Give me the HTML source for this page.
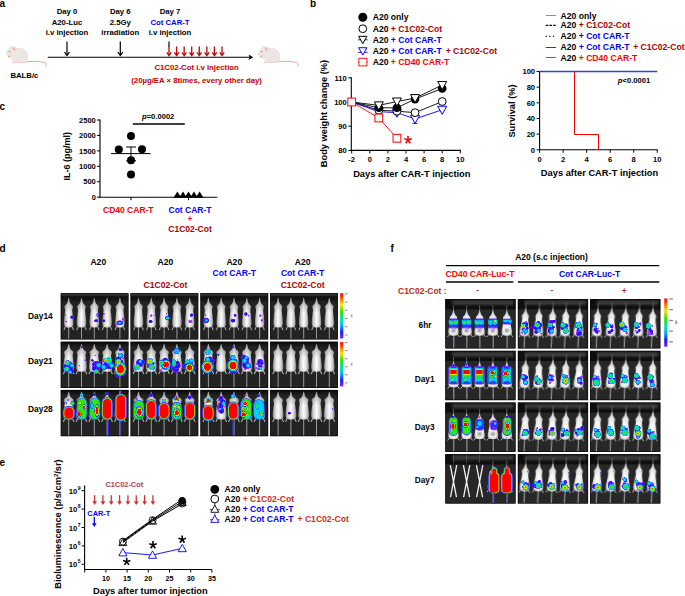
<!DOCTYPE html>
<html><head><meta charset="utf-8"><title>Figure</title>
<style>
html,body{margin:0;padding:0;background:#fff;}
body{width:685px;height:596px;overflow:hidden;font-family:"Liberation Sans",sans-serif;}
svg{display:block;}
text{font-family:"Liberation Sans",sans-serif;}
</style></head><body>
<svg width="685" height="596" viewBox="0 0 685 596">
<defs>
<filter id="fm" x="-20%" y="-10%" width="140%" height="120%"><feGaussianBlur stdDeviation="0.45"/></filter>
<filter id="fb" x="-30%" y="-30%" width="160%" height="160%"><feGaussianBlur stdDeviation="0.5"/></filter>
<filter id="fs" x="-10%" y="-30%" width="120%" height="160%"><feGaussianBlur stdDeviation="0.8"/></filter>
<linearGradient id="mg" x1="0" x2="1" y1="0" y2="0"><stop offset="0" stop-color="#7a7a7a"/><stop offset="0.2" stop-color="#cfcfcf"/><stop offset="0.5" stop-color="#fdfdfd"/><stop offset="0.8" stop-color="#cfcfcf"/><stop offset="1" stop-color="#7a7a7a"/></linearGradient>
<linearGradient id="mgf" x1="0" x2="1" y1="0" y2="0"><stop offset="0" stop-color="#a8a8a8"/><stop offset="0.18" stop-color="#e6e6e6"/><stop offset="0.5" stop-color="#ffffff"/><stop offset="0.82" stop-color="#e6e6e6"/><stop offset="1" stop-color="#a8a8a8"/></linearGradient>
<linearGradient id="mvf" x1="0" x2="0" y1="0" y2="1"><stop offset="0" stop-color="#000" stop-opacity="0.3"/><stop offset="0.25" stop-color="#000" stop-opacity="0.08"/><stop offset="0.5" stop-color="#000" stop-opacity="0"/><stop offset="0.9" stop-color="#000" stop-opacity="0"/><stop offset="1" stop-color="#000" stop-opacity="0.15"/></linearGradient>
<linearGradient id="mv" x1="0" x2="0" y1="0" y2="1"><stop offset="0" stop-color="#000" stop-opacity="0.42"/><stop offset="0.3" stop-color="#000" stop-opacity="0.12"/><stop offset="0.5" stop-color="#000" stop-opacity="0"/><stop offset="0.9" stop-color="#000" stop-opacity="0.0"/><stop offset="1" stop-color="#000" stop-opacity="0.1"/></linearGradient>
<radialGradient id="belly"><stop offset="0" stop-color="#777" stop-opacity="0.75"/><stop offset="0.6" stop-color="#888" stop-opacity="0.5"/><stop offset="1" stop-color="#999" stop-opacity="0"/></radialGradient>
<radialGradient id="gG2"><stop offset="0" stop-color="#40f000"/><stop offset="0.42" stop-color="#19e620"/><stop offset="0.6" stop-color="#00e0ff"/><stop offset="0.82" stop-color="#00b8ff"/><stop offset="0.95" stop-color="#1535ff"/><stop offset="1" stop-color="#1535ff" stop-opacity="0"/></radialGradient>
<radialGradient id="gC2"><stop offset="0" stop-color="#00f0ff"/><stop offset="0.6" stop-color="#00c0ff"/><stop offset="0.9" stop-color="#1535ff"/><stop offset="1" stop-color="#1535ff" stop-opacity="0"/></radialGradient>
<radialGradient id="gY2"><stop offset="0" stop-color="#ff1000"/><stop offset="0.22" stop-color="#ff8000"/><stop offset="0.4" stop-color="#f0f000"/><stop offset="0.6" stop-color="#30e800"/><stop offset="0.8" stop-color="#00e0ff"/><stop offset="0.95" stop-color="#1535ff"/><stop offset="1" stop-color="#1535ff" stop-opacity="0"/></radialGradient>
<linearGradient id="vD1" x1="0" x2="0" y1="0" y2="1"><stop offset="0" stop-color="#7a20ff"/><stop offset="0.06" stop-color="#1535ff"/><stop offset="0.12" stop-color="#00d0ff"/><stop offset="0.16" stop-color="#30e800"/><stop offset="0.19" stop-color="#ffe000"/><stop offset="0.23" stop-color="#ff0000"/><stop offset="0.42" stop-color="#ff0000"/><stop offset="0.46" stop-color="#ffe000"/><stop offset="0.5" stop-color="#30e800"/><stop offset="0.66" stop-color="#20e040"/><stop offset="0.74" stop-color="#00d8ff"/><stop offset="0.84" stop-color="#00a0ff"/><stop offset="0.9" stop-color="#1535ff"/><stop offset="1" stop-color="#7a20ff"/></linearGradient>
<linearGradient id="hRim" x1="0" x2="1" y1="0" y2="0"><stop offset="0" stop-color="#7a20ff"/><stop offset="0.06" stop-color="#1535ff"/><stop offset="0.13" stop-color="#00c8ff" stop-opacity="0.9"/><stop offset="0.2" stop-color="#30e800" stop-opacity="0.5"/><stop offset="0.27" stop-color="#ffe000" stop-opacity="0"/><stop offset="0.73" stop-color="#ffe000" stop-opacity="0"/><stop offset="0.8" stop-color="#30e800" stop-opacity="0.5"/><stop offset="0.87" stop-color="#00c8ff" stop-opacity="0.9"/><stop offset="0.94" stop-color="#1535ff"/><stop offset="1" stop-color="#7a20ff"/></linearGradient>
<linearGradient id="vD0" x1="0" x2="0" y1="0" y2="1"><stop offset="0" stop-color="#7020ff"/><stop offset="0.08" stop-color="#1535ff"/><stop offset="0.2" stop-color="#00c0ff"/><stop offset="0.5" stop-color="#00a8ff"/><stop offset="0.62" stop-color="#1535ff"/><stop offset="0.85" stop-color="#4a28ff"/><stop offset="1" stop-color="#8a30ff" stop-opacity="0.7"/></linearGradient>
<linearGradient id="vD1b" x1="0" x2="0" y1="0" y2="1"><stop offset="0" stop-color="#7a20ff"/><stop offset="0.08" stop-color="#1535ff"/><stop offset="0.2" stop-color="#00b0ff"/><stop offset="0.3" stop-color="#20e060"/><stop offset="0.6" stop-color="#30e800"/><stop offset="0.72" stop-color="#00d8ff"/><stop offset="0.84" stop-color="#00a0ff"/><stop offset="0.9" stop-color="#1535ff"/><stop offset="1" stop-color="#7a20ff"/></linearGradient>
<radialGradient id="gH"><stop offset="0" stop-color="#ff0000"/><stop offset="0.5" stop-color="#ff0000"/><stop offset="0.6" stop-color="#ffe600"/><stop offset="0.7" stop-color="#19e600"/><stop offset="0.8" stop-color="#00e0ff"/><stop offset="0.9" stop-color="#0a20ff"/><stop offset="0.97" stop-color="#8a20ff"/><stop offset="1" stop-color="#8a20ff" stop-opacity="0"/></radialGradient>
<radialGradient id="gR"><stop offset="0" stop-color="#ff0000"/><stop offset="0.72" stop-color="#ff0000"/><stop offset="0.8" stop-color="#ffe600"/><stop offset="0.86" stop-color="#19e600"/><stop offset="0.91" stop-color="#00e0ff"/><stop offset="0.96" stop-color="#0a20ff"/><stop offset="1" stop-color="#8a20ff" stop-opacity="0.2"/></radialGradient>
<radialGradient id="gY"><stop offset="0" stop-color="#ff2a00"/><stop offset="0.2" stop-color="#ffb000"/><stop offset="0.38" stop-color="#d8f000"/><stop offset="0.55" stop-color="#19e600"/><stop offset="0.7" stop-color="#00e0ff"/><stop offset="0.86" stop-color="#0a20ff"/><stop offset="0.96" stop-color="#8a20ff"/><stop offset="1" stop-color="#8a20ff" stop-opacity="0"/></radialGradient>
<radialGradient id="gG"><stop offset="0" stop-color="#30f000"/><stop offset="0.3" stop-color="#19e640"/><stop offset="0.5" stop-color="#00e0ff"/><stop offset="0.75" stop-color="#0a20ff"/><stop offset="0.95" stop-color="#8a20ff"/><stop offset="1" stop-color="#8a20ff" stop-opacity="0"/></radialGradient>
<radialGradient id="gC"><stop offset="0" stop-color="#00f0ff"/><stop offset="0.3" stop-color="#00b0ff"/><stop offset="0.6" stop-color="#0a20ff"/><stop offset="0.92" stop-color="#8a20ff"/><stop offset="1" stop-color="#8a20ff" stop-opacity="0"/></radialGradient>
<radialGradient id="gB"><stop offset="0" stop-color="#0020ff"/><stop offset="0.55" stop-color="#2010ff"/><stop offset="0.9" stop-color="#9020ff"/><stop offset="1" stop-color="#9020ff" stop-opacity="0"/></radialGradient>
<radialGradient id="gP"><stop offset="0" stop-color="#8a20ff"/><stop offset="0.7" stop-color="#a040ff" stop-opacity="0.9"/><stop offset="1" stop-color="#b060ff" stop-opacity="0"/></radialGradient>
<linearGradient id="cb" x1="0" x2="0" y1="0" y2="1"><stop offset="0" stop-color="#ff0000"/><stop offset="0.1" stop-color="#ff5000"/><stop offset="0.25" stop-color="#ffe000"/><stop offset="0.42" stop-color="#30e000"/><stop offset="0.6" stop-color="#00e0c0"/><stop offset="0.72" stop-color="#00b0ff"/><stop offset="0.86" stop-color="#1020ff"/><stop offset="1" stop-color="#8a20e0"/></linearGradient>
<g id="md" filter="url(#fm)">
 <line x1="0" y1="28" x2="0" y2="52" stroke="#b0b0b0" stroke-width="0.85"/>
 <path d="M-3.4 28.4 L-4.9 32.2 M3.4 28.4 L4.9 32.2" stroke="#b4b4b4" stroke-width="1.0" fill="none"/>
 <path id="mdp" d="M0 -0.3 L0.6 1.5 L0.9 3.5 L1.5 5.2 L2.4 6.4 L3.4 7.2 L4.4 8.3 L4.5 9.4 L3.9 10.8 L3.7 12.5 L4.0 15 L4.5 19 L4.9 23 L4.9 26 L4.3 28.2 L2.8 29.4 L0 29.7 L-2.8 29.4 L-4.3 28.2 L-4.9 26 L-4.9 23 L-4.5 19 L-4.0 15 L-3.7 12.5 L-3.9 10.8 L-4.5 9.4 L-4.4 8.3 L-3.4 7.2 L-2.4 6.4 L-1.5 5.2 L-0.9 3.5 L-0.6 1.5 Z" fill="url(#mg)"/>
 <path d="M0 -0.3 L0.6 1.5 L0.9 3.5 L1.5 5.2 L2.4 6.4 L3.4 7.2 L4.4 8.3 L4.5 9.4 L3.9 10.8 L3.7 12.5 L4.0 15 L4.5 19 L4.9 23 L4.9 26 L4.3 28.2 L2.8 29.4 L0 29.7 L-2.8 29.4 L-4.3 28.2 L-4.9 26 L-4.9 23 L-4.5 19 L-4.0 15 L-3.7 12.5 L-3.9 10.8 L-4.5 9.4 L-4.4 8.3 L-3.4 7.2 L-2.4 6.4 L-1.5 5.2 L-0.9 3.5 L-0.6 1.5 Z" fill="url(#mv)"/>
</g>
<g id="mf" filter="url(#fm)">
 <line x1="0.3" y1="27" x2="0.3" y2="48" stroke="#bcbcbc" stroke-width="0.95"/>
 <line x1="0" y1="-5" x2="0" y2="0" stroke="#6a6a6a" stroke-width="0.9"/>
 <path d="M-3.6 26.8 L-6.2 30.6 M3.8 26.8 L6.2 30.6" stroke="#c0c0c0" stroke-width="1.0" fill="none"/>
 <path d="M0 -0.3 L0.6 1.6 L1.0 3.6 L1.8 5.4 L2.9 6.8 L3.9 8.0 L3.8 9.8 L3.4 12 L3.8 15 L4.6 19 L5.4 23 L5.5 26 L4.6 28 L2.8 28.9 L0 29.1 L-2.8 28.9 L-4.6 28 L-5.5 26 L-5.4 23 L-4.6 19 L-3.8 15 L-3.4 12 L-3.8 9.8 L-3.9 8.0 L-2.9 6.8 L-1.8 5.4 L-1.0 3.6 L-0.6 1.6 Z" fill="url(#mgf)"/>
 <path d="M0 -0.3 L0.6 1.6 L1.0 3.6 L1.8 5.4 L2.9 6.8 L3.9 8.0 L3.8 9.8 L3.4 12 L3.8 15 L4.6 19 L5.4 23 L5.5 26 L4.6 28 L2.8 28.9 L0 29.1 L-2.8 28.9 L-4.6 28 L-5.5 26 L-5.4 23 L-4.6 19 L-3.8 15 L-3.4 12 L-3.8 9.8 L-3.9 8.0 L-2.9 6.8 L-1.8 5.4 L-1.0 3.6 L-0.6 1.6 Z" fill="url(#mvf)"/>
</g>
<g id="mfb"><ellipse cx="0" cy="23.4" rx="3.1" ry="3.6" fill="url(#belly)"/></g>
</defs>
<text x="-0.60" y="6.88" font-size="10" font-weight="bold" fill="#000" text-anchor="start" >a</text>
<text x="67.00" y="14.27" font-size="7.75" font-weight="bold" fill="#000" text-anchor="middle" >Day 0</text>
<text x="67.00" y="25.27" font-size="7.75" font-weight="bold" fill="#000" text-anchor="middle" >A20-Luc</text>
<text x="67.00" y="34.97" font-size="7.75" font-weight="bold" fill="#000" text-anchor="middle" >i.v injection</text>
<text x="120.30" y="14.27" font-size="7.75" font-weight="bold" fill="#000" text-anchor="middle" >Day 6</text>
<text x="120.30" y="25.27" font-size="7.75" font-weight="bold" fill="#000" text-anchor="middle" >2.5Gy</text>
<text x="120.30" y="34.97" font-size="7.75" font-weight="bold" fill="#000" text-anchor="middle" >irradiation</text>
<text x="170.00" y="14.27" font-size="7.75" font-weight="bold" fill="#000" text-anchor="middle" >Day 7</text>
<text x="170.00" y="25.27" font-size="7.75" font-weight="bold" fill="#0000ff" text-anchor="middle" >Cot CAR-T</text>
<text x="170.00" y="34.97" font-size="7.75" font-weight="bold" fill="#000" text-anchor="middle" >i.v injection</text>
<line x1="47.70" y1="57.30" x2="250.00" y2="57.30" stroke="#000" stroke-width="1.1" />
<path d="M248.5 54.6 L253.3 57.3 L248.5 60 L249.6 57.3 Z" fill="#000"/>
<line x1="67.00" y1="41.50" x2="67.00" y2="54.90" stroke="#000" stroke-width="1.2" />
<path d="M64.50 52.00 L67.00 55.40 L69.50 52.00" fill="none" stroke="#000" stroke-width="1.2" stroke-linejoin="miter"/>
<line x1="120.30" y1="41.50" x2="120.30" y2="54.90" stroke="#000" stroke-width="1.2" />
<path d="M117.80 52.00 L120.30 55.40 L122.80 52.00" fill="none" stroke="#000" stroke-width="1.2" stroke-linejoin="miter"/>
<line x1="169.00" y1="41.50" x2="169.00" y2="47.00" stroke="#000" stroke-width="1.2" />
<line x1="169.00" y1="46.50" x2="169.00" y2="55.10" stroke="#c40000" stroke-width="1.3" />
<path d="M166.80 52.40 L169.00 55.60 L171.20 52.40" fill="none" stroke="#c40000" stroke-width="1.3" stroke-linejoin="miter"/>
<line x1="176.57" y1="46.50" x2="176.57" y2="55.10" stroke="#c40000" stroke-width="1.3" />
<path d="M174.37 52.40 L176.57 55.60 L178.77 52.40" fill="none" stroke="#c40000" stroke-width="1.3" stroke-linejoin="miter"/>
<line x1="184.14" y1="46.50" x2="184.14" y2="55.10" stroke="#c40000" stroke-width="1.3" />
<path d="M181.94 52.40 L184.14 55.60 L186.34 52.40" fill="none" stroke="#c40000" stroke-width="1.3" stroke-linejoin="miter"/>
<line x1="191.71" y1="46.50" x2="191.71" y2="55.10" stroke="#c40000" stroke-width="1.3" />
<path d="M189.51 52.40 L191.71 55.60 L193.91 52.40" fill="none" stroke="#c40000" stroke-width="1.3" stroke-linejoin="miter"/>
<line x1="199.28" y1="46.50" x2="199.28" y2="55.10" stroke="#c40000" stroke-width="1.3" />
<path d="M197.08 52.40 L199.28 55.60 L201.48 52.40" fill="none" stroke="#c40000" stroke-width="1.3" stroke-linejoin="miter"/>
<line x1="206.85" y1="46.50" x2="206.85" y2="55.10" stroke="#c40000" stroke-width="1.3" />
<path d="M204.65 52.40 L206.85 55.60 L209.05 52.40" fill="none" stroke="#c40000" stroke-width="1.3" stroke-linejoin="miter"/>
<line x1="214.42" y1="46.50" x2="214.42" y2="55.10" stroke="#c40000" stroke-width="1.3" />
<path d="M212.22 52.40 L214.42 55.60 L216.62 52.40" fill="none" stroke="#c40000" stroke-width="1.3" stroke-linejoin="miter"/>
<line x1="221.99" y1="46.50" x2="221.99" y2="55.10" stroke="#c40000" stroke-width="1.3" />
<path d="M219.79 52.40 L221.99 55.60 L224.19 52.40" fill="none" stroke="#c40000" stroke-width="1.3" stroke-linejoin="miter"/>
<text x="196.60" y="70.17" font-size="7.75" font-weight="bold" fill="#c00000" text-anchor="middle" >C1C02-Cot i.v injection</text>
<text x="196.60" y="83.17" font-size="7.75" font-weight="bold" fill="#c00000" text-anchor="middle" >(20µg/EA × 8times, every other day)</text>
<text x="24.40" y="78.47" font-size="7.75" font-weight="bold" fill="#000" text-anchor="middle" >BALB/c</text>
<g transform="translate(0 0)"><path d="M25 61.7 C31 61.4 40 61 44.8 62.7 C46.3 63.4 46.4 65.2 45.6 66.4" fill="none" stroke="#ec9a94" stroke-width="0.9" stroke-linecap="round"/><path d="M11.8 62.6 L25.2 62.4" fill="none" stroke="#f0a8a0" stroke-width="0.7"/><path d="M6.1 53.6 C6.8 51 8.2 48.8 10.2 47.3 C11.5 46.2 13 46.3 14.5 47.4 C16 48 17.5 48 19.5 48.1 C23.5 48.3 27 51 27.8 55 C28.4 58.5 27 61.5 25.2 62.3 L14.2 62.4 C12.8 61.5 12 60 11.8 58.5 C10.5 58.6 9 58 8.3 57 C7.6 56.4 7.4 55.8 7.6 55.2 C6.8 54.9 6.2 54.3 6.1 53.6 Z" fill="#ece7e4" stroke="#ddd5d0" stroke-width="0.35"/><path d="M16.5 62.2 C16.6 57.5 20.5 55 24.8 56.6" fill="none" stroke="#d9d1cc" stroke-width="0.45"/><ellipse cx="11.2" cy="47.2" rx="1.2" ry="1.5" fill="#efe6e2"/><ellipse cx="14.1" cy="48.8" rx="1.7" ry="2.1" transform="rotate(-25 14.1 48.8)" fill="#f0dcd8" stroke="#e2cfca" stroke-width="0.3"/><ellipse cx="14.2" cy="49" rx="1.0" ry="1.4" transform="rotate(-25 14.2 49)" fill="#f2aaa6"/><circle cx="9.5" cy="51.5" r="0.6" fill="#c63a32"/><circle cx="6.4" cy="53.7" r="0.5" fill="#f0b0aa"/><ellipse cx="9.2" cy="56.4" rx="1.3" ry="0.85" fill="#f4aaa4"/><path d="M10.5 53.5 L12.2 54.2 M10.6 54.6 L12 55.4" stroke="#d8cfca" stroke-width="0.3"/></g>
<g transform="translate(252.1 0)"><path d="M25 61.7 C31 61.4 40 61 44.8 62.7 C46.3 63.4 46.4 65.2 45.6 66.4" fill="none" stroke="#ec9a94" stroke-width="0.9" stroke-linecap="round"/><path d="M11.8 62.6 L25.2 62.4" fill="none" stroke="#f0a8a0" stroke-width="0.7"/><path d="M6.1 53.6 C6.8 51 8.2 48.8 10.2 47.3 C11.5 46.2 13 46.3 14.5 47.4 C16 48 17.5 48 19.5 48.1 C23.5 48.3 27 51 27.8 55 C28.4 58.5 27 61.5 25.2 62.3 L14.2 62.4 C12.8 61.5 12 60 11.8 58.5 C10.5 58.6 9 58 8.3 57 C7.6 56.4 7.4 55.8 7.6 55.2 C6.8 54.9 6.2 54.3 6.1 53.6 Z" fill="#ece7e4" stroke="#ddd5d0" stroke-width="0.35"/><path d="M16.5 62.2 C16.6 57.5 20.5 55 24.8 56.6" fill="none" stroke="#d9d1cc" stroke-width="0.45"/><ellipse cx="11.2" cy="47.2" rx="1.2" ry="1.5" fill="#efe6e2"/><ellipse cx="14.1" cy="48.8" rx="1.7" ry="2.1" transform="rotate(-25 14.1 48.8)" fill="#f0dcd8" stroke="#e2cfca" stroke-width="0.3"/><ellipse cx="14.2" cy="49" rx="1.0" ry="1.4" transform="rotate(-25 14.2 49)" fill="#f2aaa6"/><circle cx="9.5" cy="51.5" r="0.6" fill="#c63a32"/><circle cx="6.4" cy="53.7" r="0.5" fill="#f0b0aa"/><ellipse cx="9.2" cy="56.4" rx="1.3" ry="0.85" fill="#f4aaa4"/><path d="M10.5 53.5 L12.2 54.2 M10.6 54.6 L12 55.4" stroke="#d8cfca" stroke-width="0.3"/></g>
<text x="310.00" y="7.18" font-size="10" font-weight="bold" fill="#000" text-anchor="start" >b</text>
<circle cx="362.8" cy="17.2" r="4.5" fill="#000"/>
<circle cx="362.8" cy="28.7" r="3.9" fill="#fff" stroke="#000" stroke-width="1.0"/>
<line x1="357.90" y1="39.80" x2="367.70" y2="39.80" stroke="#000" stroke-width="0.8" />
<path d="M358.70 36.32 L366.90 36.32 L362.80 43.70 Z" fill="#fff" stroke="#000" stroke-width="1.0"/>
<line x1="357.90" y1="52.40" x2="367.70" y2="52.40" stroke="#0000ff" stroke-width="0.8" />
<path d="M358.70 47.72 L366.90 47.72 L362.80 55.09 Z" fill="#fff" stroke="#0000ff" stroke-width="1.0"/>
<rect x="358.90000000000003" y="58.300000000000004" width="8.0" height="7.6" fill="#fff" stroke="#ff0000" stroke-width="0.9"/>
<line x1="357.90" y1="62.20" x2="358.90" y2="62.20" stroke="#ff0000" stroke-width="0.8" />
<line x1="366.90" y1="62.20" x2="367.90" y2="62.20" stroke="#ff0000" stroke-width="0.8" />
<text x="372.70" y="20.08" font-size="8.6" font-weight="bold" text-anchor="start" xml:space="preserve"><tspan fill="#000">A20 only</tspan></text>
<text x="372.70" y="31.58" font-size="8.6" font-weight="bold" text-anchor="start" xml:space="preserve"><tspan fill="#000">A20 </tspan><tspan fill="#aa0000">+ C1C02-Cot</tspan></text>
<text x="372.70" y="42.68" font-size="8.6" font-weight="bold" text-anchor="start" xml:space="preserve"><tspan fill="#000">A20 </tspan><tspan fill="#0000ff">+ Cot CAR-T</tspan></text>
<text x="372.70" y="54.08" font-size="8.6" font-weight="bold" text-anchor="start" xml:space="preserve"><tspan fill="#000">A20 </tspan><tspan fill="#0000ff">+ Cot CAR-T </tspan><tspan fill="#aa0000" dx="1.6">+ C1C02-Cot</tspan></text>
<text x="372.70" y="65.28" font-size="8.6" font-weight="bold" text-anchor="start" xml:space="preserve"><tspan fill="#000">A20 </tspan><tspan fill="#ff0000">+ CD40 CAR-T</tspan></text>
<line x1="351.30" y1="77.30" x2="351.30" y2="150.90" stroke="#000" stroke-width="1.1" />
<line x1="350.80" y1="150.40" x2="460.80" y2="150.40" stroke="#000" stroke-width="1.1" />
<line x1="348.30" y1="150.40" x2="351.30" y2="150.40" stroke="#000" stroke-width="1.0" />
<text x="346.80" y="153.12" font-size="7.6" font-weight="bold" fill="#000" text-anchor="end" >80</text>
<line x1="348.30" y1="126.20" x2="351.30" y2="126.20" stroke="#000" stroke-width="1.0" />
<text x="346.80" y="128.92" font-size="7.6" font-weight="bold" fill="#000" text-anchor="end" >90</text>
<line x1="348.30" y1="102.00" x2="351.30" y2="102.00" stroke="#000" stroke-width="1.0" />
<text x="346.80" y="104.72" font-size="7.6" font-weight="bold" fill="#000" text-anchor="end" >100</text>
<line x1="348.30" y1="77.80" x2="351.30" y2="77.80" stroke="#000" stroke-width="1.0" />
<text x="346.80" y="80.52" font-size="7.6" font-weight="bold" fill="#000" text-anchor="end" >110</text>
<line x1="351.70" y1="150.40" x2="351.70" y2="153.40" stroke="#000" stroke-width="1.0" />
<text x="351.70" y="162.32" font-size="7.6" font-weight="bold" fill="#000" text-anchor="middle" >-2</text>
<line x1="369.80" y1="150.40" x2="369.80" y2="153.40" stroke="#000" stroke-width="1.0" />
<text x="369.80" y="162.32" font-size="7.6" font-weight="bold" fill="#000" text-anchor="middle" >0</text>
<line x1="387.90" y1="150.40" x2="387.90" y2="153.40" stroke="#000" stroke-width="1.0" />
<text x="387.90" y="162.32" font-size="7.6" font-weight="bold" fill="#000" text-anchor="middle" >2</text>
<line x1="406.00" y1="150.40" x2="406.00" y2="153.40" stroke="#000" stroke-width="1.0" />
<text x="406.00" y="162.32" font-size="7.6" font-weight="bold" fill="#000" text-anchor="middle" >4</text>
<line x1="424.10" y1="150.40" x2="424.10" y2="153.40" stroke="#000" stroke-width="1.0" />
<text x="424.10" y="162.32" font-size="7.6" font-weight="bold" fill="#000" text-anchor="middle" >6</text>
<line x1="442.20" y1="150.40" x2="442.20" y2="153.40" stroke="#000" stroke-width="1.0" />
<text x="442.20" y="162.32" font-size="7.6" font-weight="bold" fill="#000" text-anchor="middle" >8</text>
<line x1="460.30" y1="150.40" x2="460.30" y2="153.40" stroke="#000" stroke-width="1.0" />
<text x="460.30" y="162.32" font-size="7.6" font-weight="bold" fill="#000" text-anchor="middle" >10</text>
<text x="411.80" y="176.53" font-size="9.3" font-weight="bold" fill="#000" text-anchor="middle" >Days after CAR-T injection</text>
<text x="324.00" y="116.83" font-size="9.3" font-weight="bold" fill="#000" text-anchor="middle" transform="rotate(-90 324 113.5)" >Body weight change (%)</text>
<polyline points="351.70,102.00 378.85,107.81 396.95,107.81 415.05,99.10 442.20,88.45" fill="none" stroke="#000" stroke-width="0.9"/>
<polyline points="351.70,102.00 378.85,110.23 396.95,111.20 415.05,112.65 442.20,101.52" fill="none" stroke="#000" stroke-width="0.9"/>
<polyline points="351.70,102.00 378.85,105.39 396.95,101.52 415.05,98.13 442.20,85.06" fill="none" stroke="#000" stroke-width="0.9"/>
<polyline points="351.70,102.00 378.85,111.68 396.95,112.65 415.05,118.94 442.20,109.74" fill="none" stroke="#0000ff" stroke-width="0.9"/>
<polyline points="351.70,102.00 378.85,117.97 396.95,138.30" fill="none" stroke="#ff0000" stroke-width="0.9"/>
<line x1="415.05" y1="114.94" x2="415.05" y2="123.54" stroke="#0000ff" stroke-width="0.8" />
<line x1="412.45" y1="123.54" x2="417.65" y2="123.54" stroke="#0000ff" stroke-width="0.8" />
<path d="M374.35 108.16 L383.35 108.16 L378.85 116.26 Z" fill="#fff" stroke="#0000ff" stroke-width="1.0"/>
<path d="M392.45 109.12 L401.45 109.12 L396.95 117.22 Z" fill="#fff" stroke="#0000ff" stroke-width="1.0"/>
<path d="M410.55 115.41 L419.55 115.41 L415.05 123.52 Z" fill="#fff" stroke="#0000ff" stroke-width="1.0"/>
<path d="M437.70 106.22 L446.70 106.22 L442.20 114.32 Z" fill="#fff" stroke="#0000ff" stroke-width="1.0"/>
<circle cx="378.85" cy="110.23" r="3.9" fill="#fff" stroke="#000" stroke-width="1.0"/>
<circle cx="396.95" cy="111.20" r="3.9" fill="#fff" stroke="#000" stroke-width="1.0"/>
<circle cx="415.05" cy="112.65" r="3.9" fill="#fff" stroke="#000" stroke-width="1.0"/>
<circle cx="442.20" cy="101.52" r="3.9" fill="#fff" stroke="#000" stroke-width="1.0"/>
<circle cx="378.85" cy="107.81" r="4.3" fill="#000"/>
<circle cx="396.95" cy="107.81" r="4.3" fill="#000"/>
<circle cx="415.05" cy="99.10" r="4.3" fill="#000"/>
<circle cx="442.20" cy="88.45" r="4.3" fill="#000"/>
<path d="M374.35 101.86 L383.35 101.86 L378.85 109.96 Z" fill="#fff" stroke="#000" stroke-width="1.0"/>
<path d="M392.45 97.99 L401.45 97.99 L396.95 106.09 Z" fill="#fff" stroke="#000" stroke-width="1.0"/>
<path d="M410.55 94.60 L419.55 94.60 L415.05 102.70 Z" fill="#fff" stroke="#000" stroke-width="1.0"/>
<path d="M437.70 81.53 L446.70 81.53 L442.20 89.64 Z" fill="#fff" stroke="#000" stroke-width="1.0"/>
<rect x="347.80" y="98.10" width="7.8" height="7.8" fill="#fff" stroke="#ff0000" stroke-width="1.0"/>
<rect x="374.95" y="114.07" width="7.8" height="7.8" fill="#fff" stroke="#ff0000" stroke-width="1.0"/>
<rect x="393.05" y="134.40" width="7.8" height="7.8" fill="#fff" stroke="#ff0000" stroke-width="1.0"/>
<line x1="408.00" y1="140.00" x2="408.00" y2="136.10" stroke="#ff0000" stroke-width="1.6" stroke-linecap="butt"/>
<line x1="408.00" y1="140.00" x2="411.71" y2="138.79" stroke="#ff0000" stroke-width="1.6" stroke-linecap="butt"/>
<line x1="408.00" y1="140.00" x2="410.29" y2="143.16" stroke="#ff0000" stroke-width="1.6" stroke-linecap="butt"/>
<line x1="408.00" y1="140.00" x2="405.71" y2="143.16" stroke="#ff0000" stroke-width="1.6" stroke-linecap="butt"/>
<line x1="408.00" y1="140.00" x2="404.29" y2="138.79" stroke="#ff0000" stroke-width="1.6" stroke-linecap="butt"/>
<line x1="545.70" y1="15.50" x2="556.00" y2="15.50" stroke="#8c8c8c" stroke-width="1.0" />
<line x1="545.70" y1="25.30" x2="556.00" y2="25.30" stroke="#000" stroke-width="1.2" stroke-dasharray="2.6 1.1"/>
<line x1="545.70" y1="36.40" x2="556.00" y2="36.40" stroke="#000" stroke-width="1.2" stroke-dasharray="1.2 2.4"/>
<line x1="545.70" y1="47.50" x2="556.00" y2="47.50" stroke="#1414ff" stroke-width="0.9" />
<line x1="545.70" y1="57.50" x2="556.00" y2="57.50" stroke="#ff3028" stroke-width="1.0" />
<text x="560.60" y="18.58" font-size="8.6" font-weight="bold" text-anchor="start" xml:space="preserve"><tspan fill="#000">A20 only</tspan></text>
<text x="560.60" y="28.38" font-size="8.6" font-weight="bold" text-anchor="start" xml:space="preserve"><tspan fill="#000">A20 </tspan><tspan fill="#aa0000">+ C1C02-Cot</tspan></text>
<text x="560.60" y="39.48" font-size="8.6" font-weight="bold" text-anchor="start" xml:space="preserve"><tspan fill="#000">A20 </tspan><tspan fill="#0000ff">+ Cot CAR-T</tspan></text>
<text x="560.60" y="50.28" font-size="8.6" font-weight="bold" text-anchor="start" xml:space="preserve"><tspan fill="#000">A20 </tspan><tspan fill="#0000ff">+ Cot CAR-T </tspan><tspan fill="#aa0000" dx="1.2">+ C1C02-Cot</tspan></text>
<text x="560.60" y="60.68" font-size="8.6" font-weight="bold" text-anchor="start" xml:space="preserve"><tspan fill="#000">A20 </tspan><tspan fill="#ff0000">+ CD40 CAR-T</tspan></text>
<line x1="539.60" y1="71.00" x2="539.60" y2="150.30" stroke="#000" stroke-width="1.1" />
<line x1="539.10" y1="149.80" x2="657.75" y2="149.80" stroke="#000" stroke-width="1.1" />
<line x1="536.60" y1="149.80" x2="539.60" y2="149.80" stroke="#000" stroke-width="1.0" />
<text x="535.10" y="152.52" font-size="7.6" font-weight="bold" fill="#000" text-anchor="end" >0</text>
<line x1="536.60" y1="134.14" x2="539.60" y2="134.14" stroke="#000" stroke-width="1.0" />
<text x="535.10" y="136.86" font-size="7.6" font-weight="bold" fill="#000" text-anchor="end" >20</text>
<line x1="536.60" y1="118.48" x2="539.60" y2="118.48" stroke="#000" stroke-width="1.0" />
<text x="535.10" y="121.20" font-size="7.6" font-weight="bold" fill="#000" text-anchor="end" >40</text>
<line x1="536.60" y1="102.82" x2="539.60" y2="102.82" stroke="#000" stroke-width="1.0" />
<text x="535.10" y="105.54" font-size="7.6" font-weight="bold" fill="#000" text-anchor="end" >60</text>
<line x1="536.60" y1="87.16" x2="539.60" y2="87.16" stroke="#000" stroke-width="1.0" />
<text x="535.10" y="89.88" font-size="7.6" font-weight="bold" fill="#000" text-anchor="end" >80</text>
<line x1="536.60" y1="71.50" x2="539.60" y2="71.50" stroke="#000" stroke-width="1.0" />
<text x="535.10" y="74.22" font-size="7.6" font-weight="bold" fill="#000" text-anchor="end" >100</text>
<line x1="539.60" y1="149.80" x2="539.60" y2="152.80" stroke="#000" stroke-width="1.0" />
<text x="539.60" y="162.32" font-size="7.6" font-weight="bold" fill="#000" text-anchor="middle" >0</text>
<line x1="563.13" y1="149.80" x2="563.13" y2="152.80" stroke="#000" stroke-width="1.0" />
<text x="563.13" y="162.32" font-size="7.6" font-weight="bold" fill="#000" text-anchor="middle" >2</text>
<line x1="586.66" y1="149.80" x2="586.66" y2="152.80" stroke="#000" stroke-width="1.0" />
<text x="586.66" y="162.32" font-size="7.6" font-weight="bold" fill="#000" text-anchor="middle" >4</text>
<line x1="610.19" y1="149.80" x2="610.19" y2="152.80" stroke="#000" stroke-width="1.0" />
<text x="610.19" y="162.32" font-size="7.6" font-weight="bold" fill="#000" text-anchor="middle" >6</text>
<line x1="633.72" y1="149.80" x2="633.72" y2="152.80" stroke="#000" stroke-width="1.0" />
<text x="633.72" y="162.32" font-size="7.6" font-weight="bold" fill="#000" text-anchor="middle" >8</text>
<line x1="657.25" y1="149.80" x2="657.25" y2="152.80" stroke="#000" stroke-width="1.0" />
<text x="657.25" y="162.32" font-size="7.6" font-weight="bold" fill="#000" text-anchor="middle" >10</text>
<text x="599.50" y="176.13" font-size="9.3" font-weight="bold" fill="#000" text-anchor="middle" >Days after CAR-T injection</text>
<text x="511.80" y="114.33" font-size="9.3" font-weight="bold" fill="#000" text-anchor="middle" transform="rotate(-90 511.8 111)" >Survival (%)</text>
<polyline points="539.60,71.50 574.5,71.50 574.5,134.5 598.5,134.5 598.5,149.80" fill="none" stroke="#ff0000" stroke-width="1.0"/>
<line x1="539.60" y1="71.50" x2="657.25" y2="71.50" stroke="#3a3ae0" stroke-width="1.3" />
<text x="634" y="83.32" font-size="7.6" font-weight="bold" text-anchor="middle"><tspan font-style="italic">p</tspan>&lt;0.0001</text>
<text x="-0.60" y="109.68" font-size="10" font-weight="bold" fill="#000" text-anchor="start" >c</text>
<line x1="100.00" y1="119.50" x2="100.00" y2="197.70" stroke="#000" stroke-width="1.1" />
<line x1="99.50" y1="197.20" x2="217.40" y2="197.20" stroke="#000" stroke-width="1.1" />
<line x1="97.00" y1="197.20" x2="100.00" y2="197.20" stroke="#000" stroke-width="1.0" />
<text x="95.80" y="199.88" font-size="7.5" font-weight="bold" fill="#000" text-anchor="end" >0</text>
<line x1="97.00" y1="181.76" x2="100.00" y2="181.76" stroke="#000" stroke-width="1.0" />
<text x="95.80" y="184.44" font-size="7.5" font-weight="bold" fill="#000" text-anchor="end" >500</text>
<line x1="97.00" y1="166.32" x2="100.00" y2="166.32" stroke="#000" stroke-width="1.0" />
<text x="95.80" y="169.00" font-size="7.5" font-weight="bold" fill="#000" text-anchor="end" >1000</text>
<line x1="97.00" y1="150.88" x2="100.00" y2="150.88" stroke="#000" stroke-width="1.0" />
<text x="95.80" y="153.56" font-size="7.5" font-weight="bold" fill="#000" text-anchor="end" >1500</text>
<line x1="97.00" y1="135.44" x2="100.00" y2="135.44" stroke="#000" stroke-width="1.0" />
<text x="95.80" y="138.12" font-size="7.5" font-weight="bold" fill="#000" text-anchor="end" >2000</text>
<line x1="97.00" y1="120.00" x2="100.00" y2="120.00" stroke="#000" stroke-width="1.0" />
<text x="95.80" y="122.68" font-size="7.5" font-weight="bold" fill="#000" text-anchor="end" >2500</text>
<line x1="131.00" y1="197.20" x2="131.00" y2="200.20" stroke="#000" stroke-width="1.0" />
<line x1="188.50" y1="197.20" x2="188.50" y2="200.20" stroke="#000" stroke-width="1.0" />
<text x="66.90" y="159.42" font-size="9.0" font-weight="bold" fill="#000" text-anchor="middle" transform="rotate(-90 66.9 156.2)" >IL-6 (pg/ml)</text>
<text x="158.2" y="119.02" font-size="7.6" font-weight="bold" text-anchor="middle"><tspan font-style="italic">p</tspan>=0.0002</text>
<line x1="132.80" y1="124.00" x2="184.80" y2="124.00" stroke="#000" stroke-width="1.3" />
<line x1="111.00" y1="153.60" x2="150.60" y2="153.60" stroke="#000" stroke-width="1.0" />
<line x1="131.00" y1="147.00" x2="131.00" y2="160.70" stroke="#000" stroke-width="1.0" />
<line x1="126.20" y1="147.00" x2="136.00" y2="147.00" stroke="#000" stroke-width="1.0" />
<line x1="126.20" y1="160.70" x2="136.00" y2="160.70" stroke="#000" stroke-width="1.0" />
<circle cx="131" cy="136" r="4.0" fill="#000"/>
<circle cx="118.8" cy="149.6" r="4.0" fill="#000"/>
<circle cx="142" cy="149.2" r="4.0" fill="#000"/>
<circle cx="131" cy="160.3" r="4.0" fill="#000"/>
<circle cx="131" cy="174.6" r="4.0" fill="#000"/>
<path d="M173.50 197.80 L181.30 197.80 L177.40 191.40 Z" fill="#000"/>
<path d="M179.10 197.80 L186.90 197.80 L183.00 191.40 Z" fill="#000"/>
<path d="M184.60 197.80 L192.40 197.80 L188.50 191.40 Z" fill="#000"/>
<path d="M190.10 197.80 L197.90 197.80 L194.00 191.40 Z" fill="#000"/>
<path d="M195.70 197.80 L203.50 197.80 L199.60 191.40 Z" fill="#000"/>
<text x="128.30" y="212.64" font-size="8.5" font-weight="bold" fill="#ff0000" text-anchor="middle" >CD40 CAR-T</text>
<text x="190.00" y="212.64" font-size="8.5" font-weight="bold" fill="#0000ff" text-anchor="middle" >Cot CAR-T</text>
<text x="190.00" y="222.24" font-size="8.5" font-weight="bold" fill="#e02010" text-anchor="middle" >+</text>
<text x="190.00" y="231.74" font-size="8.5" font-weight="bold" fill="#aa0000" text-anchor="middle" >C1C02-Cot</text>
<text x="-0.60" y="466.08" font-size="10" font-weight="bold" fill="#000" text-anchor="start" >e</text>
<line x1="84.60" y1="485.50" x2="84.60" y2="570.00" stroke="#000" stroke-width="1.1" />
<line x1="84.10" y1="569.50" x2="211.80" y2="569.50" stroke="#000" stroke-width="1.1" />
<line x1="81.60" y1="564.30" x2="84.60" y2="564.30" stroke="#000" stroke-width="1.0" />
<text x="77.20" y="567.48" font-size="7.7" font-weight="bold" text-anchor="end">10</text>
<text x="80.60" y="563.40" font-size="5" font-weight="bold" text-anchor="end">5</text>
<line x1="81.60" y1="545.90" x2="84.60" y2="545.90" stroke="#000" stroke-width="1.0" />
<text x="77.20" y="549.08" font-size="7.7" font-weight="bold" text-anchor="end">10</text>
<text x="80.60" y="545.00" font-size="5" font-weight="bold" text-anchor="end">6</text>
<line x1="81.60" y1="527.50" x2="84.60" y2="527.50" stroke="#000" stroke-width="1.0" />
<text x="77.20" y="530.68" font-size="7.7" font-weight="bold" text-anchor="end">10</text>
<text x="80.60" y="526.60" font-size="5" font-weight="bold" text-anchor="end">7</text>
<line x1="81.60" y1="509.10" x2="84.60" y2="509.10" stroke="#000" stroke-width="1.0" />
<text x="77.20" y="512.28" font-size="7.7" font-weight="bold" text-anchor="end">10</text>
<text x="80.60" y="508.20" font-size="5" font-weight="bold" text-anchor="end">8</text>
<line x1="81.60" y1="490.70" x2="84.60" y2="490.70" stroke="#000" stroke-width="1.0" />
<text x="77.20" y="493.88" font-size="7.7" font-weight="bold" text-anchor="end">10</text>
<text x="80.60" y="489.80" font-size="5" font-weight="bold" text-anchor="end">9</text>
<line x1="84.70" y1="569.50" x2="84.70" y2="572.50" stroke="#000" stroke-width="1.0" />
<line x1="105.90" y1="569.50" x2="105.90" y2="572.50" stroke="#000" stroke-width="1.0" />
<text x="105.90" y="581.38" font-size="7.2" font-weight="bold" fill="#000" text-anchor="middle" >10</text>
<line x1="127.10" y1="569.50" x2="127.10" y2="572.50" stroke="#000" stroke-width="1.0" />
<text x="127.10" y="581.38" font-size="7.2" font-weight="bold" fill="#000" text-anchor="middle" >15</text>
<line x1="148.30" y1="569.50" x2="148.30" y2="572.50" stroke="#000" stroke-width="1.0" />
<text x="148.30" y="581.38" font-size="7.2" font-weight="bold" fill="#000" text-anchor="middle" >20</text>
<line x1="169.50" y1="569.50" x2="169.50" y2="572.50" stroke="#000" stroke-width="1.0" />
<text x="169.50" y="581.38" font-size="7.2" font-weight="bold" fill="#000" text-anchor="middle" >25</text>
<line x1="190.70" y1="569.50" x2="190.70" y2="572.50" stroke="#000" stroke-width="1.0" />
<text x="190.70" y="581.38" font-size="7.2" font-weight="bold" fill="#000" text-anchor="middle" >30</text>
<line x1="211.90" y1="569.50" x2="211.90" y2="572.50" stroke="#000" stroke-width="1.0" />
<text x="211.90" y="581.38" font-size="7.2" font-weight="bold" fill="#000" text-anchor="middle" >35</text>
<text x="150.40" y="593.93" font-size="9.3" font-weight="bold" fill="#000" text-anchor="middle" >Days after tumor injection</text>
<text x="57.8" y="524" font-size="9.3" font-weight="bold" text-anchor="middle" transform="rotate(-90 57.8 524)" dy="3.3">Bioluminescence (p/s/cm<tspan font-size="6" dy="-3.2">2</tspan><tspan dy="3.2">/sr)</tspan></text>
<text x="124.30" y="487.35" font-size="7.4" font-weight="bold" fill="#b23a55" text-anchor="middle" >C1C02-Cot</text>
<line x1="94.60" y1="495.20" x2="94.60" y2="501.70" stroke="#d23030" stroke-width="1.3" />
<path d="M92.30 501.20 L96.90 501.20 L94.60 505.00 Z" fill="#d23030"/>
<line x1="102.93" y1="495.20" x2="102.93" y2="501.70" stroke="#d23030" stroke-width="1.3" />
<path d="M100.63 501.20 L105.23 501.20 L102.93 505.00 Z" fill="#d23030"/>
<line x1="111.26" y1="495.20" x2="111.26" y2="501.70" stroke="#d23030" stroke-width="1.3" />
<path d="M108.96 501.20 L113.56 501.20 L111.26 505.00 Z" fill="#d23030"/>
<line x1="119.59" y1="495.20" x2="119.59" y2="501.70" stroke="#d23030" stroke-width="1.3" />
<path d="M117.29 501.20 L121.89 501.20 L119.59 505.00 Z" fill="#d23030"/>
<line x1="127.92" y1="495.20" x2="127.92" y2="501.70" stroke="#d23030" stroke-width="1.3" />
<path d="M125.62 501.20 L130.22 501.20 L127.92 505.00 Z" fill="#d23030"/>
<line x1="136.25" y1="495.20" x2="136.25" y2="501.70" stroke="#d23030" stroke-width="1.3" />
<path d="M133.95 501.20 L138.55 501.20 L136.25 505.00 Z" fill="#d23030"/>
<line x1="144.58" y1="495.20" x2="144.58" y2="501.70" stroke="#d23030" stroke-width="1.3" />
<path d="M142.28 501.20 L146.88 501.20 L144.58 505.00 Z" fill="#d23030"/>
<line x1="152.91" y1="495.20" x2="152.91" y2="501.70" stroke="#d23030" stroke-width="1.3" />
<path d="M150.61 501.20 L155.21 501.20 L152.91 505.00 Z" fill="#d23030"/>
<text x="98.80" y="515.65" font-size="7.4" font-weight="bold" fill="#0000ff" text-anchor="middle" >CAR-T</text>
<line x1="94.30" y1="517.00" x2="94.30" y2="523.70" stroke="#0000ff" stroke-width="1.3" />
<path d="M92.00 523.20 L96.60 523.20 L94.30 527.00 Z" fill="#0000ff"/>
<polyline points="122.86,540.70 152.54,519.30 182.22,499.35" fill="none" stroke="#000" stroke-width="1.0"/>
<polyline points="122.86,541.60 152.54,520.20 182.22,501.60" fill="none" stroke="#000" stroke-width="1.0"/>
<polyline points="122.86,542.50 152.54,521.10 182.22,503.85" fill="none" stroke="#000" stroke-width="1.0"/>
<polyline points="122.86,552.60 152.54,555.00 182.22,548.40" fill="none" stroke="#0000ff" stroke-width="0.9"/>
<path d="M118.86 545.60 L126.86 545.60 L122.86 538.40 Z" fill="none" stroke="#000" stroke-width="0.9"/>
<circle cx="122.86" cy="541.60" r="3.5" fill="none" stroke="#000" stroke-width="0.9"/>
<path d="M148.54 524.20 L156.54 524.20 L152.54 517.00 Z" fill="none" stroke="#000" stroke-width="0.9"/>
<circle cx="152.54" cy="520.20" r="3.5" fill="none" stroke="#000" stroke-width="0.9"/>
<path d="M178.22 505.60 L186.22 505.60 L182.22 498.40 Z" fill="none" stroke="#000" stroke-width="0.9"/>
<circle cx="182.22" cy="501.60" r="3.5" fill="none" stroke="#000" stroke-width="0.9"/>
<circle cx="182.22" cy="500.6" r="3.6" fill="#000"/>
<circle cx="182.22" cy="503.6" r="3.4" fill="none" stroke="#000" stroke-width="0.9"/>
<path d="M118.76 555.88 L126.96 555.88 L122.86 548.50 Z" fill="#fff" stroke="#0000ff" stroke-width="0.9"/>
<path d="M148.44 558.28 L156.64 558.28 L152.54 550.90 Z" fill="#fff" stroke="#0000ff" stroke-width="0.9"/>
<path d="M178.12 551.68 L186.32 551.68 L182.22 544.30 Z" fill="#fff" stroke="#0000ff" stroke-width="0.9"/>
<line x1="126.70" y1="561.70" x2="126.70" y2="557.80" stroke="#000" stroke-width="1.6" stroke-linecap="butt"/>
<line x1="126.70" y1="561.70" x2="130.41" y2="560.49" stroke="#000" stroke-width="1.6" stroke-linecap="butt"/>
<line x1="126.70" y1="561.70" x2="128.99" y2="564.86" stroke="#000" stroke-width="1.6" stroke-linecap="butt"/>
<line x1="126.70" y1="561.70" x2="124.41" y2="564.86" stroke="#000" stroke-width="1.6" stroke-linecap="butt"/>
<line x1="126.70" y1="561.70" x2="122.99" y2="560.49" stroke="#000" stroke-width="1.6" stroke-linecap="butt"/>
<line x1="153.00" y1="545.00" x2="153.00" y2="541.10" stroke="#000" stroke-width="1.6" stroke-linecap="butt"/>
<line x1="153.00" y1="545.00" x2="156.71" y2="543.79" stroke="#000" stroke-width="1.6" stroke-linecap="butt"/>
<line x1="153.00" y1="545.00" x2="155.29" y2="548.16" stroke="#000" stroke-width="1.6" stroke-linecap="butt"/>
<line x1="153.00" y1="545.00" x2="150.71" y2="548.16" stroke="#000" stroke-width="1.6" stroke-linecap="butt"/>
<line x1="153.00" y1="545.00" x2="149.29" y2="543.79" stroke="#000" stroke-width="1.6" stroke-linecap="butt"/>
<line x1="182.20" y1="539.50" x2="182.20" y2="535.60" stroke="#000" stroke-width="1.6" stroke-linecap="butt"/>
<line x1="182.20" y1="539.50" x2="185.91" y2="538.29" stroke="#000" stroke-width="1.6" stroke-linecap="butt"/>
<line x1="182.20" y1="539.50" x2="184.49" y2="542.66" stroke="#000" stroke-width="1.6" stroke-linecap="butt"/>
<line x1="182.20" y1="539.50" x2="179.91" y2="542.66" stroke="#000" stroke-width="1.6" stroke-linecap="butt"/>
<line x1="182.20" y1="539.50" x2="178.49" y2="538.29" stroke="#000" stroke-width="1.6" stroke-linecap="butt"/>
<circle cx="214.8" cy="489.3" r="4.4" fill="#000"/>
<circle cx="214.8" cy="499" r="3.9" fill="#fff" stroke="#000" stroke-width="1.0"/>
<line x1="209.90" y1="509.70" x2="219.70" y2="509.70" stroke="#000" stroke-width="0.8" />
<line x1="214.80" y1="502.70" x2="214.80" y2="505.90" stroke="#000" stroke-width="0.8" />
<path d="M210.80 512.30 L218.80 512.30 L214.80 505.10 Z" fill="#fff" stroke="#000" stroke-width="0.9"/>
<line x1="209.90" y1="519.80" x2="219.70" y2="519.80" stroke="#0000ff" stroke-width="0.8" />
<line x1="214.80" y1="513.40" x2="214.80" y2="516.00" stroke="#0000ff" stroke-width="0.8" />
<path d="M210.80 522.40 L218.80 522.40 L214.80 515.20 Z" fill="#fff" stroke="#0000ff" stroke-width="0.9"/>
<text x="224.50" y="492.38" font-size="8.6" font-weight="bold" text-anchor="start" xml:space="preserve"><tspan fill="#000">A20 only</tspan></text>
<text x="224.50" y="502.08" font-size="8.6" font-weight="bold" text-anchor="start" xml:space="preserve"><tspan fill="#000">A20 </tspan><tspan fill="#cf2e26">+ C1C02-Cot</tspan></text>
<text x="224.50" y="511.98" font-size="8.6" font-weight="bold" text-anchor="start" xml:space="preserve"><tspan fill="#000">A20 </tspan><tspan fill="#0000ff">+ Cot CAR-T</tspan></text>
<text x="224.50" y="522.08" font-size="8.6" font-weight="bold" text-anchor="start" xml:space="preserve"><tspan fill="#000">A20 </tspan><tspan fill="#0000ff">+ Cot CAR-T </tspan><tspan fill="#cf2e26" dx="1.6">+ C1C02-Cot</tspan></text>
<text x="-0.60" y="252.38" font-size="10" font-weight="bold" fill="#000" text-anchor="start" >d</text>
<text x="390.60" y="251.98" font-size="10" font-weight="bold" fill="#000" text-anchor="start" >f</text>
<text x="98.30" y="265.18" font-size="8.6" font-weight="bold" fill="#000" text-anchor="middle" >A20</text>
<text x="165.50" y="265.18" font-size="8.6" font-weight="bold" fill="#000" text-anchor="middle" >A20</text>
<text x="234.30" y="265.18" font-size="8.6" font-weight="bold" fill="#000" text-anchor="middle" >A20</text>
<text x="302.60" y="265.18" font-size="8.6" font-weight="bold" fill="#000" text-anchor="middle" >A20</text>
<text x="165.50" y="288.18" font-size="8.6" font-weight="bold" fill="#aa0000" text-anchor="middle" >C1C02-Cot</text>
<text x="234.30" y="276.48" font-size="8.6" font-weight="bold" fill="#0000ff" text-anchor="middle" >Cot CAR-T</text>
<text x="302.60" y="276.48" font-size="8.6" font-weight="bold" fill="#0000ff" text-anchor="middle" >Cot CAR-T</text>
<text x="302.60" y="288.18" font-size="8.6" font-weight="bold" fill="#aa0000" text-anchor="middle" >C1C02-Cot</text>
<text x="40.40" y="318.51" font-size="8.4" font-weight="bold" fill="#000" text-anchor="middle" >Day14</text>
<text x="40.40" y="364.11" font-size="8.4" font-weight="bold" fill="#000" text-anchor="middle" >Day21</text>
<text x="40.40" y="412.11" font-size="8.4" font-weight="bold" fill="#000" text-anchor="middle" >Day28</text>
<g clip-path="url(#cd00)">
<clipPath id="cd00"><rect x="60.70" y="293.20" width="67.8" height="46.3"/></clipPath>
<rect x="60.70" y="293.20" width="67.80" height="46.30" fill="#232323"/>
<rect x="60.70" y="293.20" width="67.80" height="3.4" fill="#343434"/>
<rect x="60.70" y="296.40" width="67.80" height="3.6" fill="#0b0b0b" filter="url(#fs)"/>
<use href="#md" transform="translate(68.70 297.90) scale(0.97 1.0)"/>
<use href="#md" transform="translate(81.50 297.90) scale(0.97 1.0)"/>
<use href="#md" transform="translate(94.30 297.90) scale(0.97 1.0)"/>
<use href="#md" transform="translate(107.10 297.90) scale(0.97 1.0)"/>
<use href="#md" transform="translate(119.90 297.90) scale(0.97 1.0)"/>
</g>
<g clip-path="url(#cd01)">
<clipPath id="cd01"><rect x="130.50" y="293.20" width="67.8" height="46.3"/></clipPath>
<rect x="130.50" y="293.20" width="67.80" height="46.30" fill="#232323"/>
<rect x="130.50" y="293.20" width="67.80" height="3.4" fill="#343434"/>
<rect x="130.50" y="296.40" width="67.80" height="3.6" fill="#0b0b0b" filter="url(#fs)"/>
<use href="#md" transform="translate(138.50 297.90) scale(0.97 1.0)"/>
<use href="#md" transform="translate(151.30 297.90) scale(0.97 1.0)"/>
<use href="#md" transform="translate(164.10 297.90) scale(0.97 1.0)"/>
<use href="#md" transform="translate(176.90 297.90) scale(0.97 1.0)"/>
<use href="#md" transform="translate(189.70 297.90) scale(0.97 1.0)"/>
</g>
<g clip-path="url(#cd02)">
<clipPath id="cd02"><rect x="200.40" y="293.20" width="67.8" height="46.3"/></clipPath>
<rect x="200.40" y="293.20" width="67.80" height="46.30" fill="#232323"/>
<rect x="200.40" y="293.20" width="67.80" height="3.4" fill="#343434"/>
<rect x="200.40" y="296.40" width="67.80" height="3.6" fill="#0b0b0b" filter="url(#fs)"/>
<use href="#md" transform="translate(208.40 297.90) scale(0.97 1.0)"/>
<use href="#md" transform="translate(221.20 297.90) scale(0.97 1.0)"/>
<use href="#md" transform="translate(234.00 297.90) scale(0.97 1.0)"/>
<use href="#md" transform="translate(246.80 297.90) scale(0.97 1.0)"/>
<use href="#md" transform="translate(259.60 297.90) scale(0.97 1.0)"/>
</g>
<g clip-path="url(#cd03)">
<clipPath id="cd03"><rect x="270.10" y="293.20" width="67.8" height="46.3"/></clipPath>
<rect x="270.10" y="293.20" width="67.80" height="46.30" fill="#232323"/>
<rect x="270.10" y="293.20" width="67.80" height="3.4" fill="#343434"/>
<rect x="270.10" y="296.40" width="67.80" height="3.6" fill="#0b0b0b" filter="url(#fs)"/>
<use href="#md" transform="translate(278.10 297.90) scale(0.97 1.0)"/>
<use href="#md" transform="translate(290.90 297.90) scale(0.97 1.0)"/>
<use href="#md" transform="translate(303.70 297.90) scale(0.97 1.0)"/>
<use href="#md" transform="translate(316.50 297.90) scale(0.97 1.0)"/>
<use href="#md" transform="translate(329.30 297.90) scale(0.97 1.0)"/>
</g>
<g clip-path="url(#cd10)">
<clipPath id="cd10"><rect x="60.70" y="341.70" width="67.8" height="46.3"/></clipPath>
<rect x="60.70" y="341.70" width="67.80" height="46.30" fill="#232323"/>
<rect x="60.70" y="340.70" width="67.80" height="4.4" fill="#0b0b0b" filter="url(#fs)"/>
<use href="#md" transform="translate(68.70 344.10) scale(1.08 0.93)"/>
<use href="#md" transform="translate(81.50 344.10) scale(1.08 0.93)"/>
<use href="#md" transform="translate(94.30 344.10) scale(1.08 0.93)"/>
<use href="#md" transform="translate(107.10 344.10) scale(1.08 0.93)"/>
<use href="#md" transform="translate(119.90 344.10) scale(1.08 0.93)"/>
</g>
<g clip-path="url(#cd11)">
<clipPath id="cd11"><rect x="130.50" y="341.70" width="67.8" height="46.3"/></clipPath>
<rect x="130.50" y="341.70" width="67.80" height="46.30" fill="#232323"/>
<rect x="130.50" y="340.70" width="67.80" height="4.4" fill="#0b0b0b" filter="url(#fs)"/>
<use href="#md" transform="translate(138.50 344.10) scale(1.08 0.93)"/>
<use href="#md" transform="translate(151.30 344.10) scale(1.08 0.93)"/>
<use href="#md" transform="translate(164.10 344.10) scale(1.08 0.93)"/>
<use href="#md" transform="translate(176.90 344.10) scale(1.08 0.93)"/>
<use href="#md" transform="translate(189.70 344.10) scale(1.08 0.93)"/>
</g>
<g clip-path="url(#cd12)">
<clipPath id="cd12"><rect x="200.40" y="341.70" width="67.8" height="46.3"/></clipPath>
<rect x="200.40" y="341.70" width="67.80" height="46.30" fill="#232323"/>
<rect x="200.40" y="340.70" width="67.80" height="4.4" fill="#0b0b0b" filter="url(#fs)"/>
<use href="#md" transform="translate(208.40 344.10) scale(1.08 0.93)"/>
<use href="#md" transform="translate(221.20 344.10) scale(1.08 0.93)"/>
<use href="#md" transform="translate(234.00 344.10) scale(1.08 0.93)"/>
<use href="#md" transform="translate(246.80 344.10) scale(1.08 0.93)"/>
<use href="#md" transform="translate(259.60 344.10) scale(1.08 0.93)"/>
</g>
<g clip-path="url(#cd13)">
<clipPath id="cd13"><rect x="270.10" y="341.70" width="67.8" height="46.3"/></clipPath>
<rect x="270.10" y="341.70" width="67.80" height="46.30" fill="#232323"/>
<rect x="270.10" y="340.70" width="67.80" height="4.4" fill="#0b0b0b" filter="url(#fs)"/>
<use href="#md" transform="translate(278.10 344.10) scale(1.08 0.93)"/>
<use href="#md" transform="translate(290.90 344.10) scale(1.08 0.93)"/>
<use href="#md" transform="translate(303.70 344.10) scale(1.08 0.93)"/>
<use href="#md" transform="translate(316.50 344.10) scale(1.08 0.93)"/>
<use href="#md" transform="translate(329.30 344.10) scale(1.08 0.93)"/>
</g>
<g clip-path="url(#cd20)">
<clipPath id="cd20"><rect x="60.70" y="389.90" width="67.8" height="46.3"/></clipPath>
<rect x="60.70" y="389.90" width="67.80" height="46.30" fill="#232323"/>
<rect x="60.70" y="388.90" width="67.80" height="4.4" fill="#0b0b0b" filter="url(#fs)"/>
<use href="#md" transform="translate(68.70 391.90) scale(1.1 0.93)"/>
<use href="#md" transform="translate(81.50 391.90) scale(1.1 0.93)"/>
<use href="#md" transform="translate(94.30 391.90) scale(1.1 0.93)"/>
<use href="#md" transform="translate(107.10 391.90) scale(1.1 0.93)"/>
<use href="#md" transform="translate(119.90 391.90) scale(1.1 0.93)"/>
</g>
<g clip-path="url(#cd21)">
<clipPath id="cd21"><rect x="130.50" y="389.90" width="67.8" height="46.3"/></clipPath>
<rect x="130.50" y="389.90" width="67.80" height="46.30" fill="#232323"/>
<rect x="130.50" y="388.90" width="67.80" height="4.4" fill="#0b0b0b" filter="url(#fs)"/>
<use href="#md" transform="translate(138.50 391.90) scale(1.1 0.93)"/>
<use href="#md" transform="translate(151.30 391.90) scale(1.1 0.93)"/>
<use href="#md" transform="translate(164.10 391.90) scale(1.1 0.93)"/>
<use href="#md" transform="translate(176.90 391.90) scale(1.1 0.93)"/>
<use href="#md" transform="translate(189.70 391.90) scale(1.1 0.93)"/>
</g>
<g clip-path="url(#cd22)">
<clipPath id="cd22"><rect x="200.40" y="389.90" width="67.8" height="46.3"/></clipPath>
<rect x="200.40" y="389.90" width="67.80" height="46.30" fill="#232323"/>
<rect x="200.40" y="388.90" width="67.80" height="4.4" fill="#0b0b0b" filter="url(#fs)"/>
<use href="#md" transform="translate(208.40 391.90) scale(1.1 0.93)"/>
<use href="#md" transform="translate(221.20 391.90) scale(1.1 0.93)"/>
<use href="#md" transform="translate(234.00 391.90) scale(1.1 0.93)"/>
<use href="#md" transform="translate(246.80 391.90) scale(1.1 0.93)"/>
<use href="#md" transform="translate(259.60 391.90) scale(1.1 0.93)"/>
</g>
<g clip-path="url(#cd23)">
<clipPath id="cd23"><rect x="270.10" y="389.90" width="67.8" height="46.3"/></clipPath>
<rect x="270.10" y="389.90" width="67.80" height="46.30" fill="#232323"/>
<rect x="270.10" y="388.90" width="67.80" height="4.4" fill="#0b0b0b" filter="url(#fs)"/>
<use href="#md" transform="translate(278.10 391.90) scale(1.1 0.93)"/>
<use href="#md" transform="translate(290.90 391.90) scale(1.1 0.93)"/>
<use href="#md" transform="translate(303.70 391.90) scale(1.1 0.93)"/>
<use href="#md" transform="translate(316.50 391.90) scale(1.1 0.93)"/>
<use href="#md" transform="translate(329.30 391.90) scale(1.1 0.93)"/>
</g>
<g filter="url(#fb)">
<ellipse cx="72.01" cy="317.21" rx="1.92" ry="1.92" fill="url(#gB)"/>
<ellipse cx="66.11" cy="321.51" rx="1.22" ry="1.22" fill="url(#gP)"/>
<ellipse cx="65.57" cy="315.07" rx="0.87" ry="0.87" fill="url(#gP)"/>
<ellipse cx="97.79" cy="315.07" rx="1.57" ry="2.09" fill="url(#gC)"/>
<ellipse cx="96.17" cy="320.70" rx="2.27" ry="1.74" fill="url(#gB)"/>
<ellipse cx="103.69" cy="313.99" rx="1.22" ry="1.74" fill="url(#gP)"/>
<ellipse cx="103.69" cy="320.70" rx="1.92" ry="1.57" fill="url(#gB)"/>
<ellipse cx="119.80" cy="322.85" rx="3.49" ry="2.62" fill="url(#gC)"/>
<ellipse cx="123.02" cy="319.36" rx="1.74" ry="1.74" fill="url(#gP)"/>
<ellipse cx="117.11" cy="324.19" rx="1.74" ry="1.74" fill="url(#gP)"/>
<ellipse cx="151.21" cy="315.60" rx="1.57" ry="1.57" fill="url(#gP)"/>
<ellipse cx="150.67" cy="321.51" rx="2.27" ry="1.74" fill="url(#gB)"/>
<ellipse cx="154.16" cy="315.07" rx="0.87" ry="0.87" fill="url(#gP)"/>
<ellipse cx="167.32" cy="318.02" rx="2.44" ry="2.44" fill="url(#gG)"/>
<ellipse cx="166.51" cy="313.46" rx="0.87" ry="0.87" fill="url(#gP)"/>
<ellipse cx="181.54" cy="320.17" rx="1.22" ry="1.22" fill="url(#gP)"/>
<ellipse cx="191.48" cy="315.07" rx="1.92" ry="1.92" fill="url(#gB)"/>
<ellipse cx="190.40" cy="321.51" rx="2.62" ry="2.09" fill="url(#gP)"/>
<ellipse cx="206.38" cy="320.44" rx="2.97" ry="2.97" fill="url(#gC)"/>
<ellipse cx="205.57" cy="315.07" rx="1.05" ry="1.05" fill="url(#gP)"/>
<ellipse cx="232.95" cy="320.70" rx="2.62" ry="2.09" fill="url(#gB)"/>
<ellipse cx="235.10" cy="315.34" rx="1.57" ry="1.57" fill="url(#gB)"/>
<ellipse cx="245.84" cy="313.99" rx="1.92" ry="1.92" fill="url(#gB)"/>
<ellipse cx="248.52" cy="315.60" rx="1.22" ry="1.22" fill="url(#gP)"/>
<ellipse cx="260.34" cy="315.60" rx="1.57" ry="1.57" fill="url(#gP)"/>
<ellipse cx="261.95" cy="320.44" rx="1.57" ry="1.57" fill="url(#gP)"/>
<ellipse cx="69.47" cy="362.25" rx="1.58" ry="1.58" fill="url(#gP)"/>
<ellipse cx="72.34" cy="366.62" rx="1.34" ry="1.34" fill="url(#gP)"/>
<ellipse cx="66.40" cy="362.68" rx="1.04" ry="1.04" fill="url(#gP)"/>
<ellipse cx="70.40" cy="362.53" rx="1.59" ry="1.59" fill="url(#gP)"/>
<ellipse cx="65.19" cy="362.22" rx="0.88" ry="0.88" fill="url(#gP)"/>
<ellipse cx="71.05" cy="365.00" rx="1.19" ry="1.19" fill="url(#gP)"/>
<ellipse cx="67.33" cy="369.35" rx="1.13" ry="1.13" fill="url(#gP)"/>
<ellipse cx="66.35" cy="366.03" rx="1.05" ry="1.05" fill="url(#gP)"/>
<ellipse cx="71.29" cy="371.32" rx="3.06" ry="3.04" fill="url(#gB)"/>
<ellipse cx="70.08" cy="364.79" rx="2.66" ry="2.72" fill="url(#gB)"/>
<ellipse cx="66.65" cy="370.08" rx="2.16" ry="2.77" fill="url(#gB)"/>
<ellipse cx="67.22" cy="366.45" rx="2.18" ry="3.09" fill="url(#gB)"/>
<ellipse cx="71.04" cy="367.41" rx="2.35" ry="2.19" fill="url(#gB)"/>
<ellipse cx="69.06" cy="368.32" rx="2.35" ry="3.07" fill="url(#gB)"/>
<ellipse cx="68.57" cy="363.87" rx="3.02" ry="2.79" fill="url(#gB)"/>
<ellipse cx="65.23" cy="367.22" rx="2.57" ry="3.32" fill="url(#gB)"/>
<ellipse cx="67.83" cy="362.21" rx="2.16" ry="2.26" fill="url(#gB)"/>
<ellipse cx="67.45" cy="362.85" rx="2.82" ry="2.82" fill="url(#gG2)"/>
<ellipse cx="66.64" cy="369.03" rx="2.82" ry="2.82" fill="url(#gG2)"/>
<ellipse cx="72.01" cy="365.54" rx="2.44" ry="2.44" fill="url(#gC2)"/>
<ellipse cx="70.40" cy="372.25" rx="1.88" ry="1.88" fill="url(#gC2)"/>
<ellipse cx="81.68" cy="347.28" rx="1.21" ry="1.21" fill="url(#gB)"/>
<ellipse cx="85.17" cy="360.17" rx="1.21" ry="1.21" fill="url(#gP)"/>
<ellipse cx="79.53" cy="365.54" rx="0.81" ry="0.81" fill="url(#gP)"/>
<ellipse cx="93.68" cy="368.31" rx="0.94" ry="0.94" fill="url(#gP)"/>
<ellipse cx="97.68" cy="368.21" rx="1.11" ry="1.11" fill="url(#gP)"/>
<ellipse cx="97.01" cy="367.70" rx="0.84" ry="0.84" fill="url(#gP)"/>
<ellipse cx="96.39" cy="368.36" rx="1.22" ry="1.22" fill="url(#gP)"/>
<ellipse cx="98.86" cy="369.79" rx="1.11" ry="1.11" fill="url(#gP)"/>
<ellipse cx="94.24" cy="362.29" rx="1.46" ry="1.46" fill="url(#gP)"/>
<ellipse cx="97.52" cy="368.23" rx="1.16" ry="1.16" fill="url(#gP)"/>
<ellipse cx="95.13" cy="366.87" rx="2.86" ry="2.34" fill="url(#gB)"/>
<ellipse cx="94.67" cy="364.27" rx="3.05" ry="2.48" fill="url(#gB)"/>
<ellipse cx="97.29" cy="368.20" rx="3.07" ry="2.83" fill="url(#gB)"/>
<ellipse cx="96.15" cy="364.03" rx="2.68" ry="3.37" fill="url(#gB)"/>
<ellipse cx="96.68" cy="368.47" rx="2.94" ry="3.00" fill="url(#gB)"/>
<ellipse cx="94.45" cy="368.28" rx="2.74" ry="3.05" fill="url(#gB)"/>
<ellipse cx="98.29" cy="363.66" rx="3.01" ry="2.78" fill="url(#gB)"/>
<ellipse cx="98.59" cy="365.00" rx="2.82" ry="2.82" fill="url(#gC2)"/>
<ellipse cx="96.17" cy="371.44" rx="2.44" ry="2.44" fill="url(#gG2)"/>
<ellipse cx="92.42" cy="360.44" rx="1.48" ry="1.48" fill="url(#gB)"/>
<ellipse cx="95.10" cy="355.34" rx="0.94" ry="0.94" fill="url(#gP)"/>
<ellipse cx="111.23" cy="363.98" rx="1.38" ry="1.38" fill="url(#gP)"/>
<ellipse cx="109.03" cy="361.29" rx="0.87" ry="0.87" fill="url(#gP)"/>
<ellipse cx="107.84" cy="360.26" rx="1.11" ry="1.11" fill="url(#gP)"/>
<ellipse cx="110.43" cy="368.60" rx="0.90" ry="0.90" fill="url(#gP)"/>
<ellipse cx="103.14" cy="361.38" rx="1.47" ry="1.47" fill="url(#gP)"/>
<ellipse cx="102.63" cy="361.41" rx="0.89" ry="0.89" fill="url(#gP)"/>
<ellipse cx="103.55" cy="364.72" rx="0.95" ry="0.95" fill="url(#gP)"/>
<ellipse cx="104.34" cy="366.58" rx="3.12" ry="2.70" fill="url(#gB)"/>
<ellipse cx="107.46" cy="361.39" rx="3.26" ry="2.48" fill="url(#gB)"/>
<ellipse cx="105.23" cy="366.80" rx="3.42" ry="2.98" fill="url(#gB)"/>
<ellipse cx="105.50" cy="364.75" rx="2.53" ry="2.44" fill="url(#gB)"/>
<ellipse cx="110.82" cy="364.03" rx="3.35" ry="2.86" fill="url(#gB)"/>
<ellipse cx="106.51" cy="362.51" rx="2.79" ry="2.34" fill="url(#gB)"/>
<ellipse cx="105.66" cy="365.35" rx="2.28" ry="3.38" fill="url(#gB)"/>
<ellipse cx="109.74" cy="366.99" rx="3.09" ry="2.27" fill="url(#gB)"/>
<ellipse cx="108.79" cy="360.70" rx="3.57" ry="3.57" fill="url(#gG2)"/>
<ellipse cx="105.84" cy="360.17" rx="2.63" ry="2.63" fill="url(#gY2)"/>
<ellipse cx="103.69" cy="367.15" rx="2.82" ry="2.82" fill="url(#gC2)"/>
<ellipse cx="111.48" cy="365.54" rx="2.44" ry="2.44" fill="url(#gG2)"/>
<ellipse cx="123.60" cy="371.43" rx="1.39" ry="1.39" fill="url(#gP)"/>
<ellipse cx="118.41" cy="362.07" rx="1.38" ry="1.38" fill="url(#gP)"/>
<ellipse cx="122.51" cy="356.64" rx="0.94" ry="0.94" fill="url(#gP)"/>
<ellipse cx="123.14" cy="358.40" rx="1.33" ry="1.33" fill="url(#gP)"/>
<ellipse cx="119.13" cy="367.52" rx="1.50" ry="1.50" fill="url(#gP)"/>
<ellipse cx="120.91" cy="363.12" rx="1.06" ry="1.06" fill="url(#gP)"/>
<ellipse cx="121.20" cy="367.22" rx="1.14" ry="1.14" fill="url(#gP)"/>
<ellipse cx="118.55" cy="365.98" rx="2.49" ry="2.39" fill="url(#gB)"/>
<ellipse cx="119.72" cy="364.28" rx="2.95" ry="3.22" fill="url(#gB)"/>
<ellipse cx="120.87" cy="362.47" rx="2.70" ry="3.39" fill="url(#gB)"/>
<ellipse cx="117.66" cy="374.40" rx="2.42" ry="3.28" fill="url(#gB)"/>
<ellipse cx="122.45" cy="366.42" rx="3.23" ry="2.88" fill="url(#gB)"/>
<ellipse cx="118.14" cy="358.84" rx="3.48" ry="2.39" fill="url(#gB)"/>
<ellipse cx="119.92" cy="364.85" rx="2.66" ry="2.34" fill="url(#gB)"/>
<ellipse cx="121.44" cy="369.45" rx="2.26" ry="2.35" fill="url(#gB)"/>
<ellipse cx="120.34" cy="369.03" rx="6.39" ry="7.89" fill="url(#gH)"/>
<ellipse cx="118.46" cy="362.05" rx="3.38" ry="3.38" fill="url(#gY2)"/>
<ellipse cx="120.34" cy="355.34" rx="2.82" ry="2.82" fill="url(#gC2)"/>
<ellipse cx="120.34" cy="349.43" rx="2.01" ry="2.01" fill="url(#gB)"/>
<ellipse cx="140.51" cy="364.05" rx="1.44" ry="1.44" fill="url(#gP)"/>
<ellipse cx="140.94" cy="363.68" rx="1.42" ry="1.42" fill="url(#gP)"/>
<ellipse cx="137.36" cy="362.22" rx="1.09" ry="1.09" fill="url(#gP)"/>
<ellipse cx="139.78" cy="362.06" rx="1.34" ry="1.34" fill="url(#gP)"/>
<ellipse cx="137.46" cy="362.27" rx="1.15" ry="1.15" fill="url(#gP)"/>
<ellipse cx="137.66" cy="365.15" rx="1.51" ry="1.51" fill="url(#gP)"/>
<ellipse cx="139.08" cy="364.80" rx="3.47" ry="2.97" fill="url(#gB)"/>
<ellipse cx="140.48" cy="364.55" rx="2.85" ry="2.48" fill="url(#gB)"/>
<ellipse cx="142.42" cy="362.07" rx="2.99" ry="2.30" fill="url(#gB)"/>
<ellipse cx="139.23" cy="362.26" rx="3.33" ry="3.46" fill="url(#gB)"/>
<ellipse cx="137.25" cy="367.15" rx="3.19" ry="3.19" fill="url(#gG2)"/>
<ellipse cx="140.20" cy="361.51" rx="2.07" ry="2.07" fill="url(#gC2)"/>
<ellipse cx="152.70" cy="368.94" rx="0.82" ry="0.82" fill="url(#gP)"/>
<ellipse cx="154.34" cy="368.10" rx="0.85" ry="0.85" fill="url(#gP)"/>
<ellipse cx="153.38" cy="367.93" rx="0.96" ry="0.96" fill="url(#gP)"/>
<ellipse cx="154.55" cy="363.30" rx="1.17" ry="1.17" fill="url(#gP)"/>
<ellipse cx="152.30" cy="366.73" rx="1.41" ry="1.41" fill="url(#gP)"/>
<ellipse cx="149.64" cy="364.56" rx="0.92" ry="0.92" fill="url(#gP)"/>
<ellipse cx="150.94" cy="367.35" rx="2.25" ry="2.62" fill="url(#gB)"/>
<ellipse cx="151.58" cy="363.42" rx="2.73" ry="2.20" fill="url(#gB)"/>
<ellipse cx="151.15" cy="363.69" rx="2.39" ry="3.15" fill="url(#gB)"/>
<ellipse cx="149.46" cy="365.76" rx="2.97" ry="2.81" fill="url(#gB)"/>
<ellipse cx="150.45" cy="365.33" rx="2.34" ry="2.42" fill="url(#gB)"/>
<ellipse cx="151.25" cy="366.74" rx="3.34" ry="2.43" fill="url(#gB)"/>
<ellipse cx="149.87" cy="361.51" rx="3.57" ry="3.57" fill="url(#gY2)"/>
<ellipse cx="151.74" cy="367.15" rx="3.19" ry="3.19" fill="url(#gG2)"/>
<ellipse cx="162.34" cy="365.85" rx="1.59" ry="1.59" fill="url(#gP)"/>
<ellipse cx="166.05" cy="364.82" rx="1.05" ry="1.05" fill="url(#gP)"/>
<ellipse cx="161.36" cy="370.24" rx="1.41" ry="1.41" fill="url(#gP)"/>
<ellipse cx="162.38" cy="365.99" rx="1.38" ry="1.38" fill="url(#gP)"/>
<ellipse cx="168.30" cy="362.69" rx="1.06" ry="1.06" fill="url(#gP)"/>
<ellipse cx="161.81" cy="365.94" rx="1.55" ry="1.55" fill="url(#gP)"/>
<ellipse cx="164.53" cy="363.75" rx="2.65" ry="2.25" fill="url(#gB)"/>
<ellipse cx="165.79" cy="367.25" rx="2.35" ry="2.51" fill="url(#gB)"/>
<ellipse cx="164.72" cy="367.39" rx="3.30" ry="2.46" fill="url(#gB)"/>
<ellipse cx="163.19" cy="363.50" rx="2.54" ry="2.55" fill="url(#gB)"/>
<ellipse cx="165.28" cy="360.68" rx="3.13" ry="3.34" fill="url(#gB)"/>
<ellipse cx="164.42" cy="363.10" rx="2.46" ry="2.91" fill="url(#gB)"/>
<ellipse cx="162.08" cy="362.47" rx="3.36" ry="3.22" fill="url(#gB)"/>
<ellipse cx="167.41" cy="364.49" rx="3.06" ry="3.22" fill="url(#gB)"/>
<ellipse cx="165.97" cy="364.46" rx="5.26" ry="4.89" fill="url(#gH)"/>
<ellipse cx="161.41" cy="362.85" rx="2.82" ry="2.82" fill="url(#gG2)"/>
<ellipse cx="168.12" cy="368.22" rx="2.26" ry="2.26" fill="url(#gC2)"/>
<ellipse cx="176.71" cy="351.04" rx="3.19" ry="3.19" fill="url(#gC2)"/>
<ellipse cx="176.71" cy="351.04" rx="0.94" ry="0.94" fill="url(#gP)"/>
<ellipse cx="173.50" cy="368.95" rx="1.51" ry="1.51" fill="url(#gP)"/>
<ellipse cx="174.97" cy="361.29" rx="0.96" ry="0.96" fill="url(#gP)"/>
<ellipse cx="173.21" cy="360.41" rx="0.97" ry="0.97" fill="url(#gP)"/>
<ellipse cx="177.69" cy="360.07" rx="0.96" ry="0.96" fill="url(#gP)"/>
<ellipse cx="178.12" cy="370.39" rx="0.89" ry="0.89" fill="url(#gP)"/>
<ellipse cx="174.61" cy="371.40" rx="1.12" ry="1.12" fill="url(#gP)"/>
<ellipse cx="176.38" cy="367.18" rx="1.33" ry="1.33" fill="url(#gP)"/>
<ellipse cx="177.46" cy="366.15" rx="3.24" ry="2.75" fill="url(#gB)"/>
<ellipse cx="174.54" cy="368.54" rx="3.48" ry="3.41" fill="url(#gB)"/>
<ellipse cx="176.25" cy="369.43" rx="2.81" ry="3.47" fill="url(#gB)"/>
<ellipse cx="177.00" cy="363.81" rx="3.36" ry="3.34" fill="url(#gB)"/>
<ellipse cx="176.58" cy="366.49" rx="3.42" ry="2.46" fill="url(#gB)"/>
<ellipse cx="174.03" cy="362.85" rx="2.07" ry="4.51" fill="url(#gG2)"/>
<ellipse cx="179.13" cy="365.54" rx="1.74" ry="1.74" fill="url(#gB)"/>
<ellipse cx="181.54" cy="368.76" rx="1.07" ry="1.07" fill="url(#gP)"/>
<ellipse cx="187.89" cy="365.03" rx="1.25" ry="1.25" fill="url(#gP)"/>
<ellipse cx="186.52" cy="365.56" rx="1.58" ry="1.58" fill="url(#gP)"/>
<ellipse cx="190.08" cy="365.77" rx="1.44" ry="1.44" fill="url(#gP)"/>
<ellipse cx="189.22" cy="362.76" rx="1.48" ry="1.48" fill="url(#gP)"/>
<ellipse cx="187.02" cy="370.34" rx="1.52" ry="1.52" fill="url(#gP)"/>
<ellipse cx="189.97" cy="365.74" rx="0.86" ry="0.86" fill="url(#gP)"/>
<ellipse cx="190.88" cy="369.63" rx="3.13" ry="2.98" fill="url(#gB)"/>
<ellipse cx="191.28" cy="368.81" rx="3.48" ry="3.32" fill="url(#gB)"/>
<ellipse cx="188.71" cy="363.02" rx="2.72" ry="2.35" fill="url(#gB)"/>
<ellipse cx="193.68" cy="367.33" rx="2.68" ry="2.67" fill="url(#gB)"/>
<ellipse cx="185.02" cy="366.30" rx="3.37" ry="3.07" fill="url(#gB)"/>
<ellipse cx="190.01" cy="362.33" rx="3.02" ry="3.22" fill="url(#gB)"/>
<ellipse cx="189.34" cy="364.81" rx="2.77" ry="2.93" fill="url(#gB)"/>
<ellipse cx="189.60" cy="367.68" rx="4.89" ry="4.89" fill="url(#gH)"/>
<ellipse cx="191.21" cy="360.70" rx="2.44" ry="2.44" fill="url(#gC2)"/>
<ellipse cx="187.45" cy="361.51" rx="2.26" ry="2.26" fill="url(#gC2)"/>
<ellipse cx="208.26" cy="352.11" rx="3.19" ry="3.19" fill="url(#gG2)"/>
<ellipse cx="208.26" cy="352.11" rx="0.94" ry="0.94" fill="url(#gP)"/>
<ellipse cx="211.08" cy="363.88" rx="1.47" ry="1.47" fill="url(#gP)"/>
<ellipse cx="205.77" cy="365.27" rx="1.03" ry="1.03" fill="url(#gP)"/>
<ellipse cx="208.04" cy="359.24" rx="1.14" ry="1.14" fill="url(#gP)"/>
<ellipse cx="206.30" cy="358.72" rx="1.46" ry="1.46" fill="url(#gP)"/>
<ellipse cx="210.91" cy="360.36" rx="1.31" ry="1.31" fill="url(#gP)"/>
<ellipse cx="207.94" cy="364.43" rx="1.28" ry="1.28" fill="url(#gP)"/>
<ellipse cx="207.03" cy="363.33" rx="2.63" ry="2.83" fill="url(#gB)"/>
<ellipse cx="211.44" cy="365.24" rx="3.19" ry="2.76" fill="url(#gB)"/>
<ellipse cx="211.48" cy="360.68" rx="3.33" ry="2.41" fill="url(#gB)"/>
<ellipse cx="206.74" cy="366.77" rx="2.75" ry="3.29" fill="url(#gB)"/>
<ellipse cx="206.28" cy="365.63" rx="2.37" ry="2.34" fill="url(#gB)"/>
<ellipse cx="209.47" cy="358.42" rx="3.34" ry="2.15" fill="url(#gB)"/>
<ellipse cx="207.62" cy="367.30" rx="2.77" ry="2.42" fill="url(#gB)"/>
<ellipse cx="205.96" cy="365.82" rx="3.00" ry="2.84" fill="url(#gB)"/>
<ellipse cx="207.45" cy="366.88" rx="6.39" ry="7.14" fill="url(#gH)"/>
<ellipse cx="207.72" cy="359.63" rx="2.82" ry="2.82" fill="url(#gC2)"/>
<ellipse cx="218.46" cy="354.80" rx="1.21" ry="1.21" fill="url(#gB)"/>
<ellipse cx="232.95" cy="347.28" rx="1.21" ry="1.21" fill="url(#gB)"/>
<ellipse cx="235.75" cy="359.94" rx="1.56" ry="1.56" fill="url(#gP)"/>
<ellipse cx="233.17" cy="362.68" rx="1.30" ry="1.30" fill="url(#gP)"/>
<ellipse cx="230.67" cy="359.65" rx="1.14" ry="1.14" fill="url(#gP)"/>
<ellipse cx="231.13" cy="366.72" rx="1.14" ry="1.14" fill="url(#gP)"/>
<ellipse cx="232.32" cy="360.90" rx="0.98" ry="0.98" fill="url(#gP)"/>
<ellipse cx="234.89" cy="370.16" rx="1.09" ry="1.09" fill="url(#gP)"/>
<ellipse cx="233.69" cy="361.56" rx="3.17" ry="2.47" fill="url(#gB)"/>
<ellipse cx="231.72" cy="362.82" rx="3.32" ry="3.17" fill="url(#gB)"/>
<ellipse cx="233.80" cy="365.12" rx="2.77" ry="2.44" fill="url(#gB)"/>
<ellipse cx="233.52" cy="372.09" rx="3.41" ry="2.17" fill="url(#gB)"/>
<ellipse cx="235.46" cy="364.82" rx="3.42" ry="3.34" fill="url(#gB)"/>
<ellipse cx="232.29" cy="359.25" rx="2.80" ry="2.81" fill="url(#gB)"/>
<ellipse cx="233.70" cy="362.99" rx="3.06" ry="3.11" fill="url(#gB)"/>
<ellipse cx="234.76" cy="368.78" rx="2.37" ry="3.45" fill="url(#gB)"/>
<ellipse cx="232.95" cy="365.54" rx="6.39" ry="6.77" fill="url(#gH)"/>
<ellipse cx="232.95" cy="357.48" rx="2.82" ry="2.82" fill="url(#gC2)"/>
<ellipse cx="246.21" cy="365.11" rx="1.30" ry="1.30" fill="url(#gP)"/>
<ellipse cx="248.17" cy="368.32" rx="1.41" ry="1.41" fill="url(#gP)"/>
<ellipse cx="243.33" cy="359.06" rx="1.17" ry="1.17" fill="url(#gP)"/>
<ellipse cx="245.38" cy="369.14" rx="1.39" ry="1.39" fill="url(#gP)"/>
<ellipse cx="246.09" cy="360.84" rx="0.99" ry="0.99" fill="url(#gP)"/>
<ellipse cx="247.30" cy="368.61" rx="0.94" ry="0.94" fill="url(#gP)"/>
<ellipse cx="245.95" cy="360.74" rx="1.30" ry="1.30" fill="url(#gP)"/>
<ellipse cx="246.36" cy="363.94" rx="3.06" ry="2.56" fill="url(#gB)"/>
<ellipse cx="243.91" cy="357.71" rx="2.93" ry="3.37" fill="url(#gB)"/>
<ellipse cx="246.60" cy="361.84" rx="2.48" ry="3.04" fill="url(#gB)"/>
<ellipse cx="246.19" cy="362.89" rx="3.25" ry="3.02" fill="url(#gB)"/>
<ellipse cx="244.28" cy="364.28" rx="2.38" ry="2.89" fill="url(#gB)"/>
<ellipse cx="248.12" cy="366.25" rx="3.41" ry="2.44" fill="url(#gB)"/>
<ellipse cx="246.14" cy="366.70" rx="3.32" ry="2.37" fill="url(#gB)"/>
<ellipse cx="244.39" cy="365.39" rx="2.37" ry="2.24" fill="url(#gB)"/>
<ellipse cx="246.34" cy="358.73" rx="2.93" ry="2.88" fill="url(#gB)"/>
<ellipse cx="248.09" cy="364.89" rx="2.80" ry="2.84" fill="url(#gB)"/>
<ellipse cx="244.50" cy="360.70" rx="2.82" ry="2.82" fill="url(#gC2)"/>
<ellipse cx="248.26" cy="365.54" rx="2.82" ry="2.82" fill="url(#gC2)"/>
<ellipse cx="246.38" cy="357.48" rx="1.88" ry="1.88" fill="url(#gC2)"/>
<ellipse cx="256.24" cy="367.93" rx="1.39" ry="1.39" fill="url(#gP)"/>
<ellipse cx="256.16" cy="364.01" rx="1.00" ry="1.00" fill="url(#gP)"/>
<ellipse cx="261.72" cy="367.76" rx="1.05" ry="1.05" fill="url(#gP)"/>
<ellipse cx="259.90" cy="363.33" rx="1.03" ry="1.03" fill="url(#gP)"/>
<ellipse cx="258.83" cy="362.09" rx="1.18" ry="1.18" fill="url(#gP)"/>
<ellipse cx="262.17" cy="366.24" rx="0.84" ry="0.84" fill="url(#gP)"/>
<ellipse cx="258.31" cy="369.17" rx="1.42" ry="1.42" fill="url(#gP)"/>
<ellipse cx="259.95" cy="365.20" rx="1.36" ry="1.36" fill="url(#gP)"/>
<ellipse cx="259.96" cy="365.74" rx="2.52" ry="2.41" fill="url(#gB)"/>
<ellipse cx="259.13" cy="362.72" rx="2.39" ry="3.10" fill="url(#gB)"/>
<ellipse cx="260.16" cy="361.98" rx="3.29" ry="3.27" fill="url(#gB)"/>
<ellipse cx="261.95" cy="363.12" rx="1.88" ry="1.88" fill="url(#gB)"/>
<ellipse cx="260.34" cy="368.22" rx="2.07" ry="2.07" fill="url(#gC2)"/>
<rect x="62.75" y="405.81" width="12.35" height="14.50" rx="6.17" fill="#7020ff"/>
<rect x="63.06" y="406.11" width="11.73" height="13.88" rx="5.87" fill="#1535ff"/>
<rect x="63.37" y="406.42" width="11.11" height="13.26" rx="5.56" fill="#00d0ff"/>
<rect x="63.68" y="406.73" width="10.50" height="12.64" rx="5.25" fill="#30e800"/>
<rect x="63.99" y="407.04" width="9.88" height="12.03" rx="4.94" fill="#ffe000"/>
<rect x="64.30" y="407.35" width="9.26" height="11.41" rx="4.63" fill="#ff0000"/>
<ellipse cx="72.55" cy="403.39" rx="2.28" ry="2.28" fill="url(#gG2)"/>
<ellipse cx="68.26" cy="399.90" rx="1.34" ry="1.34" fill="url(#gP)"/>
<ellipse cx="65.57" cy="403.12" rx="1.34" ry="1.34" fill="url(#gC2)"/>
<rect x="76.71" y="397.75" width="10.47" height="22.01" rx="5.23" fill="#7020ff"/>
<rect x="77.02" y="398.06" width="9.85" height="21.40" rx="4.93" fill="#1535ff"/>
<rect x="77.33" y="398.37" width="9.23" height="20.78" rx="4.62" fill="#00d0ff"/>
<rect x="77.64" y="398.68" width="8.62" height="20.16" rx="4.31" fill="#30e800"/>
<ellipse cx="78.99" cy="413.86" rx="2.95" ry="3.49" fill="url(#gH)"/>
<ellipse cx="84.09" cy="407.15" rx="2.42" ry="2.95" fill="url(#gH)"/>
<ellipse cx="81.68" cy="394.80" rx="2.01" ry="2.01" fill="url(#gC2)"/>
<ellipse cx="81.68" cy="394.80" rx="0.81" ry="0.81" fill="url(#gP)"/>
<ellipse cx="80.07" cy="403.12" rx="1.61" ry="1.61" fill="url(#gY2)"/>
<rect x="89.33" y="397.75" width="11.01" height="22.01" rx="5.50" fill="#7020ff"/>
<rect x="89.64" y="398.06" width="10.39" height="21.40" rx="5.19" fill="#1535ff"/>
<rect x="89.95" y="398.37" width="9.77" height="20.78" rx="4.89" fill="#00d0ff"/>
<rect x="90.26" y="398.68" width="9.15" height="20.16" rx="4.58" fill="#30e800"/>
<ellipse cx="96.98" cy="410.64" rx="2.68" ry="6.71" fill="url(#gH)"/>
<ellipse cx="91.88" cy="405.81" rx="1.88" ry="3.76" fill="url(#gC2)"/>
<ellipse cx="94.30" cy="394.53" rx="1.74" ry="1.74" fill="url(#gB)"/>
<rect x="101.41" y="397.21" width="11.54" height="23.09" rx="5.77" fill="#7020ff"/>
<rect x="101.72" y="397.52" width="10.93" height="22.47" rx="5.46" fill="#1535ff"/>
<rect x="102.03" y="397.83" width="10.31" height="21.85" rx="5.15" fill="#00d0ff"/>
<rect x="102.34" y="398.14" width="9.69" height="21.23" rx="4.85" fill="#30e800"/>
<rect x="102.64" y="398.45" width="9.07" height="20.62" rx="4.54" fill="#ffe000"/>
<rect x="102.95" y="398.76" width="8.46" height="20.00" rx="4.23" fill="#ff0000"/>
<ellipse cx="106.91" cy="393.46" rx="2.01" ry="2.01" fill="url(#gB)"/>
<rect x="107.99" y="420.30" width="1.07" height="15.57" fill="#2a20e0"/>
<rect x="114.83" y="393.46" width="12.08" height="27.92" rx="6.04" fill="#7020ff"/>
<rect x="115.14" y="393.77" width="11.46" height="27.30" rx="5.73" fill="#1535ff"/>
<rect x="115.45" y="394.07" width="10.85" height="26.68" rx="5.42" fill="#00d0ff"/>
<rect x="115.76" y="394.38" width="10.23" height="26.07" rx="5.11" fill="#30e800"/>
<rect x="116.07" y="394.69" width="9.61" height="25.45" rx="4.81" fill="#ffe000"/>
<rect x="116.38" y="395.00" width="8.99" height="24.83" rx="4.50" fill="#ff0000"/>
<ellipse cx="120.34" cy="391.58" rx="1.48" ry="1.48" fill="url(#gP)"/>
<rect x="120.34" y="421.38" width="0.81" height="14.50" fill="#5a40c0"/>
<rect x="133.09" y="399.90" width="11.28" height="19.87" rx="5.64" fill="#7020ff"/>
<rect x="133.40" y="400.21" width="10.66" height="19.25" rx="5.33" fill="#1535ff"/>
<rect x="133.70" y="400.52" width="10.04" height="18.63" rx="5.02" fill="#00d0ff"/>
<rect x="134.01" y="400.83" width="9.42" height="18.01" rx="4.71" fill="#30e800"/>
<ellipse cx="139.40" cy="412.25" rx="4.03" ry="6.17" fill="url(#gH)"/>
<ellipse cx="136.44" cy="398.83" rx="1.74" ry="1.74" fill="url(#gP)"/>
<ellipse cx="135.91" cy="405.81" rx="1.61" ry="2.68" fill="url(#gC2)"/>
<rect x="145.44" y="399.36" width="11.54" height="20.40" rx="5.77" fill="#7020ff"/>
<rect x="145.74" y="399.67" width="10.93" height="19.79" rx="5.46" fill="#1535ff"/>
<rect x="146.05" y="399.98" width="10.31" height="19.17" rx="5.15" fill="#00d0ff"/>
<rect x="146.36" y="400.29" width="9.69" height="18.55" rx="4.85" fill="#30e800"/>
<rect x="146.67" y="400.60" width="9.07" height="17.93" rx="4.54" fill="#ffe000"/>
<rect x="146.98" y="400.91" width="8.46" height="17.32" rx="4.23" fill="#ff0000"/>
<ellipse cx="151.21" cy="395.07" rx="2.01" ry="2.01" fill="url(#gB)"/>
<rect x="158.05" y="402.05" width="12.08" height="17.72" rx="6.04" fill="#7020ff"/>
<rect x="158.36" y="402.36" width="11.46" height="17.10" rx="5.73" fill="#1535ff"/>
<rect x="158.67" y="402.66" width="10.85" height="16.48" rx="5.42" fill="#00d0ff"/>
<rect x="158.98" y="402.97" width="10.23" height="15.87" rx="5.11" fill="#30e800"/>
<rect x="159.29" y="403.28" width="9.61" height="15.25" rx="4.81" fill="#ffe000"/>
<rect x="159.60" y="403.59" width="8.99" height="14.63" rx="4.50" fill="#ff0000"/>
<ellipse cx="164.09" cy="400.44" rx="2.28" ry="1.61" fill="url(#gG2)"/>
<rect x="171.74" y="402.05" width="10.20" height="17.72" rx="5.10" fill="#7020ff"/>
<rect x="172.05" y="402.36" width="9.58" height="17.10" rx="4.79" fill="#1535ff"/>
<rect x="172.36" y="402.66" width="8.97" height="16.48" rx="4.48" fill="#00d0ff"/>
<rect x="172.67" y="402.97" width="8.35" height="15.87" rx="4.17" fill="#30e800"/>
<ellipse cx="176.71" cy="412.79" rx="3.76" ry="4.56" fill="url(#gH)"/>
<ellipse cx="176.71" cy="398.83" rx="2.68" ry="2.68" fill="url(#gH)"/>
<ellipse cx="175.10" cy="405.81" rx="2.15" ry="2.15" fill="url(#gY2)"/>
<ellipse cx="178.86" cy="407.15" rx="1.88" ry="1.88" fill="url(#gY2)"/>
<rect x="184.09" y="401.51" width="11.54" height="18.79" rx="5.77" fill="#7020ff"/>
<rect x="184.40" y="401.82" width="10.93" height="18.17" rx="5.46" fill="#1535ff"/>
<rect x="184.71" y="402.13" width="10.31" height="17.56" rx="5.15" fill="#00d0ff"/>
<rect x="185.02" y="402.44" width="9.69" height="16.94" rx="4.85" fill="#30e800"/>
<rect x="185.33" y="402.74" width="9.07" height="16.32" rx="4.54" fill="#ffe000"/>
<rect x="185.64" y="403.05" width="8.46" height="15.70" rx="4.23" fill="#ff0000"/>
<ellipse cx="189.60" cy="397.48" rx="2.28" ry="2.28" fill="url(#gB)"/>
<rect x="202.21" y="404.73" width="12.08" height="16.64" rx="6.04" fill="#7020ff"/>
<rect x="202.52" y="405.04" width="11.46" height="16.03" rx="5.73" fill="#1535ff"/>
<rect x="202.83" y="405.35" width="10.85" height="15.41" rx="5.42" fill="#00d0ff"/>
<rect x="203.14" y="405.66" width="10.23" height="14.79" rx="5.11" fill="#30e800"/>
<rect x="203.45" y="405.97" width="9.61" height="14.17" rx="4.81" fill="#ffe000"/>
<rect x="203.76" y="406.28" width="8.99" height="13.56" rx="4.50" fill="#ff0000"/>
<ellipse cx="208.26" cy="400.70" rx="2.68" ry="2.68" fill="url(#gH)"/>
<ellipse cx="219.04" cy="400.26" rx="1.34" ry="1.34" fill="url(#gP)"/>
<ellipse cx="219.05" cy="406.11" rx="0.93" ry="0.93" fill="url(#gP)"/>
<ellipse cx="224.28" cy="406.67" rx="1.04" ry="1.04" fill="url(#gP)"/>
<ellipse cx="217.78" cy="408.48" rx="1.53" ry="1.53" fill="url(#gP)"/>
<ellipse cx="219.72" cy="400.36" rx="1.59" ry="1.59" fill="url(#gP)"/>
<ellipse cx="223.67" cy="404.31" rx="0.89" ry="0.89" fill="url(#gP)"/>
<ellipse cx="220.91" cy="398.31" rx="2.55" ry="2.64" fill="url(#gB)"/>
<ellipse cx="222.54" cy="401.78" rx="3.38" ry="2.98" fill="url(#gB)"/>
<ellipse cx="221.31" cy="410.62" rx="3.23" ry="3.31" fill="url(#gB)"/>
<ellipse cx="220.24" cy="406.50" rx="3.46" ry="3.39" fill="url(#gB)"/>
<ellipse cx="221.36" cy="405.30" rx="2.33" ry="3.04" fill="url(#gB)"/>
<ellipse cx="220.87" cy="406.19" rx="2.84" ry="3.44" fill="url(#gB)"/>
<ellipse cx="220.27" cy="404.86" rx="2.34" ry="2.55" fill="url(#gB)"/>
<ellipse cx="218.46" cy="402.05" rx="1.74" ry="1.74" fill="url(#gY2)"/>
<ellipse cx="223.56" cy="403.39" rx="1.48" ry="2.68" fill="url(#gG2)"/>
<ellipse cx="220.07" cy="409.03" rx="1.61" ry="1.61" fill="url(#gC2)"/>
<rect x="227.45" y="401.51" width="11.81" height="18.79" rx="5.91" fill="#7020ff"/>
<rect x="227.76" y="401.82" width="11.19" height="18.17" rx="5.60" fill="#1535ff"/>
<rect x="228.07" y="402.13" width="10.58" height="17.56" rx="5.29" fill="#00d0ff"/>
<rect x="228.38" y="402.44" width="9.96" height="16.94" rx="4.98" fill="#30e800"/>
<rect x="228.68" y="402.74" width="9.34" height="16.32" rx="4.67" fill="#ffe000"/>
<rect x="228.99" y="403.05" width="8.72" height="15.70" rx="4.36" fill="#ff0000"/>
<ellipse cx="232.95" cy="396.14" rx="2.28" ry="2.28" fill="url(#gC2)"/>
<rect x="232.42" y="420.30" width="1.07" height="15.57" fill="#2038ff"/>
<rect x="240.34" y="398.29" width="11.54" height="21.48" rx="5.77" fill="#7020ff"/>
<rect x="240.64" y="398.60" width="10.93" height="20.86" rx="5.46" fill="#1535ff"/>
<rect x="240.95" y="398.91" width="10.31" height="20.24" rx="5.15" fill="#00d0ff"/>
<rect x="241.26" y="399.21" width="9.69" height="19.62" rx="4.85" fill="#30e800"/>
<ellipse cx="245.03" cy="403.66" rx="3.22" ry="3.22" fill="url(#gH)"/>
<ellipse cx="243.69" cy="414.40" rx="3.49" ry="3.49" fill="url(#gH)"/>
<ellipse cx="248.52" cy="409.03" rx="2.42" ry="2.42" fill="url(#gY2)"/>
<ellipse cx="247.45" cy="415.20" rx="2.15" ry="2.15" fill="url(#gY2)"/>
<ellipse cx="243.15" cy="408.49" rx="2.15" ry="2.15" fill="url(#gY2)"/>
<ellipse cx="245.57" cy="395.07" rx="1.34" ry="1.34" fill="url(#gP)"/>
<rect x="253.22" y="399.36" width="11.28" height="20.40" rx="5.64" fill="#7020ff"/>
<rect x="253.53" y="399.67" width="10.66" height="19.79" rx="5.33" fill="#1535ff"/>
<rect x="253.84" y="399.98" width="10.04" height="19.17" rx="5.02" fill="#00d0ff"/>
<ellipse cx="257.11" cy="405.81" rx="2.01" ry="4.03" fill="url(#gG2)"/>
<ellipse cx="261.41" cy="412.79" rx="2.42" ry="2.42" fill="url(#gG2)"/>
<ellipse cx="260.87" cy="414.66" rx="1.48" ry="1.48" fill="url(#gY2)"/>
<ellipse cx="258.46" cy="395.60" rx="1.74" ry="1.74" fill="url(#gB)"/>
<ellipse cx="289.33" cy="413.32" rx="1.74" ry="1.48" fill="url(#gB)"/>
<ellipse cx="332.82" cy="409.03" rx="0.94" ry="1.34" fill="url(#gP)"/>
</g>
<rect x="61.05" y="293.55" width="67.10" height="45.60" fill="none" stroke="#050505" stroke-width="0.7"/>
<rect x="130.85" y="293.55" width="67.10" height="45.60" fill="none" stroke="#050505" stroke-width="0.7"/>
<rect x="200.75" y="293.55" width="67.10" height="45.60" fill="none" stroke="#050505" stroke-width="0.7"/>
<rect x="270.45" y="293.55" width="67.10" height="45.60" fill="none" stroke="#050505" stroke-width="0.7"/>
<rect x="61.05" y="342.05" width="67.10" height="45.60" fill="none" stroke="#050505" stroke-width="0.7"/>
<rect x="130.85" y="342.05" width="67.10" height="45.60" fill="none" stroke="#050505" stroke-width="0.7"/>
<rect x="200.75" y="342.05" width="67.10" height="45.60" fill="none" stroke="#050505" stroke-width="0.7"/>
<rect x="270.45" y="342.05" width="67.10" height="45.60" fill="none" stroke="#050505" stroke-width="0.7"/>
<rect x="61.05" y="390.25" width="67.10" height="45.60" fill="none" stroke="#050505" stroke-width="0.7"/>
<rect x="130.85" y="390.25" width="67.10" height="45.60" fill="none" stroke="#050505" stroke-width="0.7"/>
<rect x="200.75" y="390.25" width="67.10" height="45.60" fill="none" stroke="#050505" stroke-width="0.7"/>
<rect x="270.45" y="390.25" width="67.10" height="45.60" fill="none" stroke="#050505" stroke-width="0.7"/>
<rect x="340.1" y="293.3" width="3.2" height="45.20" fill="url(#cb)"/>
<line x1="343.30" y1="293.80" x2="344.30" y2="293.80" stroke="#999" stroke-width="0.4" />
<rect x="345" y="293.30" width="2.6" height="1" fill="#8a8a8a"/>
<line x1="343.30" y1="302.04" x2="344.30" y2="302.04" stroke="#999" stroke-width="0.4" />
<rect x="345" y="301.54" width="2.6" height="1" fill="#8a8a8a"/>
<line x1="343.30" y1="310.28" x2="344.30" y2="310.28" stroke="#999" stroke-width="0.4" />
<rect x="345" y="309.78" width="2.6" height="1" fill="#8a8a8a"/>
<line x1="343.30" y1="318.52" x2="344.30" y2="318.52" stroke="#999" stroke-width="0.4" />
<rect x="345" y="318.02" width="2.6" height="1" fill="#8a8a8a"/>
<line x1="343.30" y1="326.76" x2="344.30" y2="326.76" stroke="#999" stroke-width="0.4" />
<rect x="345" y="326.26" width="2.6" height="1" fill="#8a8a8a"/>
<line x1="343.30" y1="335.00" x2="344.30" y2="335.00" stroke="#999" stroke-width="0.4" />
<rect x="345" y="334.50" width="2.6" height="1" fill="#8a8a8a"/>
<rect x="350.8" y="314.40" width="1.6" height="3" fill="#aaa"/>
<rect x="340.1" y="342.1" width="3.2" height="44.30" fill="url(#cb)"/>
<line x1="343.30" y1="342.60" x2="344.30" y2="342.60" stroke="#999" stroke-width="0.4" />
<rect x="345" y="342.10" width="2.6" height="1" fill="#8a8a8a"/>
<line x1="343.30" y1="350.66" x2="344.30" y2="350.66" stroke="#999" stroke-width="0.4" />
<rect x="345" y="350.16" width="2.6" height="1" fill="#8a8a8a"/>
<line x1="343.30" y1="358.72" x2="344.30" y2="358.72" stroke="#999" stroke-width="0.4" />
<rect x="345" y="358.22" width="2.6" height="1" fill="#8a8a8a"/>
<line x1="343.30" y1="366.78" x2="344.30" y2="366.78" stroke="#999" stroke-width="0.4" />
<rect x="345" y="366.28" width="2.6" height="1" fill="#8a8a8a"/>
<line x1="343.30" y1="374.84" x2="344.30" y2="374.84" stroke="#999" stroke-width="0.4" />
<rect x="345" y="374.34" width="2.6" height="1" fill="#8a8a8a"/>
<line x1="343.30" y1="382.90" x2="344.30" y2="382.90" stroke="#999" stroke-width="0.4" />
<rect x="345" y="382.40" width="2.6" height="1" fill="#8a8a8a"/>
<rect x="350.8" y="362.75" width="1.6" height="3" fill="#aaa"/>
<text x="551.50" y="260.04" font-size="8.5" font-weight="bold" fill="#000" text-anchor="middle" >A20 (s.c injection)</text>
<line x1="446.00" y1="265.60" x2="659.30" y2="265.60" stroke="#000" stroke-width="1.3" />
<text x="480.00" y="277.26" font-size="8.55" font-weight="bold" fill="#ff0000" text-anchor="middle" >CD40 CAR-Luc-T</text>
<text x="589.50" y="277.26" font-size="8.55" font-weight="bold" fill="#0000ff" text-anchor="middle" >Cot CAR-Luc-T</text>
<line x1="446.00" y1="282.00" x2="513.40" y2="282.00" stroke="#000" stroke-width="1.3" />
<line x1="518.00" y1="282.00" x2="659.30" y2="282.00" stroke="#000" stroke-width="1.3" />
<text x="398.00" y="293.54" font-size="8.5" font-weight="bold" fill="#c8281e" text-anchor="start" >C1C02-Cot :</text>
<text x="477.60" y="293.34" font-size="8.5" font-weight="bold" fill="#c8281e" text-anchor="middle" >-</text>
<text x="552.00" y="293.34" font-size="8.5" font-weight="bold" fill="#c8281e" text-anchor="middle" >-</text>
<text x="624.30" y="293.64" font-size="8.5" font-weight="bold" fill="#c8281e" text-anchor="middle" >+</text>
<text x="425.00" y="327.97" font-size="8.3" font-weight="bold" fill="#000" text-anchor="middle" >6hr</text>
<text x="424.70" y="382.27" font-size="8.3" font-weight="bold" fill="#000" text-anchor="middle" >Day1</text>
<text x="424.70" y="429.77" font-size="8.3" font-weight="bold" fill="#000" text-anchor="middle" >Day3</text>
<text x="424.70" y="483.17" font-size="8.3" font-weight="bold" fill="#000" text-anchor="middle" >Day7</text>
<clipPath id="cf00"><rect x="445.30" y="299.10" width="70.3" height="49.4"/></clipPath>
<g clip-path="url(#cf00)">
<rect x="445.30" y="299.10" width="70.30" height="49.40" fill="#272727"/>
<rect x="445.30" y="299.10" width="70.30" height="10.2" fill="#0e0e0e"/>
<rect x="452.30" y="300.30" width="61.30" height="4.6" fill="#3a3a3a" filter="url(#fs)"/>
<use href="#mf" transform="translate(453.50 309.90) scale(0.95 0.885)"/>
<use href="#mfb" transform="translate(453.50 309.90) scale(0.95 0.885)"/>
<use href="#mf" transform="translate(466.60 309.90) scale(0.95 0.885)"/>
<use href="#mfb" transform="translate(466.60 309.90) scale(0.95 0.885)"/>
<use href="#mf" transform="translate(479.60 309.90) scale(0.95 0.885)"/>
<use href="#mfb" transform="translate(479.60 309.90) scale(0.95 0.885)"/>
<use href="#mf" transform="translate(492.90 309.90) scale(0.95 0.885)"/>
<use href="#mfb" transform="translate(492.90 309.90) scale(0.95 0.885)"/>
<use href="#mf" transform="translate(506.80 309.90) scale(0.95 0.885)"/>
<use href="#mfb" transform="translate(506.80 309.90) scale(0.95 0.885)"/>
</g>
<clipPath id="cf01"><rect x="517.80" y="299.10" width="70.3" height="49.4"/></clipPath>
<g clip-path="url(#cf01)">
<rect x="517.80" y="299.10" width="70.30" height="49.40" fill="#272727"/>
<rect x="517.80" y="299.10" width="70.30" height="10.2" fill="#0e0e0e"/>
<rect x="524.80" y="300.30" width="61.30" height="4.6" fill="#3a3a3a" filter="url(#fs)"/>
<use href="#mf" transform="rotate(3 524.50 333.10) translate(524.50 307.50) scale(0.9 0.985)"/>
<use href="#mf" transform="rotate(3 538.10 333.10) translate(538.10 307.50) scale(0.9 0.985)"/>
<use href="#mf" transform="rotate(3 551.70 333.10) translate(551.70 307.50) scale(0.9 0.985)"/>
<use href="#mf" transform="rotate(3 564.90 333.10) translate(564.90 307.50) scale(0.9 0.985)"/>
<use href="#mf" transform="rotate(3 578.40 333.10) translate(578.40 307.50) scale(0.9 0.985)"/>
</g>
<clipPath id="cf02"><rect x="590.10" y="299.10" width="70.3" height="49.4"/></clipPath>
<g clip-path="url(#cf02)">
<rect x="590.10" y="299.10" width="70.30" height="49.40" fill="#272727"/>
<rect x="590.10" y="299.10" width="70.30" height="10.2" fill="#0e0e0e"/>
<rect x="597.10" y="300.30" width="61.30" height="4.6" fill="#3a3a3a" filter="url(#fs)"/>
<use href="#mf" transform="rotate(3 596.70 333.10) translate(596.70 307.50) scale(0.9 0.985)"/>
<use href="#mf" transform="rotate(3 610.60 333.10) translate(610.60 307.50) scale(0.9 0.985)"/>
<use href="#mf" transform="rotate(3 624.60 333.10) translate(624.60 307.50) scale(0.9 0.985)"/>
<use href="#mf" transform="rotate(3 638.20 333.10) translate(638.20 307.50) scale(0.9 0.985)"/>
<use href="#mf" transform="rotate(3 651.80 333.10) translate(651.80 307.50) scale(0.9 0.985)"/>
</g>
<clipPath id="cf10"><rect x="445.30" y="350.80" width="70.3" height="49.4"/></clipPath>
<g clip-path="url(#cf10)">
<rect x="445.30" y="350.80" width="70.30" height="49.40" fill="#272727"/>
<rect x="445.30" y="350.80" width="70.30" height="10.2" fill="#0e0e0e"/>
<rect x="452.30" y="352.00" width="61.30" height="4.6" fill="#3a3a3a" filter="url(#fs)"/>
<use href="#mf" transform="translate(453.50 361.60) scale(0.95 0.885)"/>
<use href="#mfb" transform="translate(453.50 361.60) scale(0.95 0.885)"/>
<use href="#mf" transform="translate(466.60 361.60) scale(0.95 0.885)"/>
<use href="#mfb" transform="translate(466.60 361.60) scale(0.95 0.885)"/>
<use href="#mf" transform="translate(479.60 361.60) scale(0.95 0.885)"/>
<use href="#mfb" transform="translate(479.60 361.60) scale(0.95 0.885)"/>
<use href="#mf" transform="translate(492.90 361.60) scale(0.95 0.885)"/>
<use href="#mfb" transform="translate(492.90 361.60) scale(0.95 0.885)"/>
<use href="#mf" transform="translate(506.80 361.60) scale(0.95 0.885)"/>
<use href="#mfb" transform="translate(506.80 361.60) scale(0.95 0.885)"/>
</g>
<clipPath id="cf11"><rect x="517.80" y="350.80" width="70.3" height="49.4"/></clipPath>
<g clip-path="url(#cf11)">
<rect x="517.80" y="350.80" width="70.30" height="49.40" fill="#272727"/>
<rect x="517.80" y="350.80" width="70.30" height="10.2" fill="#0e0e0e"/>
<rect x="524.80" y="352.00" width="61.30" height="4.6" fill="#3a3a3a" filter="url(#fs)"/>
<use href="#mf" transform="rotate(3 524.50 384.80) translate(524.50 359.20) scale(0.9 0.985)"/>
<use href="#mf" transform="rotate(3 538.10 384.80) translate(538.10 359.20) scale(0.9 0.985)"/>
<use href="#mf" transform="rotate(3 551.70 384.80) translate(551.70 359.20) scale(0.9 0.985)"/>
<use href="#mf" transform="rotate(3 564.90 384.80) translate(564.90 359.20) scale(0.9 0.985)"/>
<use href="#mf" transform="rotate(3 578.40 384.80) translate(578.40 359.20) scale(0.9 0.985)"/>
</g>
<clipPath id="cf12"><rect x="590.10" y="350.80" width="70.3" height="49.4"/></clipPath>
<g clip-path="url(#cf12)">
<rect x="590.10" y="350.80" width="70.30" height="49.40" fill="#272727"/>
<rect x="590.10" y="350.80" width="70.30" height="10.2" fill="#0e0e0e"/>
<rect x="597.10" y="352.00" width="61.30" height="4.6" fill="#3a3a3a" filter="url(#fs)"/>
<use href="#mf" transform="rotate(3 596.70 384.80) translate(596.70 359.20) scale(0.9 0.985)"/>
<use href="#mf" transform="rotate(3 610.60 384.80) translate(610.60 359.20) scale(0.9 0.985)"/>
<use href="#mf" transform="rotate(3 624.60 384.80) translate(624.60 359.20) scale(0.9 0.985)"/>
<use href="#mf" transform="rotate(3 638.20 384.80) translate(638.20 359.20) scale(0.9 0.985)"/>
<use href="#mf" transform="rotate(3 651.80 384.80) translate(651.80 359.20) scale(0.9 0.985)"/>
</g>
<clipPath id="cf20"><rect x="445.30" y="402.50" width="70.3" height="49.4"/></clipPath>
<g clip-path="url(#cf20)">
<rect x="445.30" y="402.50" width="70.30" height="49.40" fill="#272727"/>
<rect x="445.30" y="402.50" width="70.30" height="10.2" fill="#0e0e0e"/>
<rect x="452.30" y="403.70" width="61.30" height="4.6" fill="#3a3a3a" filter="url(#fs)"/>
<use href="#mf" transform="translate(453.50 413.30) scale(0.95 0.885)"/>
<use href="#mfb" transform="translate(453.50 413.30) scale(0.95 0.885)"/>
<use href="#mf" transform="translate(466.60 413.30) scale(0.95 0.885)"/>
<use href="#mfb" transform="translate(466.60 413.30) scale(0.95 0.885)"/>
<use href="#mf" transform="translate(479.60 413.30) scale(0.95 0.885)"/>
<use href="#mfb" transform="translate(479.60 413.30) scale(0.95 0.885)"/>
<use href="#mf" transform="translate(492.90 413.30) scale(0.95 0.885)"/>
<use href="#mfb" transform="translate(492.90 413.30) scale(0.95 0.885)"/>
<use href="#mf" transform="translate(506.80 413.30) scale(0.95 0.885)"/>
<use href="#mfb" transform="translate(506.80 413.30) scale(0.95 0.885)"/>
</g>
<clipPath id="cf21"><rect x="517.80" y="402.50" width="70.3" height="49.4"/></clipPath>
<g clip-path="url(#cf21)">
<rect x="517.80" y="402.50" width="70.30" height="49.40" fill="#272727"/>
<rect x="517.80" y="402.50" width="70.30" height="10.2" fill="#0e0e0e"/>
<rect x="524.80" y="403.70" width="61.30" height="4.6" fill="#3a3a3a" filter="url(#fs)"/>
<use href="#mf" transform="rotate(3 524.50 436.50) translate(524.50 410.90) scale(0.9 0.985)"/>
<use href="#mf" transform="rotate(3 538.10 436.50) translate(538.10 410.90) scale(0.9 0.985)"/>
<use href="#mf" transform="rotate(3 551.70 436.50) translate(551.70 410.90) scale(0.9 0.985)"/>
<use href="#mf" transform="rotate(3 564.90 436.50) translate(564.90 410.90) scale(0.9 0.985)"/>
<use href="#mf" transform="rotate(3 578.40 436.50) translate(578.40 410.90) scale(0.9 0.985)"/>
</g>
<clipPath id="cf22"><rect x="590.10" y="402.50" width="70.3" height="49.4"/></clipPath>
<g clip-path="url(#cf22)">
<rect x="590.10" y="402.50" width="70.30" height="49.40" fill="#272727"/>
<rect x="590.10" y="402.50" width="70.30" height="10.2" fill="#0e0e0e"/>
<rect x="597.10" y="403.70" width="61.30" height="4.6" fill="#3a3a3a" filter="url(#fs)"/>
<use href="#mf" transform="rotate(3 596.70 436.50) translate(596.70 410.90) scale(0.9 0.985)"/>
<use href="#mf" transform="rotate(3 610.60 436.50) translate(610.60 410.90) scale(0.9 0.985)"/>
<use href="#mf" transform="rotate(3 624.60 436.50) translate(624.60 410.90) scale(0.9 0.985)"/>
<use href="#mf" transform="rotate(3 638.20 436.50) translate(638.20 410.90) scale(0.9 0.985)"/>
<use href="#mf" transform="rotate(3 651.80 436.50) translate(651.80 410.90) scale(0.9 0.985)"/>
</g>
<clipPath id="cf30"><rect x="445.30" y="454.20" width="70.3" height="49.4"/></clipPath>
<g clip-path="url(#cf30)">
<rect x="445.30" y="454.20" width="70.30" height="49.40" fill="#272727"/>
<rect x="445.30" y="454.20" width="70.30" height="10.2" fill="#0e0e0e"/>
<rect x="452.30" y="455.40" width="61.30" height="4.6" fill="#3a3a3a" filter="url(#fs)"/>
<line x1="453.50" y1="454.20" x2="453.50" y2="463.20" stroke="#555" stroke-width="0.8"/>
<path d="M450.30 465.20 L456.50 497.20 M456.70 465.20 L450.50 497.20" stroke="#f2f2f2" stroke-width="1.3" fill="none"/>
<line x1="466.60" y1="454.20" x2="466.60" y2="463.20" stroke="#555" stroke-width="0.8"/>
<path d="M463.40 465.20 L469.60 497.20 M469.80 465.20 L463.60 497.20" stroke="#f2f2f2" stroke-width="1.3" fill="none"/>
<line x1="479.60" y1="454.20" x2="479.60" y2="463.20" stroke="#555" stroke-width="0.8"/>
<path d="M476.40 465.20 L482.60 497.20 M482.80 465.20 L476.60 497.20" stroke="#f2f2f2" stroke-width="1.3" fill="none"/>
<use href="#mf" transform="translate(492.90 465.00) scale(0.95 0.885)"/>
<use href="#mfb" transform="translate(492.90 465.00) scale(0.95 0.885)"/>
<use href="#mf" transform="translate(506.80 465.00) scale(0.95 0.885)"/>
<use href="#mfb" transform="translate(506.80 465.00) scale(0.95 0.885)"/>
</g>
<clipPath id="cf31"><rect x="517.80" y="454.20" width="70.3" height="49.4"/></clipPath>
<g clip-path="url(#cf31)">
<rect x="517.80" y="454.20" width="70.30" height="49.40" fill="#272727"/>
<rect x="517.80" y="454.20" width="70.30" height="10.2" fill="#0e0e0e"/>
<rect x="524.80" y="455.40" width="61.30" height="4.6" fill="#3a3a3a" filter="url(#fs)"/>
<use href="#mf" transform="rotate(3 524.50 488.20) translate(524.50 462.60) scale(0.9 0.985)"/>
<use href="#mf" transform="rotate(3 538.10 488.20) translate(538.10 462.60) scale(0.9 0.985)"/>
<use href="#mf" transform="rotate(3 551.70 488.20) translate(551.70 462.60) scale(0.9 0.985)"/>
<use href="#mf" transform="rotate(3 564.90 488.20) translate(564.90 462.60) scale(0.9 0.985)"/>
<use href="#mf" transform="rotate(3 578.40 488.20) translate(578.40 462.60) scale(0.9 0.985)"/>
</g>
<clipPath id="cf32"><rect x="590.10" y="454.20" width="70.3" height="49.4"/></clipPath>
<g clip-path="url(#cf32)">
<rect x="590.10" y="454.20" width="70.30" height="49.40" fill="#272727"/>
<rect x="590.10" y="454.20" width="70.30" height="10.2" fill="#0e0e0e"/>
<rect x="597.10" y="455.40" width="61.30" height="4.6" fill="#3a3a3a" filter="url(#fs)"/>
<use href="#mf" transform="rotate(3 596.70 488.20) translate(596.70 462.60) scale(0.9 0.985)"/>
<use href="#mf" transform="rotate(3 610.60 488.20) translate(610.60 462.60) scale(0.9 0.985)"/>
<use href="#mf" transform="rotate(3 624.60 488.20) translate(624.60 462.60) scale(0.9 0.985)"/>
<use href="#mf" transform="rotate(3 638.20 488.20) translate(638.20 462.60) scale(0.9 0.985)"/>
<use href="#mf" transform="rotate(3 651.80 488.20) translate(651.80 462.60) scale(0.9 0.985)"/>
</g>
<g filter="url(#fb)">
<rect x="448.80" y="318.47" width="9.42" height="10.15" rx="1.63" fill="url(#vD0)" stroke="none" stroke-width="0.7"/>
<ellipse cx="451.34" cy="322.64" rx="2.90" ry="2.54" fill="url(#gG2)"/>
<ellipse cx="455.69" cy="322.46" rx="2.90" ry="2.54" fill="url(#gG2)"/>
<ellipse cx="452.42" cy="327.17" rx="1.27" ry="0.91" fill="url(#gP)"/>
<ellipse cx="455.14" cy="327.90" rx="1.09" ry="0.91" fill="url(#gP)"/>
<rect x="461.85" y="318.47" width="9.42" height="10.15" rx="1.63" fill="url(#vD0)" stroke="none" stroke-width="0.7"/>
<ellipse cx="464.38" cy="322.64" rx="2.90" ry="2.54" fill="url(#gG2)"/>
<ellipse cx="468.73" cy="322.46" rx="2.90" ry="2.54" fill="url(#gG2)"/>
<ellipse cx="465.47" cy="327.17" rx="1.27" ry="0.91" fill="url(#gP)"/>
<ellipse cx="468.19" cy="327.90" rx="1.09" ry="0.91" fill="url(#gP)"/>
<rect x="474.53" y="318.47" width="9.42" height="10.15" rx="1.63" fill="url(#vD0)" stroke="none" stroke-width="0.7"/>
<ellipse cx="477.07" cy="322.64" rx="2.90" ry="2.54" fill="url(#gG2)"/>
<ellipse cx="481.42" cy="322.46" rx="2.90" ry="2.54" fill="url(#gG2)"/>
<ellipse cx="478.16" cy="327.17" rx="1.27" ry="0.91" fill="url(#gP)"/>
<ellipse cx="480.88" cy="327.90" rx="1.09" ry="0.91" fill="url(#gP)"/>
<rect x="488.13" y="318.47" width="9.42" height="10.15" rx="1.63" fill="url(#vD0)" stroke="none" stroke-width="0.7"/>
<ellipse cx="490.66" cy="322.64" rx="2.90" ry="2.54" fill="url(#gG2)"/>
<ellipse cx="495.01" cy="322.46" rx="2.90" ry="2.54" fill="url(#gG2)"/>
<ellipse cx="491.75" cy="327.17" rx="1.27" ry="0.91" fill="url(#gP)"/>
<ellipse cx="494.47" cy="327.90" rx="1.09" ry="0.91" fill="url(#gP)"/>
<ellipse cx="468.37" cy="321.73" rx="1.63" ry="1.63" fill="url(#gY2)"/>
<ellipse cx="481.42" cy="321.73" rx="1.45" ry="1.45" fill="url(#gY2)"/>
<ellipse cx="495.19" cy="321.01" rx="1.81" ry="1.81" fill="url(#gY2)"/>
<ellipse cx="490.48" cy="323.18" rx="1.09" ry="1.09" fill="url(#gY2)"/>
<rect x="502.80" y="318.83" width="9.06" height="5.80" rx="1.63" fill="url(#vD0)" stroke="none" stroke-width="0.7"/>
<ellipse cx="505.34" cy="321.01" rx="1.99" ry="1.63" fill="url(#gG2)"/>
<ellipse cx="509.87" cy="321.55" rx="1.81" ry="1.63" fill="url(#gG2)"/>
<ellipse cx="452.97" cy="338.77" rx="0.72" ry="0.72" fill="url(#gP)"/>
<ellipse cx="453.33" cy="342.39" rx="0.54" ry="0.54" fill="url(#gP)"/>
<ellipse cx="480.69" cy="343.48" rx="0.45" ry="0.45" fill="url(#gP)"/>
<ellipse cx="480.15" cy="333.15" rx="0.54" ry="0.54" fill="url(#gP)"/>
<ellipse cx="492.84" cy="330.80" rx="0.72" ry="0.72" fill="url(#gP)"/>
<ellipse cx="466.56" cy="330.07" rx="0.72" ry="0.72" fill="url(#gP)"/>
<rect x="448.26" y="366.32" width="10.51" height="17.76" rx="2.54" fill="url(#vD1)" stroke="#5a28ff" stroke-width="0.7"/>
<rect x="448.26" y="367.04" width="10.51" height="16.31" rx="2.54" fill="url(#hRim)" stroke="none" stroke-width="0.7"/>
<ellipse cx="451.88" cy="379.73" rx="1.63" ry="1.45" fill="url(#gY2)"/>
<ellipse cx="455.50" cy="377.19" rx="1.45" ry="1.45" fill="url(#gG2)"/>
<rect x="461.30" y="366.32" width="10.51" height="17.76" rx="2.54" fill="url(#vD1)" stroke="#5a28ff" stroke-width="0.7"/>
<rect x="461.30" y="367.04" width="10.51" height="16.31" rx="2.54" fill="url(#hRim)" stroke="none" stroke-width="0.7"/>
<ellipse cx="464.93" cy="379.73" rx="1.63" ry="1.45" fill="url(#gY2)"/>
<ellipse cx="468.55" cy="377.19" rx="1.45" ry="1.45" fill="url(#gG2)"/>
<rect x="473.99" y="366.32" width="10.51" height="17.76" rx="2.54" fill="url(#vD1)" stroke="#5a28ff" stroke-width="0.7"/>
<rect x="473.99" y="367.04" width="10.51" height="16.31" rx="2.54" fill="url(#hRim)" stroke="none" stroke-width="0.7"/>
<ellipse cx="477.61" cy="379.73" rx="1.63" ry="1.45" fill="url(#gY2)"/>
<ellipse cx="481.24" cy="377.19" rx="1.45" ry="1.45" fill="url(#gG2)"/>
<rect x="487.58" y="366.32" width="10.51" height="17.76" rx="2.54" fill="url(#vD1b)" stroke="#5a28ff" stroke-width="0.7"/>
<rect x="487.58" y="367.04" width="10.51" height="16.31" rx="2.54" fill="url(#hRim)" stroke="none" stroke-width="0.7"/>
<ellipse cx="491.21" cy="379.73" rx="1.63" ry="1.45" fill="url(#gY2)"/>
<ellipse cx="494.83" cy="377.19" rx="1.45" ry="1.45" fill="url(#gG2)"/>
<rect x="501.54" y="366.32" width="10.51" height="17.76" rx="2.54" fill="url(#vD1b)" stroke="#5a28ff" stroke-width="0.7"/>
<rect x="501.54" y="367.04" width="10.51" height="16.31" rx="2.54" fill="url(#hRim)" stroke="none" stroke-width="0.7"/>
<ellipse cx="505.16" cy="379.73" rx="1.63" ry="1.45" fill="url(#gY2)"/>
<ellipse cx="508.78" cy="377.19" rx="1.45" ry="1.45" fill="url(#gG2)"/>
<ellipse cx="492.29" cy="372.84" rx="3.44" ry="2.90" fill="url(#gH)"/>
<ellipse cx="496.10" cy="376.46" rx="1.63" ry="1.63" fill="url(#gY2)"/>
<ellipse cx="505.52" cy="373.56" rx="3.44" ry="3.08" fill="url(#gH)"/>
<ellipse cx="509.33" cy="372.84" rx="1.45" ry="1.45" fill="url(#gY2)"/>
<ellipse cx="453.51" cy="365.41" rx="1.45" ry="1.45" fill="url(#gB)"/>
<ellipse cx="466.56" cy="364.50" rx="1.27" ry="1.27" fill="url(#gB)"/>
<ellipse cx="505.52" cy="364.50" rx="0.91" ry="0.91" fill="url(#gP)"/>
<ellipse cx="452.97" cy="390.24" rx="0.54" ry="1.45" fill="url(#gP)"/>
<ellipse cx="480.15" cy="394.77" rx="0.45" ry="0.45" fill="url(#gP)"/>
<rect x="448.53" y="416.40" width="9.60" height="19.57" rx="4.80" fill="#7020ff"/>
<rect x="448.93" y="416.80" width="8.81" height="18.77" rx="4.40" fill="#1535ff"/>
<rect x="449.32" y="417.19" width="8.01" height="17.98" rx="4.01" fill="#00d0ff"/>
<rect x="449.72" y="417.59" width="7.21" height="17.18" rx="3.61" fill="#30e800"/>
<ellipse cx="452.97" cy="426.55" rx="2.90" ry="4.71" fill="url(#gH)"/>
<ellipse cx="454.24" cy="421.11" rx="1.81" ry="1.81" fill="url(#gY2)"/>
<ellipse cx="451.70" cy="431.26" rx="1.63" ry="1.63" fill="url(#gY2)"/>
<ellipse cx="452.97" cy="417.12" rx="1.63" ry="1.27" fill="url(#gB)"/>
<rect x="461.76" y="416.40" width="9.60" height="18.85" rx="4.80" fill="#7020ff"/>
<rect x="462.16" y="416.80" width="8.81" height="18.05" rx="4.40" fill="#1535ff"/>
<rect x="462.55" y="417.19" width="8.01" height="17.25" rx="4.01" fill="#00d0ff"/>
<rect x="462.95" y="417.59" width="7.21" height="16.46" rx="3.61" fill="#30e800"/>
<ellipse cx="465.47" cy="424.37" rx="3.26" ry="3.44" fill="url(#gH)"/>
<ellipse cx="468.37" cy="429.45" rx="1.81" ry="1.81" fill="url(#gY2)"/>
<ellipse cx="466.56" cy="417.12" rx="1.63" ry="1.27" fill="url(#gB)"/>
<rect x="475.62" y="419.30" width="7.97" height="10.87" rx="2.90" fill="#1a35ff" stroke="#8a20ff" stroke-width="0.7"/>
<ellipse cx="479.79" cy="423.47" rx="3.26" ry="3.62" fill="url(#gC2)"/>
<ellipse cx="477.43" cy="427.09" rx="1.63" ry="1.63" fill="url(#gC2)"/>
<ellipse cx="479.25" cy="417.12" rx="1.09" ry="1.09" fill="url(#gP)"/>
<rect x="490.48" y="420.38" width="6.89" height="9.42" rx="2.54" fill="#3a28ff" stroke="#8a20ff" stroke-width="0.7"/>
<ellipse cx="495.19" cy="423.47" rx="1.81" ry="1.81" fill="url(#gC2)"/>
<ellipse cx="491.93" cy="422.20" rx="1.27" ry="1.27" fill="url(#gP)"/>
<ellipse cx="494.11" cy="427.63" rx="1.27" ry="1.27" fill="url(#gP)"/>
<rect x="502.53" y="416.40" width="9.24" height="19.57" rx="4.62" fill="#7020ff"/>
<rect x="502.93" y="416.80" width="8.45" height="18.77" rx="4.22" fill="#1535ff"/>
<rect x="503.33" y="417.19" width="7.65" height="17.98" rx="3.82" fill="#00d0ff"/>
<rect x="503.73" y="417.59" width="6.85" height="17.18" rx="3.43" fill="#30e800"/>
<ellipse cx="507.52" cy="426.18" rx="2.90" ry="4.89" fill="url(#gH)"/>
<ellipse cx="506.43" cy="420.38" rx="1.81" ry="1.81" fill="url(#gY2)"/>
<ellipse cx="507.33" cy="417.12" rx="1.63" ry="1.27" fill="url(#gB)"/>
<ellipse cx="451.16" cy="439.78" rx="0.54" ry="0.54" fill="url(#gP)"/>
<ellipse cx="506.43" cy="437.96" rx="0.72" ry="0.72" fill="url(#gP)"/>
<rect x="488.13" y="471.85" width="11.78" height="22.11" rx="4.71" fill="#7020ff"/>
<rect x="490.84" y="467.14" width="6.89" height="9.79" rx="2.90" fill="#7020ff"/>
<rect x="488.43" y="472.16" width="11.16" height="21.49" rx="4.40" fill="#1535ff"/>
<rect x="491.15" y="467.45" width="6.27" height="9.17" rx="2.59" fill="#1535ff"/>
<rect x="488.74" y="472.47" width="10.55" height="20.88" rx="4.10" fill="#00d0ff"/>
<rect x="491.46" y="467.76" width="5.65" height="8.55" rx="2.28" fill="#00d0ff"/>
<rect x="489.05" y="472.78" width="9.93" height="20.26" rx="3.79" fill="#30e800"/>
<rect x="491.77" y="468.06" width="5.04" height="7.94" rx="1.98" fill="#30e800"/>
<rect x="489.36" y="473.08" width="9.31" height="19.64" rx="3.48" fill="#ffe000"/>
<rect x="492.08" y="468.37" width="4.42" height="7.32" rx="1.67" fill="#ffe000"/>
<rect x="489.67" y="473.39" width="8.70" height="19.03" rx="3.17" fill="#ff0000"/>
<rect x="492.38" y="468.68" width="3.81" height="6.71" rx="1.36" fill="#ff0000"/>
<rect x="500.63" y="471.85" width="12.32" height="22.11" rx="4.89" fill="#7020ff"/>
<rect x="503.53" y="466.78" width="6.89" height="10.15" rx="2.90" fill="#7020ff"/>
<rect x="500.94" y="472.16" width="11.71" height="21.49" rx="4.58" fill="#1535ff"/>
<rect x="503.84" y="467.09" width="6.27" height="9.53" rx="2.59" fill="#1535ff"/>
<rect x="501.25" y="472.47" width="11.09" height="20.88" rx="4.28" fill="#00d0ff"/>
<rect x="504.15" y="467.39" width="5.65" height="8.92" rx="2.28" fill="#00d0ff"/>
<rect x="501.55" y="472.78" width="10.47" height="20.26" rx="3.97" fill="#30e800"/>
<rect x="504.45" y="467.70" width="5.04" height="8.30" rx="1.98" fill="#30e800"/>
<rect x="501.86" y="473.08" width="9.86" height="19.64" rx="3.66" fill="#ffe000"/>
<rect x="504.76" y="468.01" width="4.42" height="7.68" rx="1.67" fill="#ffe000"/>
<rect x="502.17" y="473.39" width="9.24" height="19.03" rx="3.35" fill="#ff0000"/>
<rect x="505.07" y="468.32" width="3.81" height="7.07" rx="1.36" fill="#ff0000"/>
<ellipse cx="493.92" cy="467.87" rx="1.09" ry="1.09" fill="url(#gG2)"/>
<ellipse cx="506.79" cy="467.50" rx="0.91" ry="0.91" fill="url(#gC2)"/>
<rect x="493.56" y="492.33" width="0.91" height="11.42" fill="#2a30ff"/>
<rect x="506.79" y="492.33" width="0.72" height="11.42" fill="#3040ff"/>
<ellipse cx="491.02" cy="492.33" rx="0.91" ry="1.81" fill="url(#gC)"/>
<ellipse cx="497.37" cy="491.79" rx="0.91" ry="1.81" fill="url(#gC)"/>
<ellipse cx="503.71" cy="492.33" rx="0.91" ry="1.63" fill="url(#gC)"/>
<ellipse cx="511.50" cy="491.79" rx="0.72" ry="1.63" fill="url(#gC)"/>
<ellipse cx="522.32" cy="332.60" rx="1.46" ry="1.46" fill="url(#gP)"/>
<ellipse cx="523.06" cy="328.20" rx="1.23" ry="1.23" fill="url(#gP)"/>
<ellipse cx="525.47" cy="331.87" rx="0.97" ry="0.97" fill="url(#gP)"/>
<ellipse cx="521.68" cy="332.46" rx="1.22" ry="1.22" fill="url(#gP)"/>
<ellipse cx="526.15" cy="322.03" rx="1.23" ry="1.23" fill="url(#gP)"/>
<ellipse cx="525.90" cy="324.87" rx="1.59" ry="1.59" fill="url(#gP)"/>
<ellipse cx="527.00" cy="322.39" rx="0.92" ry="0.92" fill="url(#gP)"/>
<ellipse cx="524.80" cy="333.75" rx="1.18" ry="1.18" fill="url(#gP)"/>
<ellipse cx="524.83" cy="331.04" rx="1.66" ry="1.87" fill="url(#gB)"/>
<ellipse cx="523.18" cy="329.47" rx="1.88" ry="1.88" fill="url(#gB)"/>
<ellipse cx="524.83" cy="331.22" rx="1.95" ry="1.65" fill="url(#gB)"/>
<ellipse cx="525.40" cy="325.30" rx="2.33" ry="1.83" fill="url(#gB)"/>
<ellipse cx="527.06" cy="328.01" rx="1.76" ry="1.99" fill="url(#gB)"/>
<ellipse cx="524.19" cy="324.04" rx="2.65" ry="2.09" fill="url(#gB)"/>
<ellipse cx="525.46" cy="324.71" rx="1.96" ry="2.27" fill="url(#gB)"/>
<ellipse cx="526.37" cy="324.72" rx="2.18" ry="2.27" fill="url(#gB)"/>
<ellipse cx="523.46" cy="326.08" rx="2.36" ry="2.36" fill="url(#gY2)"/>
<ellipse cx="525.64" cy="331.52" rx="2.36" ry="2.36" fill="url(#gC2)"/>
<ellipse cx="523.83" cy="330.07" rx="1.85" ry="1.85" fill="url(#gC2)"/>
<ellipse cx="540.92" cy="333.50" rx="0.95" ry="0.95" fill="url(#gP)"/>
<ellipse cx="535.62" cy="332.09" rx="1.44" ry="1.44" fill="url(#gP)"/>
<ellipse cx="539.18" cy="325.50" rx="1.35" ry="1.35" fill="url(#gP)"/>
<ellipse cx="538.79" cy="328.91" rx="1.02" ry="1.02" fill="url(#gP)"/>
<ellipse cx="537.72" cy="326.56" rx="1.43" ry="1.43" fill="url(#gP)"/>
<ellipse cx="541.16" cy="333.52" rx="1.30" ry="1.30" fill="url(#gP)"/>
<ellipse cx="537.81" cy="325.00" rx="0.93" ry="0.93" fill="url(#gP)"/>
<ellipse cx="535.27" cy="327.46" rx="1.14" ry="1.14" fill="url(#gP)"/>
<ellipse cx="536.19" cy="331.82" rx="2.20" ry="2.24" fill="url(#gB)"/>
<ellipse cx="538.17" cy="328.49" rx="1.98" ry="1.78" fill="url(#gB)"/>
<ellipse cx="533.53" cy="327.26" rx="2.36" ry="1.83" fill="url(#gB)"/>
<ellipse cx="539.92" cy="324.89" rx="2.43" ry="2.62" fill="url(#gB)"/>
<ellipse cx="538.32" cy="323.11" rx="2.02" ry="2.70" fill="url(#gB)"/>
<ellipse cx="538.87" cy="327.51" rx="2.45" ry="2.41" fill="url(#gB)"/>
<ellipse cx="536.63" cy="328.70" rx="2.16" ry="2.64" fill="url(#gB)"/>
<ellipse cx="535.75" cy="327.87" rx="2.02" ry="2.59" fill="url(#gB)"/>
<ellipse cx="537.24" cy="325.00" rx="2.88" ry="2.88" fill="url(#gG2)"/>
<ellipse cx="538.69" cy="330.43" rx="2.36" ry="2.36" fill="url(#gC2)"/>
<ellipse cx="549.78" cy="328.45" rx="1.17" ry="1.17" fill="url(#gP)"/>
<ellipse cx="552.01" cy="329.47" rx="0.95" ry="0.95" fill="url(#gP)"/>
<ellipse cx="548.41" cy="332.12" rx="1.09" ry="1.09" fill="url(#gP)"/>
<ellipse cx="549.75" cy="334.09" rx="1.25" ry="1.25" fill="url(#gP)"/>
<ellipse cx="553.42" cy="327.60" rx="1.37" ry="1.37" fill="url(#gP)"/>
<ellipse cx="549.25" cy="329.58" rx="1.54" ry="1.54" fill="url(#gP)"/>
<ellipse cx="551.51" cy="330.91" rx="1.39" ry="1.39" fill="url(#gP)"/>
<ellipse cx="548.72" cy="331.12" rx="1.33" ry="1.33" fill="url(#gP)"/>
<ellipse cx="551.27" cy="328.54" rx="2.57" ry="2.15" fill="url(#gB)"/>
<ellipse cx="550.87" cy="322.42" rx="2.41" ry="2.63" fill="url(#gB)"/>
<ellipse cx="549.57" cy="330.89" rx="2.11" ry="2.65" fill="url(#gB)"/>
<ellipse cx="551.79" cy="327.05" rx="1.78" ry="1.87" fill="url(#gB)"/>
<ellipse cx="552.70" cy="327.27" rx="2.31" ry="1.96" fill="url(#gB)"/>
<ellipse cx="550.12" cy="327.77" rx="2.01" ry="2.27" fill="url(#gB)"/>
<ellipse cx="549.00" cy="324.92" rx="2.37" ry="2.64" fill="url(#gB)"/>
<ellipse cx="553.79" cy="321.35" rx="2.36" ry="1.81" fill="url(#gB)"/>
<ellipse cx="550.29" cy="325.00" rx="2.63" ry="2.63" fill="url(#gG2)"/>
<ellipse cx="551.92" cy="331.34" rx="2.63" ry="2.63" fill="url(#gC2)"/>
<ellipse cx="562.63" cy="322.93" rx="1.19" ry="1.19" fill="url(#gP)"/>
<ellipse cx="562.14" cy="322.48" rx="1.20" ry="1.20" fill="url(#gP)"/>
<ellipse cx="566.78" cy="331.65" rx="1.46" ry="1.46" fill="url(#gP)"/>
<ellipse cx="562.54" cy="328.35" rx="1.11" ry="1.11" fill="url(#gP)"/>
<ellipse cx="562.24" cy="322.97" rx="1.06" ry="1.06" fill="url(#gP)"/>
<ellipse cx="566.84" cy="332.01" rx="1.49" ry="1.49" fill="url(#gP)"/>
<ellipse cx="566.07" cy="324.06" rx="1.13" ry="1.13" fill="url(#gP)"/>
<ellipse cx="565.01" cy="330.80" rx="1.53" ry="1.53" fill="url(#gP)"/>
<ellipse cx="564.63" cy="327.10" rx="2.29" ry="2.36" fill="url(#gB)"/>
<ellipse cx="563.44" cy="327.83" rx="2.15" ry="1.73" fill="url(#gB)"/>
<ellipse cx="566.57" cy="325.72" rx="2.23" ry="1.96" fill="url(#gB)"/>
<ellipse cx="565.63" cy="325.98" rx="2.59" ry="2.55" fill="url(#gB)"/>
<ellipse cx="562.93" cy="327.75" rx="2.28" ry="2.10" fill="url(#gB)"/>
<ellipse cx="564.81" cy="329.86" rx="2.51" ry="1.68" fill="url(#gB)"/>
<ellipse cx="565.94" cy="328.99" rx="1.94" ry="2.21" fill="url(#gB)"/>
<ellipse cx="563.09" cy="328.34" rx="2.72" ry="1.84" fill="url(#gB)"/>
<ellipse cx="562.97" cy="325.00" rx="2.88" ry="2.88" fill="url(#gG2)"/>
<ellipse cx="565.69" cy="330.80" rx="3.15" ry="3.15" fill="url(#gG2)"/>
<ellipse cx="579.66" cy="330.36" rx="1.48" ry="1.48" fill="url(#gP)"/>
<ellipse cx="581.61" cy="330.33" rx="1.57" ry="1.57" fill="url(#gP)"/>
<ellipse cx="576.05" cy="327.13" rx="1.59" ry="1.59" fill="url(#gP)"/>
<ellipse cx="579.82" cy="332.21" rx="0.99" ry="0.99" fill="url(#gP)"/>
<ellipse cx="578.73" cy="324.58" rx="1.30" ry="1.30" fill="url(#gP)"/>
<ellipse cx="579.37" cy="321.85" rx="1.06" ry="1.06" fill="url(#gP)"/>
<ellipse cx="577.57" cy="332.39" rx="1.46" ry="1.46" fill="url(#gP)"/>
<ellipse cx="576.84" cy="331.00" rx="1.01" ry="1.01" fill="url(#gP)"/>
<ellipse cx="578.43" cy="326.64" rx="1.63" ry="2.58" fill="url(#gB)"/>
<ellipse cx="579.14" cy="329.24" rx="2.70" ry="2.58" fill="url(#gB)"/>
<ellipse cx="578.12" cy="333.81" rx="2.22" ry="2.37" fill="url(#gB)"/>
<ellipse cx="579.76" cy="333.33" rx="2.38" ry="2.68" fill="url(#gB)"/>
<ellipse cx="579.75" cy="326.21" rx="2.02" ry="1.81" fill="url(#gB)"/>
<ellipse cx="579.20" cy="328.27" rx="1.96" ry="2.29" fill="url(#gB)"/>
<ellipse cx="580.82" cy="327.61" rx="2.00" ry="1.97" fill="url(#gB)"/>
<ellipse cx="579.52" cy="324.89" rx="1.97" ry="2.15" fill="url(#gB)"/>
<ellipse cx="578.37" cy="325.00" rx="3.41" ry="3.41" fill="url(#gG2)"/>
<ellipse cx="580.18" cy="329.71" rx="2.10" ry="2.10" fill="url(#gC2)"/>
<ellipse cx="525.59" cy="382.32" rx="1.26" ry="1.26" fill="url(#gP)"/>
<ellipse cx="523.05" cy="374.78" rx="1.39" ry="1.39" fill="url(#gP)"/>
<ellipse cx="524.05" cy="381.75" rx="1.18" ry="1.18" fill="url(#gP)"/>
<ellipse cx="525.48" cy="377.28" rx="1.49" ry="1.49" fill="url(#gP)"/>
<ellipse cx="525.29" cy="378.57" rx="1.30" ry="1.30" fill="url(#gP)"/>
<ellipse cx="525.06" cy="376.55" rx="1.31" ry="1.31" fill="url(#gP)"/>
<ellipse cx="525.65" cy="377.21" rx="1.49" ry="1.49" fill="url(#gP)"/>
<ellipse cx="523.43" cy="375.83" rx="2.00" ry="1.73" fill="url(#gB)"/>
<ellipse cx="524.75" cy="375.94" rx="2.12" ry="1.73" fill="url(#gB)"/>
<ellipse cx="524.65" cy="382.04" rx="1.95" ry="2.67" fill="url(#gB)"/>
<ellipse cx="523.62" cy="378.66" rx="2.34" ry="2.02" fill="url(#gB)"/>
<ellipse cx="526.18" cy="377.57" rx="2.19" ry="2.33" fill="url(#gB)"/>
<ellipse cx="522.92" cy="376.83" rx="2.36" ry="2.36" fill="url(#gC2)"/>
<ellipse cx="525.46" cy="382.63" rx="2.63" ry="2.63" fill="url(#gC2)"/>
<ellipse cx="536.78" cy="376.52" rx="1.38" ry="1.38" fill="url(#gP)"/>
<ellipse cx="535.36" cy="380.06" rx="1.17" ry="1.17" fill="url(#gP)"/>
<ellipse cx="535.28" cy="379.79" rx="0.93" ry="0.93" fill="url(#gP)"/>
<ellipse cx="537.41" cy="375.78" rx="0.97" ry="0.97" fill="url(#gP)"/>
<ellipse cx="537.35" cy="382.72" rx="1.00" ry="1.00" fill="url(#gP)"/>
<ellipse cx="536.22" cy="380.89" rx="1.59" ry="1.59" fill="url(#gP)"/>
<ellipse cx="538.22" cy="378.78" rx="1.61" ry="1.61" fill="url(#gP)"/>
<ellipse cx="540.01" cy="380.86" rx="1.95" ry="1.79" fill="url(#gB)"/>
<ellipse cx="538.53" cy="380.88" rx="2.52" ry="1.83" fill="url(#gB)"/>
<ellipse cx="536.32" cy="378.33" rx="2.04" ry="2.23" fill="url(#gB)"/>
<ellipse cx="538.16" cy="379.99" rx="1.85" ry="2.37" fill="url(#gB)"/>
<ellipse cx="536.86" cy="380.49" rx="2.27" ry="2.12" fill="url(#gB)"/>
<ellipse cx="537.14" cy="383.10" rx="2.39" ry="1.90" fill="url(#gB)"/>
<ellipse cx="536.87" cy="379.00" rx="2.88" ry="2.88" fill="url(#gG2)"/>
<ellipse cx="539.23" cy="382.26" rx="2.63" ry="2.63" fill="url(#gG2)"/>
<ellipse cx="549.70" cy="383.24" rx="1.00" ry="1.00" fill="url(#gP)"/>
<ellipse cx="551.99" cy="375.20" rx="1.09" ry="1.09" fill="url(#gP)"/>
<ellipse cx="553.40" cy="376.34" rx="1.37" ry="1.37" fill="url(#gP)"/>
<ellipse cx="550.81" cy="378.57" rx="1.26" ry="1.26" fill="url(#gP)"/>
<ellipse cx="549.54" cy="382.03" rx="0.97" ry="0.97" fill="url(#gP)"/>
<ellipse cx="549.74" cy="374.60" rx="1.10" ry="1.10" fill="url(#gP)"/>
<ellipse cx="550.57" cy="382.69" rx="1.18" ry="1.18" fill="url(#gP)"/>
<ellipse cx="551.59" cy="380.01" rx="2.71" ry="1.70" fill="url(#gB)"/>
<ellipse cx="550.30" cy="377.67" rx="2.35" ry="2.00" fill="url(#gB)"/>
<ellipse cx="550.59" cy="376.82" rx="2.34" ry="2.61" fill="url(#gB)"/>
<ellipse cx="550.53" cy="378.46" rx="1.70" ry="2.66" fill="url(#gB)"/>
<ellipse cx="550.36" cy="379.09" rx="2.66" ry="2.26" fill="url(#gB)"/>
<ellipse cx="549.92" cy="377.55" rx="2.10" ry="2.10" fill="url(#gC2)"/>
<ellipse cx="564.78" cy="378.67" rx="1.01" ry="1.01" fill="url(#gP)"/>
<ellipse cx="566.71" cy="375.61" rx="1.27" ry="1.27" fill="url(#gP)"/>
<ellipse cx="566.87" cy="376.23" rx="1.31" ry="1.31" fill="url(#gP)"/>
<ellipse cx="565.52" cy="375.90" rx="1.18" ry="1.18" fill="url(#gP)"/>
<ellipse cx="565.93" cy="379.33" rx="1.43" ry="1.43" fill="url(#gP)"/>
<ellipse cx="563.32" cy="377.54" rx="0.99" ry="0.99" fill="url(#gP)"/>
<ellipse cx="564.99" cy="383.26" rx="1.33" ry="1.33" fill="url(#gP)"/>
<ellipse cx="565.11" cy="377.96" rx="2.44" ry="1.74" fill="url(#gB)"/>
<ellipse cx="564.58" cy="382.35" rx="2.42" ry="2.09" fill="url(#gB)"/>
<ellipse cx="565.63" cy="380.47" rx="1.86" ry="1.94" fill="url(#gB)"/>
<ellipse cx="565.20" cy="378.60" rx="2.59" ry="2.59" fill="url(#gB)"/>
<ellipse cx="565.88" cy="380.32" rx="2.17" ry="1.66" fill="url(#gB)"/>
<ellipse cx="563.87" cy="375.74" rx="2.10" ry="2.10" fill="url(#gC2)"/>
<ellipse cx="565.69" cy="380.81" rx="3.95" ry="3.95" fill="url(#gY2)"/>
<ellipse cx="566.05" cy="394.77" rx="0.54" ry="0.54" fill="url(#gP)"/>
<ellipse cx="579.77" cy="379.55" rx="1.33" ry="1.33" fill="url(#gP)"/>
<ellipse cx="578.18" cy="382.44" rx="1.50" ry="1.50" fill="url(#gP)"/>
<ellipse cx="580.13" cy="377.54" rx="1.28" ry="1.28" fill="url(#gP)"/>
<ellipse cx="578.71" cy="378.21" rx="1.60" ry="1.60" fill="url(#gP)"/>
<ellipse cx="581.62" cy="376.67" rx="1.53" ry="1.53" fill="url(#gP)"/>
<ellipse cx="579.91" cy="379.20" rx="1.11" ry="1.11" fill="url(#gP)"/>
<ellipse cx="580.22" cy="379.76" rx="1.40" ry="1.40" fill="url(#gP)"/>
<ellipse cx="579.20" cy="379.35" rx="2.47" ry="2.70" fill="url(#gB)"/>
<ellipse cx="580.68" cy="379.66" rx="1.68" ry="1.64" fill="url(#gB)"/>
<ellipse cx="580.89" cy="382.98" rx="1.96" ry="2.03" fill="url(#gB)"/>
<ellipse cx="580.09" cy="379.24" rx="2.23" ry="2.11" fill="url(#gB)"/>
<ellipse cx="579.46" cy="380.45" rx="2.36" ry="2.36" fill="url(#gC2)"/>
<ellipse cx="525.17" cy="432.69" rx="1.58" ry="1.58" fill="url(#gP)"/>
<ellipse cx="525.25" cy="432.39" rx="1.33" ry="1.33" fill="url(#gP)"/>
<ellipse cx="523.54" cy="432.41" rx="1.36" ry="1.36" fill="url(#gP)"/>
<ellipse cx="527.24" cy="429.98" rx="1.13" ry="1.13" fill="url(#gP)"/>
<ellipse cx="522.96" cy="434.15" rx="1.41" ry="1.41" fill="url(#gP)"/>
<ellipse cx="522.67" cy="435.16" rx="1.61" ry="1.61" fill="url(#gP)"/>
<ellipse cx="526.39" cy="433.02" rx="1.02" ry="1.02" fill="url(#gP)"/>
<ellipse cx="527.01" cy="432.49" rx="1.70" ry="1.84" fill="url(#gB)"/>
<ellipse cx="525.47" cy="432.66" rx="2.14" ry="2.11" fill="url(#gB)"/>
<ellipse cx="526.30" cy="431.06" rx="2.33" ry="2.17" fill="url(#gB)"/>
<ellipse cx="524.72" cy="431.15" rx="1.93" ry="2.72" fill="url(#gB)"/>
<ellipse cx="527.89" cy="432.28" rx="2.40" ry="1.97" fill="url(#gB)"/>
<ellipse cx="525.59" cy="433.38" rx="1.71" ry="2.46" fill="url(#gB)"/>
<ellipse cx="525.09" cy="433.07" rx="3.15" ry="3.15" fill="url(#gG2)"/>
<ellipse cx="538.35" cy="432.90" rx="1.39" ry="1.39" fill="url(#gP)"/>
<ellipse cx="536.33" cy="429.13" rx="1.18" ry="1.18" fill="url(#gP)"/>
<ellipse cx="537.13" cy="433.79" rx="1.41" ry="1.41" fill="url(#gP)"/>
<ellipse cx="539.12" cy="432.32" rx="1.39" ry="1.39" fill="url(#gP)"/>
<ellipse cx="536.35" cy="431.63" rx="1.02" ry="1.02" fill="url(#gP)"/>
<ellipse cx="540.98" cy="429.41" rx="1.50" ry="1.50" fill="url(#gP)"/>
<ellipse cx="535.92" cy="433.07" rx="1.15" ry="1.15" fill="url(#gP)"/>
<ellipse cx="536.49" cy="433.36" rx="1.65" ry="1.70" fill="url(#gB)"/>
<ellipse cx="539.81" cy="431.21" rx="1.73" ry="2.70" fill="url(#gB)"/>
<ellipse cx="539.09" cy="431.78" rx="2.09" ry="1.78" fill="url(#gB)"/>
<ellipse cx="537.83" cy="433.62" rx="1.81" ry="2.39" fill="url(#gB)"/>
<ellipse cx="539.24" cy="432.23" rx="2.52" ry="2.07" fill="url(#gB)"/>
<ellipse cx="537.02" cy="432.82" rx="2.15" ry="2.05" fill="url(#gB)"/>
<ellipse cx="538.51" cy="432.71" rx="3.15" ry="3.15" fill="url(#gG2)"/>
<ellipse cx="537.24" cy="428.00" rx="0.91" ry="0.91" fill="url(#gB)"/>
<ellipse cx="550.01" cy="433.43" rx="1.40" ry="1.40" fill="url(#gP)"/>
<ellipse cx="553.35" cy="430.51" rx="1.07" ry="1.07" fill="url(#gP)"/>
<ellipse cx="549.38" cy="430.74" rx="1.44" ry="1.44" fill="url(#gP)"/>
<ellipse cx="549.28" cy="432.53" rx="1.06" ry="1.06" fill="url(#gP)"/>
<ellipse cx="550.21" cy="431.95" rx="1.51" ry="1.51" fill="url(#gP)"/>
<ellipse cx="551.99" cy="429.51" rx="1.11" ry="1.11" fill="url(#gP)"/>
<ellipse cx="549.38" cy="434.51" rx="1.49" ry="1.49" fill="url(#gP)"/>
<ellipse cx="552.13" cy="430.12" rx="2.44" ry="2.66" fill="url(#gB)"/>
<ellipse cx="551.62" cy="431.40" rx="2.56" ry="2.16" fill="url(#gB)"/>
<ellipse cx="551.42" cy="430.71" rx="2.10" ry="2.03" fill="url(#gB)"/>
<ellipse cx="550.45" cy="432.82" rx="1.76" ry="2.52" fill="url(#gB)"/>
<ellipse cx="552.40" cy="428.82" rx="2.38" ry="2.23" fill="url(#gB)"/>
<ellipse cx="551.37" cy="431.66" rx="2.37" ry="2.11" fill="url(#gB)"/>
<ellipse cx="552.10" cy="433.07" rx="2.88" ry="2.88" fill="url(#gY2)"/>
<ellipse cx="563.29" cy="433.89" rx="1.38" ry="1.38" fill="url(#gP)"/>
<ellipse cx="568.37" cy="431.37" rx="1.09" ry="1.09" fill="url(#gP)"/>
<ellipse cx="567.11" cy="433.63" rx="1.13" ry="1.13" fill="url(#gP)"/>
<ellipse cx="566.81" cy="432.10" rx="1.47" ry="1.47" fill="url(#gP)"/>
<ellipse cx="563.36" cy="431.09" rx="1.56" ry="1.56" fill="url(#gP)"/>
<ellipse cx="564.82" cy="431.31" rx="1.49" ry="1.49" fill="url(#gP)"/>
<ellipse cx="566.49" cy="430.66" rx="1.31" ry="1.31" fill="url(#gP)"/>
<ellipse cx="565.29" cy="432.05" rx="2.34" ry="1.76" fill="url(#gB)"/>
<ellipse cx="565.41" cy="433.16" rx="1.85" ry="2.69" fill="url(#gB)"/>
<ellipse cx="562.50" cy="434.91" rx="2.11" ry="2.29" fill="url(#gB)"/>
<ellipse cx="567.03" cy="431.32" rx="1.75" ry="2.27" fill="url(#gB)"/>
<ellipse cx="565.15" cy="432.11" rx="1.73" ry="2.58" fill="url(#gB)"/>
<ellipse cx="564.86" cy="432.64" rx="2.12" ry="1.87" fill="url(#gB)"/>
<ellipse cx="566.41" cy="433.43" rx="3.15" ry="3.15" fill="url(#gG2)"/>
<ellipse cx="562.97" cy="429.45" rx="2.10" ry="2.10" fill="url(#gC2)"/>
<ellipse cx="582.31" cy="428.68" rx="1.44" ry="1.44" fill="url(#gP)"/>
<ellipse cx="577.05" cy="435.99" rx="0.92" ry="0.92" fill="url(#gP)"/>
<ellipse cx="581.75" cy="433.71" rx="1.53" ry="1.53" fill="url(#gP)"/>
<ellipse cx="582.54" cy="430.39" rx="1.15" ry="1.15" fill="url(#gP)"/>
<ellipse cx="580.64" cy="430.70" rx="1.10" ry="1.10" fill="url(#gP)"/>
<ellipse cx="577.51" cy="435.03" rx="1.54" ry="1.54" fill="url(#gP)"/>
<ellipse cx="581.22" cy="430.27" rx="1.58" ry="1.58" fill="url(#gP)"/>
<ellipse cx="579.35" cy="430.33" rx="1.24" ry="1.24" fill="url(#gP)"/>
<ellipse cx="578.79" cy="432.66" rx="2.25" ry="2.02" fill="url(#gB)"/>
<ellipse cx="576.44" cy="430.75" rx="2.33" ry="2.07" fill="url(#gB)"/>
<ellipse cx="582.18" cy="428.32" rx="2.16" ry="2.66" fill="url(#gB)"/>
<ellipse cx="580.02" cy="432.45" rx="1.82" ry="2.65" fill="url(#gB)"/>
<ellipse cx="578.49" cy="429.93" rx="1.94" ry="2.17" fill="url(#gB)"/>
<ellipse cx="579.75" cy="431.86" rx="1.76" ry="1.68" fill="url(#gB)"/>
<ellipse cx="576.72" cy="432.96" rx="2.23" ry="2.07" fill="url(#gB)"/>
<ellipse cx="579.82" cy="432.71" rx="2.88" ry="2.88" fill="url(#gG2)"/>
<ellipse cx="576.56" cy="430.71" rx="1.85" ry="1.85" fill="url(#gC2)"/>
<ellipse cx="556.99" cy="419.30" rx="0.72" ry="0.72" fill="url(#gP)"/>
<ellipse cx="522.74" cy="428.00" rx="0.72" ry="0.72" fill="url(#gP)"/>
<ellipse cx="524.49" cy="485.48" rx="1.21" ry="1.21" fill="url(#gP)"/>
<ellipse cx="525.09" cy="484.95" rx="1.38" ry="1.38" fill="url(#gP)"/>
<ellipse cx="523.78" cy="486.64" rx="0.91" ry="0.91" fill="url(#gP)"/>
<ellipse cx="524.08" cy="484.39" rx="1.01" ry="1.01" fill="url(#gP)"/>
<ellipse cx="527.15" cy="484.20" rx="1.48" ry="1.48" fill="url(#gP)"/>
<ellipse cx="528.63" cy="483.78" rx="1.55" ry="1.55" fill="url(#gP)"/>
<ellipse cx="527.60" cy="486.88" rx="0.93" ry="0.93" fill="url(#gP)"/>
<ellipse cx="525.16" cy="486.58" rx="1.12" ry="1.12" fill="url(#gP)"/>
<ellipse cx="525.66" cy="487.01" rx="1.91" ry="2.49" fill="url(#gB)"/>
<ellipse cx="524.58" cy="487.02" rx="2.33" ry="2.66" fill="url(#gB)"/>
<ellipse cx="525.34" cy="486.10" rx="2.69" ry="2.54" fill="url(#gB)"/>
<ellipse cx="525.90" cy="483.70" rx="1.89" ry="1.80" fill="url(#gB)"/>
<ellipse cx="524.92" cy="487.33" rx="1.70" ry="2.39" fill="url(#gB)"/>
<ellipse cx="525.42" cy="485.36" rx="2.55" ry="2.17" fill="url(#gB)"/>
<ellipse cx="526.89" cy="484.72" rx="2.50" ry="2.12" fill="url(#gB)"/>
<ellipse cx="525.64" cy="487.26" rx="3.41" ry="3.41" fill="url(#gY2)"/>
<ellipse cx="527.81" cy="471.85" rx="0.91" ry="0.91" fill="url(#gP)"/>
<ellipse cx="522.92" cy="482.00" rx="1.85" ry="1.85" fill="url(#gC2)"/>
<ellipse cx="538.30" cy="487.07" rx="1.60" ry="1.60" fill="url(#gP)"/>
<ellipse cx="536.68" cy="486.79" rx="1.42" ry="1.42" fill="url(#gP)"/>
<ellipse cx="539.27" cy="482.14" rx="0.93" ry="0.93" fill="url(#gP)"/>
<ellipse cx="537.34" cy="486.65" rx="1.09" ry="1.09" fill="url(#gP)"/>
<ellipse cx="538.15" cy="483.61" rx="1.52" ry="1.52" fill="url(#gP)"/>
<ellipse cx="541.24" cy="484.20" rx="1.63" ry="1.63" fill="url(#gP)"/>
<ellipse cx="535.10" cy="487.12" rx="1.54" ry="1.54" fill="url(#gP)"/>
<ellipse cx="535.71" cy="486.36" rx="1.31" ry="1.31" fill="url(#gP)"/>
<ellipse cx="539.10" cy="484.61" rx="2.22" ry="2.59" fill="url(#gB)"/>
<ellipse cx="537.34" cy="483.89" rx="1.72" ry="2.65" fill="url(#gB)"/>
<ellipse cx="533.35" cy="485.74" rx="1.79" ry="2.51" fill="url(#gB)"/>
<ellipse cx="539.41" cy="481.71" rx="1.65" ry="2.04" fill="url(#gB)"/>
<ellipse cx="540.44" cy="485.72" rx="2.02" ry="2.67" fill="url(#gB)"/>
<ellipse cx="536.38" cy="486.78" rx="2.57" ry="1.89" fill="url(#gB)"/>
<ellipse cx="534.73" cy="483.55" rx="2.20" ry="2.02" fill="url(#gB)"/>
<ellipse cx="538.51" cy="485.63" rx="3.41" ry="3.41" fill="url(#gG2)"/>
<ellipse cx="535.42" cy="482.73" rx="1.85" ry="1.85" fill="url(#gC2)"/>
<ellipse cx="549.29" cy="486.77" rx="1.15" ry="1.15" fill="url(#gP)"/>
<ellipse cx="549.40" cy="485.55" rx="1.26" ry="1.26" fill="url(#gP)"/>
<ellipse cx="551.24" cy="485.33" rx="1.10" ry="1.10" fill="url(#gP)"/>
<ellipse cx="549.77" cy="486.99" rx="1.14" ry="1.14" fill="url(#gP)"/>
<ellipse cx="552.51" cy="487.66" rx="1.53" ry="1.53" fill="url(#gP)"/>
<ellipse cx="554.27" cy="483.74" rx="1.08" ry="1.08" fill="url(#gP)"/>
<ellipse cx="552.90" cy="486.16" rx="1.05" ry="1.05" fill="url(#gP)"/>
<ellipse cx="552.53" cy="488.27" rx="1.51" ry="1.51" fill="url(#gP)"/>
<ellipse cx="551.61" cy="486.89" rx="1.64" ry="2.69" fill="url(#gB)"/>
<ellipse cx="551.78" cy="488.07" rx="2.22" ry="2.28" fill="url(#gB)"/>
<ellipse cx="548.87" cy="485.14" rx="2.28" ry="1.96" fill="url(#gB)"/>
<ellipse cx="552.54" cy="486.78" rx="2.63" ry="1.79" fill="url(#gB)"/>
<ellipse cx="550.60" cy="483.63" rx="1.81" ry="1.86" fill="url(#gB)"/>
<ellipse cx="550.80" cy="484.11" rx="2.07" ry="2.15" fill="url(#gB)"/>
<ellipse cx="553.08" cy="487.05" rx="2.27" ry="2.21" fill="url(#gB)"/>
<ellipse cx="551.74" cy="486.71" rx="3.41" ry="3.41" fill="url(#gY2)"/>
<ellipse cx="565.65" cy="488.13" rx="1.28" ry="1.28" fill="url(#gP)"/>
<ellipse cx="564.50" cy="485.19" rx="1.63" ry="1.63" fill="url(#gP)"/>
<ellipse cx="562.95" cy="483.35" rx="1.10" ry="1.10" fill="url(#gP)"/>
<ellipse cx="562.75" cy="484.69" rx="1.10" ry="1.10" fill="url(#gP)"/>
<ellipse cx="561.69" cy="484.68" rx="1.13" ry="1.13" fill="url(#gP)"/>
<ellipse cx="564.90" cy="483.75" rx="0.96" ry="0.96" fill="url(#gP)"/>
<ellipse cx="562.35" cy="486.31" rx="1.19" ry="1.19" fill="url(#gP)"/>
<ellipse cx="566.04" cy="488.26" rx="1.21" ry="1.21" fill="url(#gP)"/>
<ellipse cx="566.32" cy="487.53" rx="2.45" ry="2.06" fill="url(#gB)"/>
<ellipse cx="563.75" cy="484.84" rx="2.63" ry="2.54" fill="url(#gB)"/>
<ellipse cx="565.35" cy="482.08" rx="1.88" ry="2.22" fill="url(#gB)"/>
<ellipse cx="564.11" cy="483.08" rx="2.06" ry="1.78" fill="url(#gB)"/>
<ellipse cx="563.94" cy="485.44" rx="2.40" ry="1.64" fill="url(#gB)"/>
<ellipse cx="562.83" cy="486.51" rx="1.76" ry="2.15" fill="url(#gB)"/>
<ellipse cx="563.03" cy="485.99" rx="2.61" ry="2.57" fill="url(#gB)"/>
<ellipse cx="564.96" cy="487.80" rx="3.68" ry="3.68" fill="url(#gY2)"/>
<ellipse cx="562.42" cy="482.73" rx="2.10" ry="2.10" fill="url(#gC2)"/>
<ellipse cx="568.40" cy="472.40" rx="0.72" ry="0.72" fill="url(#gP)"/>
<ellipse cx="556.62" cy="471.49" rx="0.54" ry="0.54" fill="url(#gP)"/>
<ellipse cx="581.74" cy="487.49" rx="1.46" ry="1.46" fill="url(#gP)"/>
<ellipse cx="581.73" cy="484.47" rx="1.37" ry="1.37" fill="url(#gP)"/>
<ellipse cx="581.73" cy="488.81" rx="1.32" ry="1.32" fill="url(#gP)"/>
<ellipse cx="576.61" cy="485.54" rx="1.63" ry="1.63" fill="url(#gP)"/>
<ellipse cx="576.15" cy="484.89" rx="1.59" ry="1.59" fill="url(#gP)"/>
<ellipse cx="578.56" cy="484.10" rx="1.14" ry="1.14" fill="url(#gP)"/>
<ellipse cx="581.76" cy="485.00" rx="1.22" ry="1.22" fill="url(#gP)"/>
<ellipse cx="579.80" cy="488.33" rx="1.26" ry="1.26" fill="url(#gP)"/>
<ellipse cx="580.56" cy="487.15" rx="1.67" ry="1.73" fill="url(#gB)"/>
<ellipse cx="579.73" cy="488.37" rx="1.94" ry="2.38" fill="url(#gB)"/>
<ellipse cx="579.29" cy="486.83" rx="1.66" ry="2.40" fill="url(#gB)"/>
<ellipse cx="579.56" cy="485.33" rx="1.89" ry="1.65" fill="url(#gB)"/>
<ellipse cx="578.16" cy="485.14" rx="1.78" ry="2.33" fill="url(#gB)"/>
<ellipse cx="577.64" cy="485.19" rx="1.80" ry="2.33" fill="url(#gB)"/>
<ellipse cx="577.46" cy="485.61" rx="1.81" ry="2.64" fill="url(#gB)"/>
<ellipse cx="579.46" cy="487.08" rx="3.41" ry="3.41" fill="url(#gY2)"/>
<ellipse cx="582.00" cy="473.30" rx="0.72" ry="0.72" fill="url(#gP)"/>
<ellipse cx="594.38" cy="330.68" rx="1.37" ry="1.37" fill="url(#gP)"/>
<ellipse cx="596.02" cy="325.54" rx="1.48" ry="1.48" fill="url(#gP)"/>
<ellipse cx="597.74" cy="328.76" rx="1.27" ry="1.27" fill="url(#gP)"/>
<ellipse cx="594.75" cy="323.24" rx="1.18" ry="1.18" fill="url(#gP)"/>
<ellipse cx="596.58" cy="323.95" rx="1.48" ry="1.48" fill="url(#gP)"/>
<ellipse cx="594.73" cy="325.72" rx="0.94" ry="0.94" fill="url(#gP)"/>
<ellipse cx="598.73" cy="331.21" rx="1.54" ry="1.54" fill="url(#gP)"/>
<ellipse cx="596.74" cy="323.57" rx="1.14" ry="1.14" fill="url(#gP)"/>
<ellipse cx="595.59" cy="328.64" rx="1.96" ry="1.54" fill="url(#gB)"/>
<ellipse cx="597.26" cy="332.21" rx="1.36" ry="1.94" fill="url(#gB)"/>
<ellipse cx="594.81" cy="329.49" rx="1.52" ry="1.62" fill="url(#gB)"/>
<ellipse cx="595.04" cy="325.00" rx="2.36" ry="2.36" fill="url(#gC2)"/>
<ellipse cx="596.49" cy="331.52" rx="1.81" ry="1.81" fill="url(#gB)"/>
<ellipse cx="612.48" cy="324.36" rx="0.92" ry="0.92" fill="url(#gP)"/>
<ellipse cx="612.69" cy="324.84" rx="0.99" ry="0.99" fill="url(#gP)"/>
<ellipse cx="610.88" cy="326.59" rx="1.55" ry="1.55" fill="url(#gP)"/>
<ellipse cx="608.69" cy="333.24" rx="1.14" ry="1.14" fill="url(#gP)"/>
<ellipse cx="610.61" cy="332.94" rx="1.40" ry="1.40" fill="url(#gP)"/>
<ellipse cx="612.30" cy="330.51" rx="0.94" ry="0.94" fill="url(#gP)"/>
<ellipse cx="612.08" cy="329.23" rx="1.13" ry="1.13" fill="url(#gP)"/>
<ellipse cx="608.47" cy="332.05" rx="1.33" ry="1.33" fill="url(#gP)"/>
<ellipse cx="611.82" cy="326.71" rx="1.97" ry="1.68" fill="url(#gB)"/>
<ellipse cx="609.61" cy="325.18" rx="1.46" ry="1.96" fill="url(#gB)"/>
<ellipse cx="609.36" cy="332.05" rx="1.96" ry="1.74" fill="url(#gB)"/>
<ellipse cx="607.91" cy="325.00" rx="2.88" ry="2.88" fill="url(#gG2)"/>
<ellipse cx="611.90" cy="330.43" rx="1.81" ry="1.81" fill="url(#gB)"/>
<ellipse cx="626.63" cy="333.13" rx="1.55" ry="1.55" fill="url(#gP)"/>
<ellipse cx="621.50" cy="328.97" rx="1.21" ry="1.21" fill="url(#gP)"/>
<ellipse cx="624.22" cy="323.58" rx="1.05" ry="1.05" fill="url(#gP)"/>
<ellipse cx="623.70" cy="324.64" rx="1.24" ry="1.24" fill="url(#gP)"/>
<ellipse cx="621.15" cy="323.06" rx="1.42" ry="1.42" fill="url(#gP)"/>
<ellipse cx="623.56" cy="328.04" rx="1.44" ry="1.44" fill="url(#gP)"/>
<ellipse cx="623.18" cy="322.73" rx="1.47" ry="1.47" fill="url(#gP)"/>
<ellipse cx="624.58" cy="329.74" rx="1.36" ry="1.36" fill="url(#gP)"/>
<ellipse cx="625.22" cy="327.46" rx="2.46" ry="2.03" fill="url(#gB)"/>
<ellipse cx="622.36" cy="326.26" rx="1.97" ry="1.72" fill="url(#gB)"/>
<ellipse cx="622.05" cy="328.55" rx="2.27" ry="2.12" fill="url(#gB)"/>
<ellipse cx="623.54" cy="326.64" rx="1.83" ry="1.98" fill="url(#gB)"/>
<ellipse cx="624.38" cy="326.36" rx="1.76" ry="1.74" fill="url(#gB)"/>
<ellipse cx="625.03" cy="328.39" rx="2.25" ry="2.52" fill="url(#gB)"/>
<ellipse cx="622.05" cy="324.63" rx="3.15" ry="3.15" fill="url(#gY2)"/>
<ellipse cx="625.13" cy="329.71" rx="2.63" ry="2.63" fill="url(#gC2)"/>
<ellipse cx="638.92" cy="331.58" rx="1.04" ry="1.04" fill="url(#gP)"/>
<ellipse cx="640.41" cy="324.58" rx="1.39" ry="1.39" fill="url(#gP)"/>
<ellipse cx="635.68" cy="330.69" rx="1.02" ry="1.02" fill="url(#gP)"/>
<ellipse cx="638.89" cy="330.33" rx="1.46" ry="1.46" fill="url(#gP)"/>
<ellipse cx="637.51" cy="331.86" rx="1.62" ry="1.62" fill="url(#gP)"/>
<ellipse cx="635.81" cy="328.08" rx="1.60" ry="1.60" fill="url(#gP)"/>
<ellipse cx="639.06" cy="327.29" rx="1.13" ry="1.13" fill="url(#gP)"/>
<ellipse cx="640.18" cy="323.40" rx="1.46" ry="1.46" fill="url(#gP)"/>
<ellipse cx="638.17" cy="326.75" rx="1.51" ry="1.49" fill="url(#gB)"/>
<ellipse cx="636.81" cy="327.31" rx="1.92" ry="1.94" fill="url(#gB)"/>
<ellipse cx="636.88" cy="332.47" rx="1.32" ry="1.34" fill="url(#gB)"/>
<ellipse cx="636.36" cy="324.63" rx="2.88" ry="2.88" fill="url(#gG2)"/>
<ellipse cx="639.26" cy="330.43" rx="1.63" ry="1.63" fill="url(#gB)"/>
<ellipse cx="649.86" cy="333.97" rx="1.52" ry="1.52" fill="url(#gP)"/>
<ellipse cx="649.01" cy="333.37" rx="1.37" ry="1.37" fill="url(#gP)"/>
<ellipse cx="648.11" cy="334.25" rx="1.09" ry="1.09" fill="url(#gP)"/>
<ellipse cx="649.49" cy="328.52" rx="1.33" ry="1.33" fill="url(#gP)"/>
<ellipse cx="648.54" cy="331.37" rx="1.51" ry="1.51" fill="url(#gP)"/>
<ellipse cx="650.56" cy="332.54" rx="1.36" ry="1.36" fill="url(#gP)"/>
<ellipse cx="652.19" cy="325.89" rx="1.17" ry="1.17" fill="url(#gP)"/>
<ellipse cx="650.00" cy="329.56" rx="1.97" ry="1.73" fill="url(#gB)"/>
<ellipse cx="651.67" cy="331.15" rx="1.57" ry="1.41" fill="url(#gB)"/>
<ellipse cx="651.14" cy="331.56" rx="1.32" ry="1.68" fill="url(#gB)"/>
<ellipse cx="648.51" cy="325.90" rx="2.88" ry="3.15" fill="url(#gG2)"/>
<ellipse cx="651.95" cy="333.33" rx="1.63" ry="1.63" fill="url(#gB)"/>
<ellipse cx="597.89" cy="377.97" rx="1.05" ry="1.05" fill="url(#gP)"/>
<ellipse cx="597.06" cy="376.76" rx="1.47" ry="1.47" fill="url(#gP)"/>
<ellipse cx="597.99" cy="376.63" rx="1.40" ry="1.40" fill="url(#gP)"/>
<ellipse cx="596.51" cy="381.58" rx="1.60" ry="1.60" fill="url(#gP)"/>
<ellipse cx="599.25" cy="379.69" rx="1.52" ry="1.52" fill="url(#gP)"/>
<ellipse cx="598.11" cy="384.38" rx="0.93" ry="0.93" fill="url(#gP)"/>
<ellipse cx="598.97" cy="378.14" rx="1.00" ry="1.00" fill="url(#gP)"/>
<ellipse cx="594.65" cy="378.46" rx="2.67" ry="2.03" fill="url(#gB)"/>
<ellipse cx="596.63" cy="380.05" rx="2.68" ry="1.95" fill="url(#gB)"/>
<ellipse cx="595.91" cy="380.20" rx="1.68" ry="1.64" fill="url(#gB)"/>
<ellipse cx="595.27" cy="379.08" rx="2.52" ry="2.56" fill="url(#gB)"/>
<ellipse cx="596.49" cy="382.63" rx="3.68" ry="3.68" fill="url(#gG2)"/>
<ellipse cx="594.68" cy="376.65" rx="2.10" ry="2.10" fill="url(#gC2)"/>
<ellipse cx="601.57" cy="368.49" rx="0.54" ry="0.54" fill="url(#gP)"/>
<ellipse cx="611.77" cy="380.85" rx="1.60" ry="1.60" fill="url(#gP)"/>
<ellipse cx="609.41" cy="375.02" rx="1.50" ry="1.50" fill="url(#gP)"/>
<ellipse cx="610.12" cy="377.83" rx="1.50" ry="1.50" fill="url(#gP)"/>
<ellipse cx="609.34" cy="382.76" rx="1.26" ry="1.26" fill="url(#gP)"/>
<ellipse cx="608.75" cy="382.83" rx="1.32" ry="1.32" fill="url(#gP)"/>
<ellipse cx="608.79" cy="382.11" rx="1.47" ry="1.47" fill="url(#gP)"/>
<ellipse cx="612.25" cy="380.45" rx="1.63" ry="1.63" fill="url(#gP)"/>
<ellipse cx="613.93" cy="379.41" rx="2.33" ry="1.91" fill="url(#gB)"/>
<ellipse cx="610.24" cy="377.83" rx="2.34" ry="2.40" fill="url(#gB)"/>
<ellipse cx="610.50" cy="378.86" rx="2.06" ry="1.96" fill="url(#gB)"/>
<ellipse cx="610.98" cy="374.39" rx="2.47" ry="2.21" fill="url(#gB)"/>
<ellipse cx="610.27" cy="375.74" rx="3.15" ry="2.63" fill="url(#gG2)"/>
<ellipse cx="611.72" cy="381.18" rx="3.68" ry="3.15" fill="url(#gG2)"/>
<ellipse cx="614.62" cy="367.58" rx="0.54" ry="0.54" fill="url(#gP)"/>
<ellipse cx="622.02" cy="375.56" rx="1.34" ry="1.34" fill="url(#gP)"/>
<ellipse cx="622.36" cy="375.57" rx="1.24" ry="1.24" fill="url(#gP)"/>
<ellipse cx="623.61" cy="376.25" rx="1.19" ry="1.19" fill="url(#gP)"/>
<ellipse cx="625.83" cy="375.56" rx="1.04" ry="1.04" fill="url(#gP)"/>
<ellipse cx="621.58" cy="376.47" rx="0.97" ry="0.97" fill="url(#gP)"/>
<ellipse cx="626.57" cy="377.09" rx="1.62" ry="1.62" fill="url(#gP)"/>
<ellipse cx="622.11" cy="382.01" rx="1.27" ry="1.27" fill="url(#gP)"/>
<ellipse cx="623.46" cy="376.15" rx="1.93" ry="1.88" fill="url(#gB)"/>
<ellipse cx="623.79" cy="377.77" rx="1.65" ry="2.47" fill="url(#gB)"/>
<ellipse cx="623.47" cy="377.59" rx="2.20" ry="2.62" fill="url(#gB)"/>
<ellipse cx="623.94" cy="379.56" rx="2.08" ry="1.81" fill="url(#gB)"/>
<ellipse cx="622.59" cy="375.74" rx="2.36" ry="2.36" fill="url(#gC2)"/>
<ellipse cx="624.77" cy="380.45" rx="3.15" ry="3.15" fill="url(#gG2)"/>
<ellipse cx="637.68" cy="377.95" rx="1.52" ry="1.52" fill="url(#gP)"/>
<ellipse cx="636.44" cy="379.46" rx="1.16" ry="1.16" fill="url(#gP)"/>
<ellipse cx="637.05" cy="383.71" rx="0.98" ry="0.98" fill="url(#gP)"/>
<ellipse cx="637.19" cy="376.84" rx="1.16" ry="1.16" fill="url(#gP)"/>
<ellipse cx="639.84" cy="377.80" rx="1.35" ry="1.35" fill="url(#gP)"/>
<ellipse cx="637.07" cy="381.48" rx="1.23" ry="1.23" fill="url(#gP)"/>
<ellipse cx="635.87" cy="378.76" rx="1.20" ry="1.20" fill="url(#gP)"/>
<ellipse cx="637.79" cy="376.89" rx="1.84" ry="2.36" fill="url(#gB)"/>
<ellipse cx="637.09" cy="381.64" rx="1.87" ry="2.08" fill="url(#gB)"/>
<ellipse cx="637.72" cy="377.02" rx="2.45" ry="2.45" fill="url(#gB)"/>
<ellipse cx="636.23" cy="377.87" rx="2.06" ry="2.30" fill="url(#gB)"/>
<ellipse cx="636.36" cy="375.74" rx="2.88" ry="2.63" fill="url(#gG2)"/>
<ellipse cx="638.18" cy="382.26" rx="2.63" ry="2.63" fill="url(#gC2)"/>
<ellipse cx="651.41" cy="378.70" rx="0.93" ry="0.93" fill="url(#gP)"/>
<ellipse cx="651.96" cy="377.91" rx="1.09" ry="1.09" fill="url(#gP)"/>
<ellipse cx="650.73" cy="382.23" rx="1.62" ry="1.62" fill="url(#gP)"/>
<ellipse cx="651.04" cy="385.75" rx="1.63" ry="1.63" fill="url(#gP)"/>
<ellipse cx="649.99" cy="376.54" rx="1.02" ry="1.02" fill="url(#gP)"/>
<ellipse cx="652.86" cy="381.81" rx="1.57" ry="1.57" fill="url(#gP)"/>
<ellipse cx="653.48" cy="382.36" rx="1.29" ry="1.29" fill="url(#gP)"/>
<ellipse cx="651.42" cy="381.01" rx="2.51" ry="2.36" fill="url(#gB)"/>
<ellipse cx="651.33" cy="378.01" rx="2.36" ry="2.33" fill="url(#gB)"/>
<ellipse cx="651.61" cy="380.17" rx="2.17" ry="1.97" fill="url(#gB)"/>
<ellipse cx="652.20" cy="376.90" rx="1.91" ry="1.72" fill="url(#gB)"/>
<ellipse cx="650.14" cy="377.19" rx="3.15" ry="3.15" fill="url(#gG2)"/>
<ellipse cx="652.31" cy="384.80" rx="2.63" ry="2.63" fill="url(#gC2)"/>
<ellipse cx="594.46" cy="429.80" rx="1.19" ry="1.19" fill="url(#gP)"/>
<ellipse cx="598.26" cy="430.00" rx="0.99" ry="0.99" fill="url(#gP)"/>
<ellipse cx="595.70" cy="434.64" rx="1.01" ry="1.01" fill="url(#gP)"/>
<ellipse cx="598.58" cy="433.92" rx="1.01" ry="1.01" fill="url(#gP)"/>
<ellipse cx="597.42" cy="432.32" rx="1.21" ry="1.21" fill="url(#gP)"/>
<ellipse cx="600.03" cy="429.66" rx="0.92" ry="0.92" fill="url(#gP)"/>
<ellipse cx="599.71" cy="431.98" rx="1.05" ry="1.05" fill="url(#gP)"/>
<ellipse cx="596.68" cy="434.07" rx="2.67" ry="1.86" fill="url(#gB)"/>
<ellipse cx="597.54" cy="434.82" rx="2.23" ry="2.67" fill="url(#gB)"/>
<ellipse cx="597.80" cy="431.41" rx="1.85" ry="2.54" fill="url(#gB)"/>
<ellipse cx="597.51" cy="432.68" rx="2.43" ry="2.58" fill="url(#gB)"/>
<ellipse cx="596.74" cy="431.78" rx="2.50" ry="2.42" fill="url(#gB)"/>
<ellipse cx="597.58" cy="434.52" rx="3.41" ry="3.41" fill="url(#gG2)"/>
<ellipse cx="595.77" cy="429.81" rx="2.10" ry="2.10" fill="url(#gC2)"/>
<ellipse cx="601.02" cy="419.84" rx="0.54" ry="0.54" fill="url(#gP)"/>
<ellipse cx="608.42" cy="429.23" rx="1.13" ry="1.13" fill="url(#gP)"/>
<ellipse cx="612.72" cy="431.59" rx="1.43" ry="1.43" fill="url(#gP)"/>
<ellipse cx="608.54" cy="431.69" rx="1.52" ry="1.52" fill="url(#gP)"/>
<ellipse cx="610.75" cy="435.33" rx="1.55" ry="1.55" fill="url(#gP)"/>
<ellipse cx="609.96" cy="427.46" rx="1.45" ry="1.45" fill="url(#gP)"/>
<ellipse cx="608.68" cy="427.53" rx="1.44" ry="1.44" fill="url(#gP)"/>
<ellipse cx="612.42" cy="434.43" rx="1.60" ry="1.60" fill="url(#gP)"/>
<ellipse cx="610.76" cy="432.33" rx="1.76" ry="2.69" fill="url(#gB)"/>
<ellipse cx="611.12" cy="432.31" rx="1.65" ry="1.68" fill="url(#gB)"/>
<ellipse cx="611.62" cy="432.02" rx="1.81" ry="1.97" fill="url(#gB)"/>
<ellipse cx="611.22" cy="431.15" rx="2.52" ry="2.43" fill="url(#gB)"/>
<ellipse cx="609.34" cy="430.63" rx="2.47" ry="2.27" fill="url(#gB)"/>
<ellipse cx="610.63" cy="432.71" rx="3.41" ry="3.41" fill="url(#gG2)"/>
<ellipse cx="609.18" cy="428.00" rx="2.36" ry="2.36" fill="url(#gC2)"/>
<ellipse cx="614.25" cy="418.93" rx="0.54" ry="0.54" fill="url(#gP)"/>
<ellipse cx="624.98" cy="432.25" rx="1.50" ry="1.50" fill="url(#gP)"/>
<ellipse cx="623.32" cy="432.40" rx="1.55" ry="1.55" fill="url(#gP)"/>
<ellipse cx="626.90" cy="428.91" rx="1.38" ry="1.38" fill="url(#gP)"/>
<ellipse cx="625.25" cy="431.28" rx="1.61" ry="1.61" fill="url(#gP)"/>
<ellipse cx="624.74" cy="430.85" rx="1.59" ry="1.59" fill="url(#gP)"/>
<ellipse cx="625.35" cy="429.77" rx="1.13" ry="1.13" fill="url(#gP)"/>
<ellipse cx="624.56" cy="427.90" rx="1.35" ry="1.35" fill="url(#gP)"/>
<ellipse cx="624.47" cy="429.55" rx="2.55" ry="2.64" fill="url(#gB)"/>
<ellipse cx="622.91" cy="430.41" rx="1.76" ry="1.69" fill="url(#gB)"/>
<ellipse cx="625.54" cy="431.09" rx="1.86" ry="2.61" fill="url(#gB)"/>
<ellipse cx="624.58" cy="430.42" rx="1.98" ry="1.89" fill="url(#gB)"/>
<ellipse cx="624.56" cy="431.44" rx="2.20" ry="1.96" fill="url(#gB)"/>
<ellipse cx="624.95" cy="432.71" rx="3.68" ry="3.68" fill="url(#gG2)"/>
<ellipse cx="622.77" cy="428.00" rx="2.63" ry="2.63" fill="url(#gG2)"/>
<ellipse cx="628.75" cy="418.03" rx="0.54" ry="0.54" fill="url(#gP)"/>
<ellipse cx="637.96" cy="433.13" rx="1.52" ry="1.52" fill="url(#gP)"/>
<ellipse cx="639.89" cy="435.85" rx="1.17" ry="1.17" fill="url(#gP)"/>
<ellipse cx="640.16" cy="431.65" rx="1.13" ry="1.13" fill="url(#gP)"/>
<ellipse cx="635.70" cy="432.45" rx="1.02" ry="1.02" fill="url(#gP)"/>
<ellipse cx="636.63" cy="433.36" rx="1.47" ry="1.47" fill="url(#gP)"/>
<ellipse cx="639.13" cy="428.55" rx="0.95" ry="0.95" fill="url(#gP)"/>
<ellipse cx="636.54" cy="432.82" rx="1.51" ry="1.51" fill="url(#gP)"/>
<ellipse cx="638.60" cy="427.93" rx="2.27" ry="2.32" fill="url(#gB)"/>
<ellipse cx="637.57" cy="434.02" rx="1.86" ry="2.21" fill="url(#gB)"/>
<ellipse cx="636.70" cy="430.72" rx="2.06" ry="2.09" fill="url(#gB)"/>
<ellipse cx="637.83" cy="436.01" rx="2.26" ry="2.45" fill="url(#gB)"/>
<ellipse cx="638.15" cy="430.85" rx="1.76" ry="1.94" fill="url(#gB)"/>
<ellipse cx="638.18" cy="433.43" rx="3.41" ry="3.41" fill="url(#gY2)"/>
<ellipse cx="636.91" cy="428.00" rx="2.88" ry="2.88" fill="url(#gG2)"/>
<ellipse cx="638.18" cy="437.42" rx="1.58" ry="1.58" fill="url(#gC2)"/>
<ellipse cx="651.50" cy="435.88" rx="1.45" ry="1.45" fill="url(#gP)"/>
<ellipse cx="653.29" cy="432.01" rx="1.61" ry="1.61" fill="url(#gP)"/>
<ellipse cx="651.60" cy="435.86" rx="1.45" ry="1.45" fill="url(#gP)"/>
<ellipse cx="653.65" cy="431.91" rx="1.17" ry="1.17" fill="url(#gP)"/>
<ellipse cx="652.45" cy="434.51" rx="1.45" ry="1.45" fill="url(#gP)"/>
<ellipse cx="650.46" cy="437.59" rx="0.91" ry="0.91" fill="url(#gP)"/>
<ellipse cx="652.48" cy="432.75" rx="0.92" ry="0.92" fill="url(#gP)"/>
<ellipse cx="651.05" cy="433.27" rx="1.89" ry="1.98" fill="url(#gB)"/>
<ellipse cx="651.61" cy="434.70" rx="1.71" ry="2.55" fill="url(#gB)"/>
<ellipse cx="651.83" cy="434.33" rx="1.71" ry="2.62" fill="url(#gB)"/>
<ellipse cx="649.12" cy="432.84" rx="2.69" ry="2.17" fill="url(#gB)"/>
<ellipse cx="650.30" cy="434.90" rx="1.92" ry="2.28" fill="url(#gB)"/>
<ellipse cx="652.49" cy="436.33" rx="3.41" ry="3.41" fill="url(#gG2)"/>
<ellipse cx="649.05" cy="430.90" rx="2.36" ry="2.36" fill="url(#gC2)"/>
<ellipse cx="596.46" cy="489.57" rx="1.60" ry="1.60" fill="url(#gP)"/>
<ellipse cx="600.31" cy="488.28" rx="1.54" ry="1.54" fill="url(#gP)"/>
<ellipse cx="594.32" cy="487.20" rx="1.09" ry="1.09" fill="url(#gP)"/>
<ellipse cx="599.08" cy="485.90" rx="1.31" ry="1.31" fill="url(#gP)"/>
<ellipse cx="597.86" cy="486.86" rx="1.51" ry="1.51" fill="url(#gP)"/>
<ellipse cx="600.72" cy="485.32" rx="1.49" ry="1.49" fill="url(#gP)"/>
<ellipse cx="600.12" cy="485.63" rx="1.00" ry="1.00" fill="url(#gP)"/>
<ellipse cx="595.27" cy="486.39" rx="2.20" ry="1.83" fill="url(#gB)"/>
<ellipse cx="597.25" cy="485.12" rx="2.59" ry="1.81" fill="url(#gB)"/>
<ellipse cx="596.47" cy="485.55" rx="2.70" ry="1.78" fill="url(#gB)"/>
<ellipse cx="598.61" cy="485.32" rx="2.04" ry="1.86" fill="url(#gB)"/>
<ellipse cx="594.45" cy="486.46" rx="2.72" ry="2.65" fill="url(#gB)"/>
<ellipse cx="596.82" cy="485.67" rx="2.18" ry="2.34" fill="url(#gB)"/>
<ellipse cx="597.94" cy="487.44" rx="3.95" ry="3.95" fill="url(#gY2)"/>
<ellipse cx="600.48" cy="472.40" rx="0.72" ry="0.72" fill="url(#gP)"/>
<ellipse cx="612.46" cy="483.26" rx="1.35" ry="1.35" fill="url(#gP)"/>
<ellipse cx="613.44" cy="488.22" rx="1.28" ry="1.28" fill="url(#gP)"/>
<ellipse cx="612.15" cy="485.12" rx="1.29" ry="1.29" fill="url(#gP)"/>
<ellipse cx="608.97" cy="487.21" rx="1.34" ry="1.34" fill="url(#gP)"/>
<ellipse cx="610.03" cy="485.18" rx="1.44" ry="1.44" fill="url(#gP)"/>
<ellipse cx="611.01" cy="489.05" rx="1.61" ry="1.61" fill="url(#gP)"/>
<ellipse cx="613.41" cy="483.26" rx="0.96" ry="0.96" fill="url(#gP)"/>
<ellipse cx="611.07" cy="487.32" rx="2.40" ry="2.53" fill="url(#gB)"/>
<ellipse cx="609.68" cy="485.19" rx="2.25" ry="1.67" fill="url(#gB)"/>
<ellipse cx="610.49" cy="485.82" rx="2.08" ry="1.64" fill="url(#gB)"/>
<ellipse cx="609.80" cy="483.35" rx="1.71" ry="2.26" fill="url(#gB)"/>
<ellipse cx="612.52" cy="486.19" rx="1.80" ry="2.57" fill="url(#gB)"/>
<ellipse cx="610.98" cy="482.93" rx="1.87" ry="2.41" fill="url(#gB)"/>
<ellipse cx="611.54" cy="487.08" rx="3.41" ry="3.41" fill="url(#gG2)"/>
<ellipse cx="613.71" cy="471.49" rx="0.54" ry="0.54" fill="url(#gP)"/>
<ellipse cx="626.46" cy="483.89" rx="1.43" ry="1.43" fill="url(#gP)"/>
<ellipse cx="622.47" cy="486.35" rx="1.18" ry="1.18" fill="url(#gP)"/>
<ellipse cx="626.24" cy="481.51" rx="1.16" ry="1.16" fill="url(#gP)"/>
<ellipse cx="623.87" cy="482.97" rx="1.43" ry="1.43" fill="url(#gP)"/>
<ellipse cx="625.30" cy="488.78" rx="1.33" ry="1.33" fill="url(#gP)"/>
<ellipse cx="623.56" cy="485.57" rx="1.29" ry="1.29" fill="url(#gP)"/>
<ellipse cx="622.99" cy="484.78" rx="0.91" ry="0.91" fill="url(#gP)"/>
<ellipse cx="624.22" cy="486.29" rx="2.38" ry="2.67" fill="url(#gB)"/>
<ellipse cx="625.25" cy="484.24" rx="2.15" ry="1.90" fill="url(#gB)"/>
<ellipse cx="625.44" cy="480.32" rx="1.73" ry="2.47" fill="url(#gB)"/>
<ellipse cx="625.24" cy="485.76" rx="2.12" ry="2.09" fill="url(#gB)"/>
<ellipse cx="625.22" cy="486.06" rx="2.10" ry="2.38" fill="url(#gB)"/>
<ellipse cx="626.21" cy="486.19" rx="1.89" ry="2.42" fill="url(#gB)"/>
<ellipse cx="625.52" cy="487.81" rx="1.66" ry="2.56" fill="url(#gB)"/>
<ellipse cx="625.85" cy="486.35" rx="3.41" ry="3.41" fill="url(#gG2)"/>
<ellipse cx="624.58" cy="479.46" rx="2.36" ry="2.36" fill="url(#gC2)"/>
<ellipse cx="637.24" cy="484.67" rx="1.05" ry="1.05" fill="url(#gP)"/>
<ellipse cx="638.54" cy="486.15" rx="1.37" ry="1.37" fill="url(#gP)"/>
<ellipse cx="637.56" cy="484.43" rx="1.04" ry="1.04" fill="url(#gP)"/>
<ellipse cx="641.45" cy="483.91" rx="1.55" ry="1.55" fill="url(#gP)"/>
<ellipse cx="636.30" cy="481.53" rx="1.21" ry="1.21" fill="url(#gP)"/>
<ellipse cx="638.72" cy="487.73" rx="1.53" ry="1.53" fill="url(#gP)"/>
<ellipse cx="639.36" cy="483.96" rx="1.43" ry="1.43" fill="url(#gP)"/>
<ellipse cx="638.18" cy="485.97" rx="1.98" ry="1.63" fill="url(#gB)"/>
<ellipse cx="639.15" cy="485.09" rx="1.84" ry="2.30" fill="url(#gB)"/>
<ellipse cx="637.79" cy="483.90" rx="2.32" ry="2.50" fill="url(#gB)"/>
<ellipse cx="642.84" cy="484.01" rx="2.05" ry="2.01" fill="url(#gB)"/>
<ellipse cx="640.28" cy="487.08" rx="1.82" ry="2.65" fill="url(#gB)"/>
<ellipse cx="639.29" cy="484.30" rx="2.38" ry="2.39" fill="url(#gB)"/>
<ellipse cx="641.41" cy="487.55" rx="2.43" ry="2.14" fill="url(#gB)"/>
<ellipse cx="639.81" cy="487.44" rx="3.41" ry="3.41" fill="url(#gY2)"/>
<ellipse cx="636.54" cy="481.46" rx="2.10" ry="2.10" fill="url(#gC2)"/>
<ellipse cx="641.44" cy="471.49" rx="0.54" ry="0.54" fill="url(#gP)"/>
<ellipse cx="651.66" cy="490.23" rx="0.93" ry="0.93" fill="url(#gP)"/>
<ellipse cx="650.43" cy="490.93" rx="1.39" ry="1.39" fill="url(#gP)"/>
<ellipse cx="649.36" cy="485.81" rx="1.54" ry="1.54" fill="url(#gP)"/>
<ellipse cx="651.54" cy="483.15" rx="1.56" ry="1.56" fill="url(#gP)"/>
<ellipse cx="649.37" cy="488.25" rx="1.36" ry="1.36" fill="url(#gP)"/>
<ellipse cx="651.68" cy="490.93" rx="1.03" ry="1.03" fill="url(#gP)"/>
<ellipse cx="652.68" cy="483.85" rx="1.61" ry="1.61" fill="url(#gP)"/>
<ellipse cx="653.02" cy="488.79" rx="2.54" ry="2.59" fill="url(#gB)"/>
<ellipse cx="654.38" cy="489.21" rx="2.55" ry="1.97" fill="url(#gB)"/>
<ellipse cx="651.99" cy="485.78" rx="1.80" ry="1.81" fill="url(#gB)"/>
<ellipse cx="650.97" cy="490.24" rx="2.13" ry="2.71" fill="url(#gB)"/>
<ellipse cx="652.73" cy="486.30" rx="2.10" ry="1.70" fill="url(#gB)"/>
<ellipse cx="650.23" cy="485.83" rx="2.27" ry="1.73" fill="url(#gB)"/>
<ellipse cx="651.41" cy="486.51" rx="2.55" ry="2.13" fill="url(#gB)"/>
<ellipse cx="652.49" cy="488.89" rx="3.41" ry="3.41" fill="url(#gY2)"/>
<ellipse cx="649.05" cy="483.27" rx="2.36" ry="2.36" fill="url(#gC2)"/>
</g>
<rect x="445.65" y="299.45" width="69.60" height="48.70" fill="none" stroke="#050505" stroke-width="0.7"/>
<rect x="518.15" y="299.45" width="69.60" height="48.70" fill="none" stroke="#050505" stroke-width="0.7"/>
<rect x="590.45" y="299.45" width="69.60" height="48.70" fill="none" stroke="#050505" stroke-width="0.7"/>
<rect x="445.65" y="351.15" width="69.60" height="48.70" fill="none" stroke="#050505" stroke-width="0.7"/>
<rect x="518.15" y="351.15" width="69.60" height="48.70" fill="none" stroke="#050505" stroke-width="0.7"/>
<rect x="590.45" y="351.15" width="69.60" height="48.70" fill="none" stroke="#050505" stroke-width="0.7"/>
<rect x="445.65" y="402.85" width="69.60" height="48.70" fill="none" stroke="#050505" stroke-width="0.7"/>
<rect x="518.15" y="402.85" width="69.60" height="48.70" fill="none" stroke="#050505" stroke-width="0.7"/>
<rect x="590.45" y="402.85" width="69.60" height="48.70" fill="none" stroke="#050505" stroke-width="0.7"/>
<rect x="445.65" y="454.55" width="69.60" height="48.70" fill="none" stroke="#050505" stroke-width="0.7"/>
<rect x="518.15" y="454.55" width="69.60" height="48.70" fill="none" stroke="#050505" stroke-width="0.7"/>
<rect x="590.45" y="454.55" width="69.60" height="48.70" fill="none" stroke="#050505" stroke-width="0.7"/>
<rect x="664.2" y="298.5" width="3.2" height="48.2" fill="url(#cb)"/>
<line x1="667.40" y1="299.00" x2="668.40" y2="299.00" stroke="#888" stroke-width="0.4" />
<rect x="669.3" y="298.40" width="3.6" height="1.2" fill="#808080"/>
<line x1="667.40" y1="309.70" x2="668.40" y2="309.70" stroke="#888" stroke-width="0.4" />
<rect x="669.3" y="309.10" width="3.6" height="1.2" fill="#808080"/>
<line x1="667.40" y1="320.40" x2="668.40" y2="320.40" stroke="#888" stroke-width="0.4" />
<rect x="669.3" y="319.80" width="3.6" height="1.2" fill="#808080"/>
<line x1="667.40" y1="331.10" x2="668.40" y2="331.10" stroke="#888" stroke-width="0.4" />
<rect x="669.3" y="330.50" width="3.6" height="1.2" fill="#808080"/>
<line x1="667.40" y1="341.80" x2="668.40" y2="341.80" stroke="#888" stroke-width="0.4" />
<rect x="669.3" y="341.20" width="3.6" height="1.2" fill="#808080"/>
<rect x="675.3" y="320.5" width="1.8" height="3.6" fill="#999"/>
</svg>
</body></html>
